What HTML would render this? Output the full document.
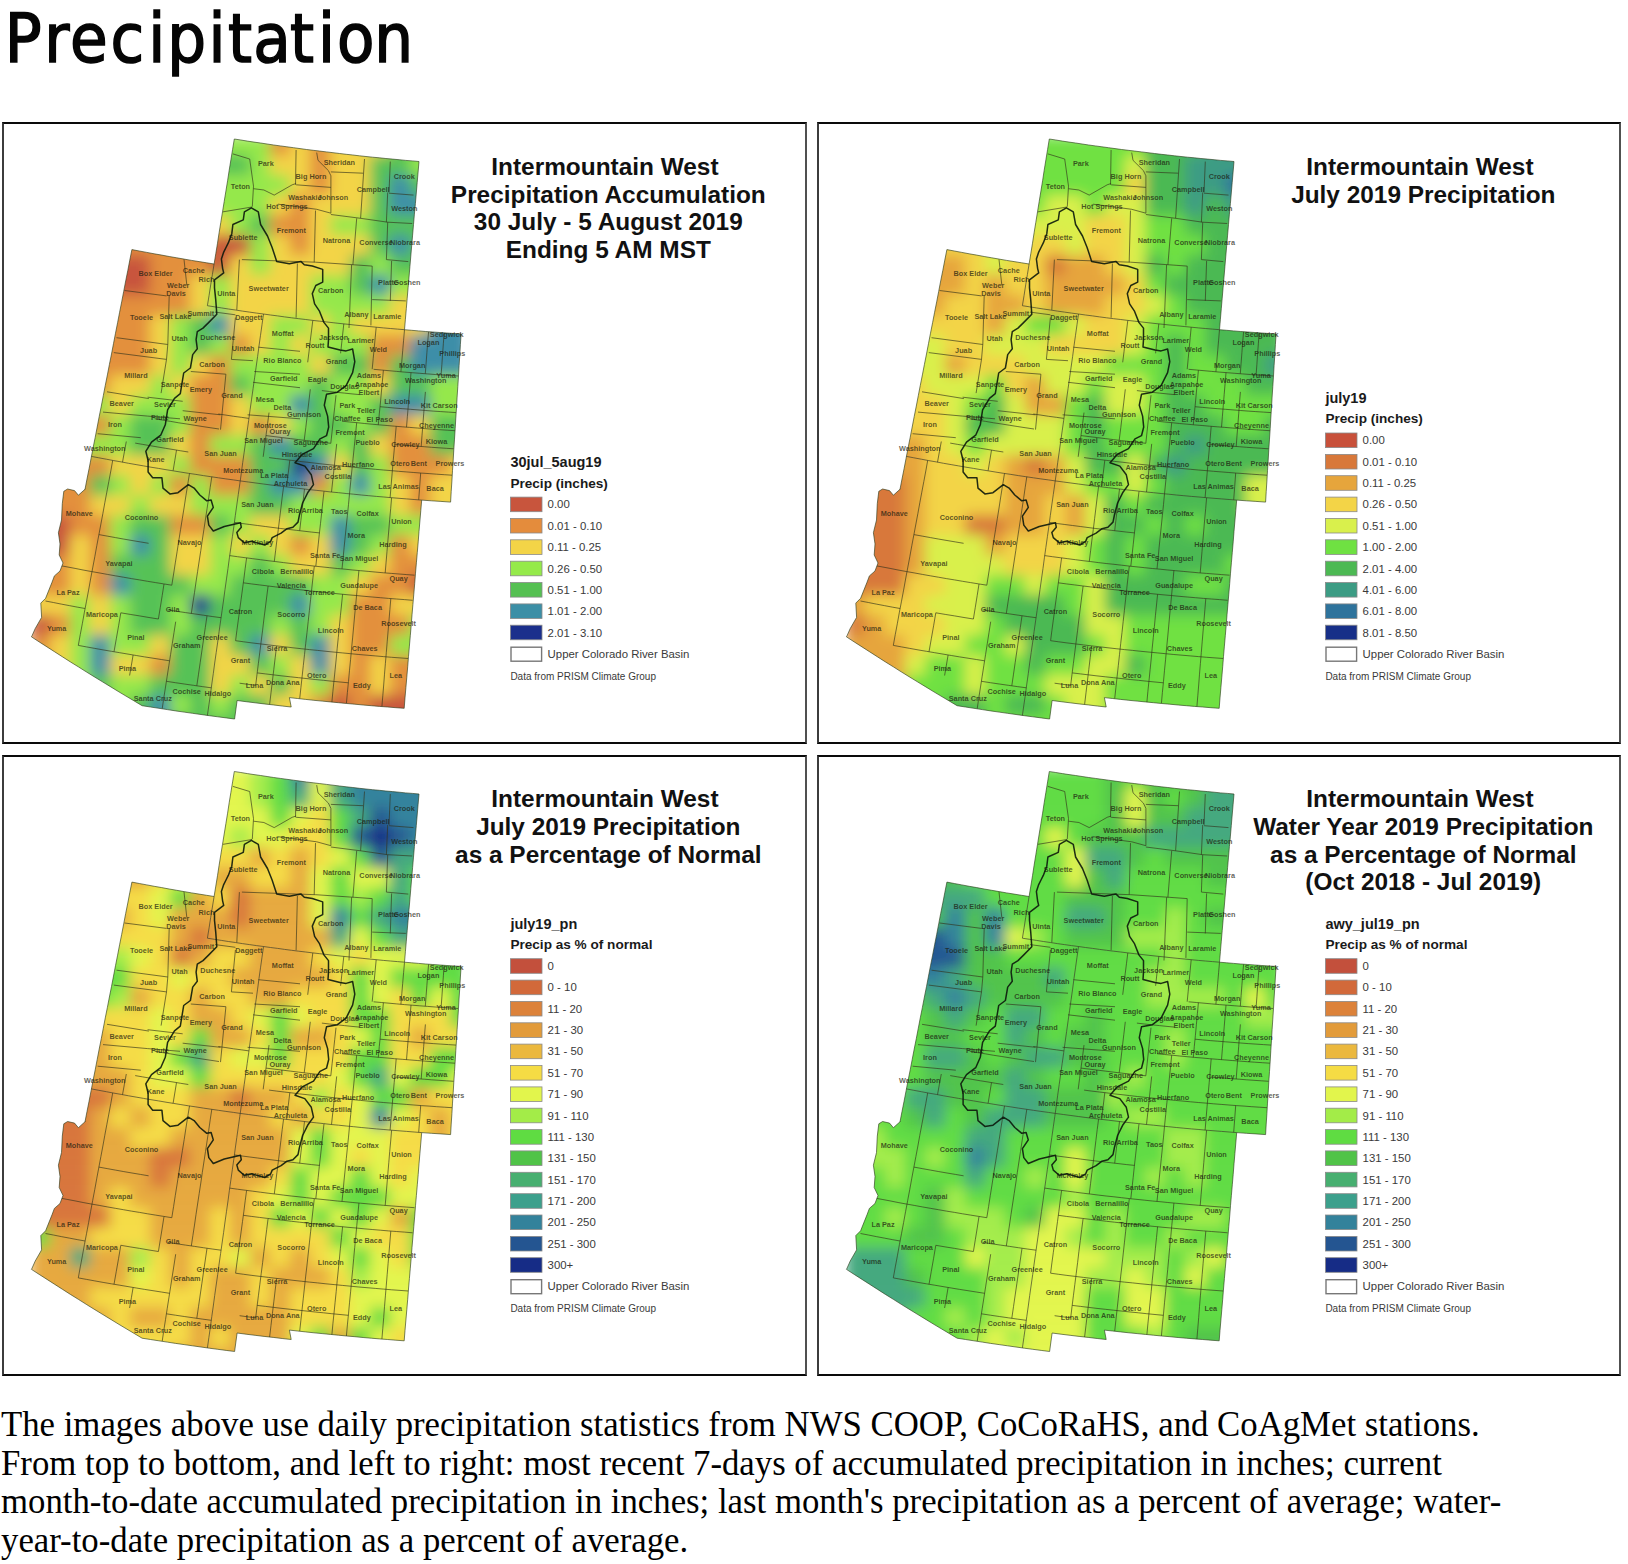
<!DOCTYPE html>
<html><head><meta charset="utf-8"><title>Precipitation</title>
<style>
html,body{margin:0;padding:0;background:#fff;}
body{width:1628px;height:1564px;position:relative;overflow:hidden;}
h1{position:absolute;left:3.2px;top:-2px;transform:scaleX(0.941);margin:0;font:normal 70px "DejaVu Sans",sans-serif;color:#0a0a0a;white-space:nowrap;transform-origin:0 0;}
.box{position:absolute;box-sizing:border-box;border:2px solid #0a0a0a;border-left-color:#3c3c3c;border-right-color:#505050;height:621.6px;}
p{position:absolute;left:0;margin:0;font:34.75px/38.7px "Liberation Serif","Times New Roman",serif;color:#000;white-space:nowrap;}
svg{position:absolute;left:0;top:0;}
.hd{font:normal 68px "DejaVu Sans Condensed","DejaVu Sans",sans-serif;font-stretch:condensed;fill:#050505;stroke:#050505;stroke-width:1.5px;}
.tt{font:bold 24.4px "Liberation Sans",Arial,sans-serif;fill:#111;text-anchor:middle;}
.lt{font:bold 14.5px "Liberation Sans",Arial,sans-serif;fill:#1a1a1a;}
.ls{font:bold 13.6px "Liberation Sans",Arial,sans-serif;fill:#1a1a1a;}
.ll{font:11.4px "Liberation Sans",Arial,sans-serif;fill:#3a3a3a;}
.cl{font:bold 7.3px "Liberation Sans",Arial,sans-serif;fill:#1d1d10;fill-opacity:0.72;text-anchor:middle;}
.lc{font:10px "Liberation Sans",Arial,sans-serif;fill:#3a3a3a;}
</style></head><body>
<div class="box" style="left:2.4px;top:122.4px;width:804.6px"></div>
<div class="box" style="left:817px;top:122.4px;width:804px"></div>
<div class="box" style="left:2.4px;top:754.8px;width:804.6px"></div>
<div class="box" style="left:817px;top:754.8px;width:804px"></div>
<svg width="1628" height="1564" viewBox="0 0 1628 1564">
<defs>
<clipPath id="clip"><path d="M131.9,249.6 L139.3,251.0 L146.8,252.4 L154.2,253.8 L161.7,255.1 L169.2,256.5 L176.7,257.8 L184.1,259.1 L191.6,260.4 L199.1,261.6 L206.6,262.8 L214.1,264.0 L215.8,253.6 L217.5,243.2 L219.1,232.8 L220.8,222.4 L222.5,211.9 L224.2,201.5 L225.9,191.1 L227.6,180.7 L229.2,170.2 L230.9,159.8 L232.6,149.4 L234.3,139.0 L240.8,140.0 L247.4,141.1 L254.0,142.1 L260.6,143.0 L267.1,144.0 L273.7,145.0 L280.3,145.9 L286.9,146.8 L293.5,147.7 L300.0,148.6 L306.6,149.5 L313.2,150.3 L319.8,151.1 L326.4,151.9 L333.0,152.7 L339.6,153.5 L346.2,154.3 L352.8,155.0 L359.4,155.8 L366.0,156.5 L372.6,157.2 L379.3,157.8 L385.9,158.5 L392.5,159.1 L399.1,159.7 L405.7,160.4 L412.3,160.9 L419.0,161.5 L418.1,172.0 L417.2,182.5 L416.3,193.0 L415.4,203.6 L414.4,214.1 L413.5,224.6 L412.6,235.1 L411.7,245.6 L410.8,256.1 L409.9,266.7 L409.0,277.2 L408.1,287.7 L407.2,298.2 L406.3,308.7 L405.4,319.2 L404.5,329.7 L411.6,330.3 L418.6,330.9 L425.7,331.5 L432.8,332.0 L439.9,332.5 L446.9,333.0 L454.0,333.5 L461.1,333.9 L460.4,344.5 L459.8,355.0 L459.1,365.5 L458.5,376.0 L457.8,386.6 L457.1,397.1 L456.5,407.6 L455.8,418.1 L455.2,428.6 L454.5,439.1 L453.8,449.6 L453.2,460.1 L452.5,470.6 L451.9,481.1 L451.2,491.6 L450.6,502.1 L440.9,501.4 L431.3,500.8 L421.7,500.1 L420.8,510.5 L419.9,521.0 L419.0,531.4 L418.2,541.9 L417.3,552.3 L416.4,562.8 L415.5,573.2 L414.7,583.6 L413.8,594.1 L412.9,604.5 L412.0,614.9 L411.2,625.3 L410.3,635.7 L409.4,646.1 L408.5,656.5 L407.7,666.8 L406.8,677.2 L405.9,687.6 L405.0,697.9 L404.2,708.3 L395.9,707.7 L387.7,707.0 L379.5,706.4 L371.3,705.7 L363.1,705.0 L354.9,704.2 L346.7,703.5 L338.5,702.7 L330.3,701.9 L322.1,701.1 L313.9,700.3 L305.7,699.4 L297.5,698.5 L289.4,697.6 L291.2,707.0 L282.2,706.0 L273.2,704.9 L264.1,703.9 L255.1,702.8 L246.1,701.7 L237.1,700.5 L234.6,719.0 L226.2,717.9 L217.8,716.8 L209.4,715.7 L201.0,714.5 L192.5,713.3 L184.1,712.1 L175.7,710.9 L167.3,709.6 L158.9,708.3 L150.5,707.0 L142.1,705.7 L134.1,700.9 L126.0,696.1 L118.0,691.3 L110.0,686.4 L102.1,681.6 L94.1,676.7 L86.2,671.8 L78.3,666.8 L70.4,661.9 L62.6,656.9 L54.8,651.9 L47.0,646.9 L39.2,641.9 L31.4,636.8 L32.0,635.8 L35.2,628.6 L41.6,617.4 L40.8,603.1 L45.6,598.3 L52.0,582.3 L54.4,575.9 L60.0,571.0 L63.0,563.0 L59.2,555.0 L60.0,543.9 L58.4,532.7 L61.5,520.0 L62.3,503.6 L63.8,491.3 L67.6,489.0 L74.5,490.6 L78.4,495.2 L85.3,489.0 L85.0,489.3 L87.0,479.0 L89.1,468.6 L91.1,458.2 L93.1,447.8 L95.2,437.4 L97.2,427.0 L99.2,416.6 L101.3,406.1 L103.3,395.7 L105.3,385.3 L107.4,374.9 L109.4,364.5 L111.5,354.0 L113.5,343.6 L115.5,333.2 L117.6,322.7 L119.6,312.3 L121.7,301.8 L123.7,291.4 L125.7,280.9 L127.8,270.5 L129.8,260.1 L131.9,249.6Z"/></clipPath>
<filter id="bl" x="-5%" y="-5%" width="110%" height="110%"><feGaussianBlur stdDeviation="7"/></filter>
</defs>
<text x="4.65 44.35 70.05 110.55 148.25 167.15 208.60 228.10 253.25 290.10 317.90 336.95 374.35" y="61.9" class="hd">Precipitation</text>
<g transform="translate(0,0)">
<g clip-path="url(#clip)"><g filter="url(#bl)"><rect x="30" y="135" width="20" height="20" fill="#95e84c"/><rect x="50" y="135" width="20" height="20" fill="#95e84c"/><rect x="70" y="135" width="20" height="20" fill="#95e84c"/><rect x="90" y="135" width="20" height="20" fill="#95e84c"/><rect x="110" y="135" width="20" height="20" fill="#95e84c"/><rect x="130" y="135" width="20" height="20" fill="#95e84c"/><rect x="150" y="135" width="20" height="20" fill="#95e84c"/><rect x="170" y="135" width="20" height="20" fill="#95e84c"/><rect x="190" y="135" width="20" height="20" fill="#95e84c"/><rect x="210" y="135" width="20" height="20" fill="#95e84c"/><rect x="230" y="135" width="20" height="20" fill="#95e84c"/><rect x="250" y="135" width="20" height="20" fill="#95e84c"/><rect x="270" y="135" width="20" height="20" fill="#e3903e"/><rect x="290" y="135" width="20" height="20" fill="#f3d447"/><rect x="310" y="135" width="20" height="20" fill="#e3903e"/><rect x="330" y="135" width="20" height="20" fill="#f3d447"/><rect x="350" y="135" width="20" height="20" fill="#f3d447"/><rect x="370" y="135" width="20" height="20" fill="#f3d447"/><rect x="390" y="135" width="20" height="20" fill="#57c257"/><rect x="410" y="135" width="20" height="20" fill="#95e84c"/><rect x="430" y="135" width="20" height="20" fill="#95e84c"/><rect x="450" y="135" width="20" height="20" fill="#95e84c"/><rect x="30" y="155" width="20" height="20" fill="#e3903e"/><rect x="50" y="155" width="20" height="20" fill="#e3903e"/><rect x="70" y="155" width="20" height="20" fill="#e3903e"/><rect x="90" y="155" width="20" height="20" fill="#e3903e"/><rect x="110" y="155" width="20" height="20" fill="#e3903e"/><rect x="130" y="155" width="20" height="20" fill="#e3903e"/><rect x="150" y="155" width="20" height="20" fill="#57c257"/><rect x="170" y="155" width="20" height="20" fill="#57c257"/><rect x="190" y="155" width="20" height="20" fill="#57c257"/><rect x="210" y="155" width="20" height="20" fill="#57c257"/><rect x="230" y="155" width="20" height="20" fill="#57c257"/><rect x="250" y="155" width="20" height="20" fill="#95e84c"/><rect x="270" y="155" width="20" height="20" fill="#f3d447"/><rect x="290" y="155" width="20" height="20" fill="#f3d447"/><rect x="310" y="155" width="20" height="20" fill="#e3903e"/><rect x="330" y="155" width="20" height="20" fill="#f3d447"/><rect x="350" y="155" width="20" height="20" fill="#f3d447"/><rect x="370" y="155" width="20" height="20" fill="#57c257"/><rect x="390" y="155" width="20" height="20" fill="#57c257"/><rect x="410" y="155" width="20" height="20" fill="#95e84c"/><rect x="430" y="155" width="20" height="20" fill="#95e84c"/><rect x="450" y="155" width="20" height="20" fill="#95e84c"/><rect x="30" y="175" width="20" height="20" fill="#e3903e"/><rect x="50" y="175" width="20" height="20" fill="#e3903e"/><rect x="70" y="175" width="20" height="20" fill="#e3903e"/><rect x="90" y="175" width="20" height="20" fill="#e3903e"/><rect x="110" y="175" width="20" height="20" fill="#e3903e"/><rect x="130" y="175" width="20" height="20" fill="#e3903e"/><rect x="150" y="175" width="20" height="20" fill="#e3903e"/><rect x="170" y="175" width="20" height="20" fill="#95e84c"/><rect x="190" y="175" width="20" height="20" fill="#95e84c"/><rect x="210" y="175" width="20" height="20" fill="#95e84c"/><rect x="230" y="175" width="20" height="20" fill="#95e84c"/><rect x="250" y="175" width="20" height="20" fill="#95e84c"/><rect x="270" y="175" width="20" height="20" fill="#95e84c"/><rect x="290" y="175" width="20" height="20" fill="#f3d447"/><rect x="310" y="175" width="20" height="20" fill="#e3903e"/><rect x="330" y="175" width="20" height="20" fill="#f3d447"/><rect x="350" y="175" width="20" height="20" fill="#f3d447"/><rect x="370" y="175" width="20" height="20" fill="#57c257"/><rect x="390" y="175" width="20" height="20" fill="#3d8ea8"/><rect x="410" y="175" width="20" height="20" fill="#57c257"/><rect x="430" y="175" width="20" height="20" fill="#57c257"/><rect x="450" y="175" width="20" height="20" fill="#57c257"/><rect x="30" y="195" width="20" height="20" fill="#e3903e"/><rect x="50" y="195" width="20" height="20" fill="#e3903e"/><rect x="70" y="195" width="20" height="20" fill="#e3903e"/><rect x="90" y="195" width="20" height="20" fill="#e3903e"/><rect x="110" y="195" width="20" height="20" fill="#e3903e"/><rect x="130" y="195" width="20" height="20" fill="#e3903e"/><rect x="150" y="195" width="20" height="20" fill="#e3903e"/><rect x="170" y="195" width="20" height="20" fill="#95e84c"/><rect x="190" y="195" width="20" height="20" fill="#95e84c"/><rect x="210" y="195" width="20" height="20" fill="#95e84c"/><rect x="230" y="195" width="20" height="20" fill="#95e84c"/><rect x="250" y="195" width="20" height="20" fill="#95e84c"/><rect x="270" y="195" width="20" height="20" fill="#f3d447"/><rect x="290" y="195" width="20" height="20" fill="#e3903e"/><rect x="310" y="195" width="20" height="20" fill="#f3d447"/><rect x="330" y="195" width="20" height="20" fill="#f3d447"/><rect x="350" y="195" width="20" height="20" fill="#f3d447"/><rect x="370" y="195" width="20" height="20" fill="#57c257"/><rect x="390" y="195" width="20" height="20" fill="#3d8ea8"/><rect x="410" y="195" width="20" height="20" fill="#3d8ea8"/><rect x="430" y="195" width="20" height="20" fill="#3d8ea8"/><rect x="450" y="195" width="20" height="20" fill="#3d8ea8"/><rect x="30" y="215" width="20" height="20" fill="#e3903e"/><rect x="50" y="215" width="20" height="20" fill="#e3903e"/><rect x="70" y="215" width="20" height="20" fill="#e3903e"/><rect x="90" y="215" width="20" height="20" fill="#e3903e"/><rect x="110" y="215" width="20" height="20" fill="#e3903e"/><rect x="130" y="215" width="20" height="20" fill="#e3903e"/><rect x="150" y="215" width="20" height="20" fill="#e3903e"/><rect x="170" y="215" width="20" height="20" fill="#e3903e"/><rect x="190" y="215" width="20" height="20" fill="#f3d447"/><rect x="210" y="215" width="20" height="20" fill="#f3d447"/><rect x="230" y="215" width="20" height="20" fill="#95e84c"/><rect x="250" y="215" width="20" height="20" fill="#57c257"/><rect x="270" y="215" width="20" height="20" fill="#e3903e"/><rect x="290" y="215" width="20" height="20" fill="#e3903e"/><rect x="310" y="215" width="20" height="20" fill="#f3d447"/><rect x="330" y="215" width="20" height="20" fill="#95e84c"/><rect x="350" y="215" width="20" height="20" fill="#95e84c"/><rect x="370" y="215" width="20" height="20" fill="#57c257"/><rect x="390" y="215" width="20" height="20" fill="#57c257"/><rect x="410" y="215" width="20" height="20" fill="#57c257"/><rect x="430" y="215" width="20" height="20" fill="#57c257"/><rect x="450" y="215" width="20" height="20" fill="#57c257"/><rect x="30" y="235" width="20" height="20" fill="#e3903e"/><rect x="50" y="235" width="20" height="20" fill="#e3903e"/><rect x="70" y="235" width="20" height="20" fill="#e3903e"/><rect x="90" y="235" width="20" height="20" fill="#e3903e"/><rect x="110" y="235" width="20" height="20" fill="#e3903e"/><rect x="130" y="235" width="20" height="20" fill="#e3903e"/><rect x="150" y="235" width="20" height="20" fill="#e3903e"/><rect x="170" y="235" width="20" height="20" fill="#e3903e"/><rect x="190" y="235" width="20" height="20" fill="#e3903e"/><rect x="210" y="235" width="20" height="20" fill="#c8553d"/><rect x="230" y="235" width="20" height="20" fill="#c8553d"/><rect x="250" y="235" width="20" height="20" fill="#95e84c"/><rect x="270" y="235" width="20" height="20" fill="#f3d447"/><rect x="290" y="235" width="20" height="20" fill="#e3903e"/><rect x="310" y="235" width="20" height="20" fill="#f3d447"/><rect x="330" y="235" width="20" height="20" fill="#f3d447"/><rect x="350" y="235" width="20" height="20" fill="#f3d447"/><rect x="370" y="235" width="20" height="20" fill="#57c257"/><rect x="390" y="235" width="20" height="20" fill="#3d8ea8"/><rect x="410" y="235" width="20" height="20" fill="#57c257"/><rect x="430" y="235" width="20" height="20" fill="#57c257"/><rect x="450" y="235" width="20" height="20" fill="#57c257"/><rect x="30" y="255" width="20" height="20" fill="#c8553d"/><rect x="50" y="255" width="20" height="20" fill="#c8553d"/><rect x="70" y="255" width="20" height="20" fill="#c8553d"/><rect x="90" y="255" width="20" height="20" fill="#c8553d"/><rect x="110" y="255" width="20" height="20" fill="#c8553d"/><rect x="130" y="255" width="20" height="20" fill="#c8553d"/><rect x="150" y="255" width="20" height="20" fill="#e3903e"/><rect x="170" y="255" width="20" height="20" fill="#e3903e"/><rect x="190" y="255" width="20" height="20" fill="#e3903e"/><rect x="210" y="255" width="20" height="20" fill="#c8553d"/><rect x="230" y="255" width="20" height="20" fill="#f3d447"/><rect x="250" y="255" width="20" height="20" fill="#95e84c"/><rect x="270" y="255" width="20" height="20" fill="#f3d447"/><rect x="290" y="255" width="20" height="20" fill="#f3d447"/><rect x="310" y="255" width="20" height="20" fill="#f3d447"/><rect x="330" y="255" width="20" height="20" fill="#f3d447"/><rect x="350" y="255" width="20" height="20" fill="#57c257"/><rect x="370" y="255" width="20" height="20" fill="#95e84c"/><rect x="390" y="255" width="20" height="20" fill="#57c257"/><rect x="410" y="255" width="20" height="20" fill="#57c257"/><rect x="430" y="255" width="20" height="20" fill="#57c257"/><rect x="450" y="255" width="20" height="20" fill="#57c257"/><rect x="30" y="275" width="20" height="20" fill="#c8553d"/><rect x="50" y="275" width="20" height="20" fill="#c8553d"/><rect x="70" y="275" width="20" height="20" fill="#c8553d"/><rect x="90" y="275" width="20" height="20" fill="#c8553d"/><rect x="110" y="275" width="20" height="20" fill="#c8553d"/><rect x="130" y="275" width="20" height="20" fill="#c8553d"/><rect x="150" y="275" width="20" height="20" fill="#e3903e"/><rect x="170" y="275" width="20" height="20" fill="#e3903e"/><rect x="190" y="275" width="20" height="20" fill="#f3d447"/><rect x="210" y="275" width="20" height="20" fill="#95e84c"/><rect x="230" y="275" width="20" height="20" fill="#f3d447"/><rect x="250" y="275" width="20" height="20" fill="#f3d447"/><rect x="270" y="275" width="20" height="20" fill="#f3d447"/><rect x="290" y="275" width="20" height="20" fill="#f3d447"/><rect x="310" y="275" width="20" height="20" fill="#95e84c"/><rect x="330" y="275" width="20" height="20" fill="#95e84c"/><rect x="350" y="275" width="20" height="20" fill="#57c257"/><rect x="370" y="275" width="20" height="20" fill="#3d8ea8"/><rect x="390" y="275" width="20" height="20" fill="#95e84c"/><rect x="410" y="275" width="20" height="20" fill="#95e84c"/><rect x="430" y="275" width="20" height="20" fill="#95e84c"/><rect x="450" y="275" width="20" height="20" fill="#95e84c"/><rect x="30" y="295" width="20" height="20" fill="#e3903e"/><rect x="50" y="295" width="20" height="20" fill="#e3903e"/><rect x="70" y="295" width="20" height="20" fill="#e3903e"/><rect x="90" y="295" width="20" height="20" fill="#e3903e"/><rect x="110" y="295" width="20" height="20" fill="#e3903e"/><rect x="130" y="295" width="20" height="20" fill="#e3903e"/><rect x="150" y="295" width="20" height="20" fill="#e3903e"/><rect x="170" y="295" width="20" height="20" fill="#e3903e"/><rect x="190" y="295" width="20" height="20" fill="#f3d447"/><rect x="210" y="295" width="20" height="20" fill="#95e84c"/><rect x="230" y="295" width="20" height="20" fill="#f3d447"/><rect x="250" y="295" width="20" height="20" fill="#f3d447"/><rect x="270" y="295" width="20" height="20" fill="#f3d447"/><rect x="290" y="295" width="20" height="20" fill="#f3d447"/><rect x="310" y="295" width="20" height="20" fill="#95e84c"/><rect x="330" y="295" width="20" height="20" fill="#95e84c"/><rect x="350" y="295" width="20" height="20" fill="#95e84c"/><rect x="370" y="295" width="20" height="20" fill="#95e84c"/><rect x="390" y="295" width="20" height="20" fill="#f3d447"/><rect x="410" y="295" width="20" height="20" fill="#f3d447"/><rect x="430" y="295" width="20" height="20" fill="#f3d447"/><rect x="450" y="295" width="20" height="20" fill="#3d8ea8"/><rect x="30" y="315" width="20" height="20" fill="#e3903e"/><rect x="50" y="315" width="20" height="20" fill="#e3903e"/><rect x="70" y="315" width="20" height="20" fill="#e3903e"/><rect x="90" y="315" width="20" height="20" fill="#e3903e"/><rect x="110" y="315" width="20" height="20" fill="#e3903e"/><rect x="130" y="315" width="20" height="20" fill="#e3903e"/><rect x="150" y="315" width="20" height="20" fill="#f3d447"/><rect x="170" y="315" width="20" height="20" fill="#95e84c"/><rect x="190" y="315" width="20" height="20" fill="#57c257"/><rect x="210" y="315" width="20" height="20" fill="#3d8ea8"/><rect x="230" y="315" width="20" height="20" fill="#f3d447"/><rect x="250" y="315" width="20" height="20" fill="#f3d447"/><rect x="270" y="315" width="20" height="20" fill="#95e84c"/><rect x="290" y="315" width="20" height="20" fill="#95e84c"/><rect x="310" y="315" width="20" height="20" fill="#f3d447"/><rect x="330" y="315" width="20" height="20" fill="#95e84c"/><rect x="350" y="315" width="20" height="20" fill="#f3d447"/><rect x="370" y="315" width="20" height="20" fill="#f3d447"/><rect x="390" y="315" width="20" height="20" fill="#f3d447"/><rect x="410" y="315" width="20" height="20" fill="#f3d447"/><rect x="430" y="315" width="20" height="20" fill="#3d8ea8"/><rect x="450" y="315" width="20" height="20" fill="#3d8ea8"/><rect x="30" y="335" width="20" height="20" fill="#e3903e"/><rect x="50" y="335" width="20" height="20" fill="#e3903e"/><rect x="70" y="335" width="20" height="20" fill="#e3903e"/><rect x="90" y="335" width="20" height="20" fill="#e3903e"/><rect x="110" y="335" width="20" height="20" fill="#e3903e"/><rect x="130" y="335" width="20" height="20" fill="#e3903e"/><rect x="150" y="335" width="20" height="20" fill="#f3d447"/><rect x="170" y="335" width="20" height="20" fill="#95e84c"/><rect x="190" y="335" width="20" height="20" fill="#57c257"/><rect x="210" y="335" width="20" height="20" fill="#95e84c"/><rect x="230" y="335" width="20" height="20" fill="#e3903e"/><rect x="250" y="335" width="20" height="20" fill="#f3d447"/><rect x="270" y="335" width="20" height="20" fill="#95e84c"/><rect x="290" y="335" width="20" height="20" fill="#f3d447"/><rect x="310" y="335" width="20" height="20" fill="#95e84c"/><rect x="330" y="335" width="20" height="20" fill="#95e84c"/><rect x="350" y="335" width="20" height="20" fill="#95e84c"/><rect x="370" y="335" width="20" height="20" fill="#e3903e"/><rect x="390" y="335" width="20" height="20" fill="#e3903e"/><rect x="410" y="335" width="20" height="20" fill="#3d8ea8"/><rect x="430" y="335" width="20" height="20" fill="#3d8ea8"/><rect x="450" y="335" width="20" height="20" fill="#3d8ea8"/><rect x="30" y="355" width="20" height="20" fill="#e3903e"/><rect x="50" y="355" width="20" height="20" fill="#e3903e"/><rect x="70" y="355" width="20" height="20" fill="#e3903e"/><rect x="90" y="355" width="20" height="20" fill="#e3903e"/><rect x="110" y="355" width="20" height="20" fill="#e3903e"/><rect x="130" y="355" width="20" height="20" fill="#e3903e"/><rect x="150" y="355" width="20" height="20" fill="#f3d447"/><rect x="170" y="355" width="20" height="20" fill="#95e84c"/><rect x="190" y="355" width="20" height="20" fill="#f3d447"/><rect x="210" y="355" width="20" height="20" fill="#e3903e"/><rect x="230" y="355" width="20" height="20" fill="#95e84c"/><rect x="250" y="355" width="20" height="20" fill="#95e84c"/><rect x="270" y="355" width="20" height="20" fill="#95e84c"/><rect x="290" y="355" width="20" height="20" fill="#95e84c"/><rect x="310" y="355" width="20" height="20" fill="#f3d447"/><rect x="330" y="355" width="20" height="20" fill="#57c257"/><rect x="350" y="355" width="20" height="20" fill="#57c257"/><rect x="370" y="355" width="20" height="20" fill="#e3903e"/><rect x="390" y="355" width="20" height="20" fill="#57c257"/><rect x="410" y="355" width="20" height="20" fill="#3d8ea8"/><rect x="430" y="355" width="20" height="20" fill="#3d8ea8"/><rect x="450" y="355" width="20" height="20" fill="#3d8ea8"/><rect x="30" y="375" width="20" height="20" fill="#e3903e"/><rect x="50" y="375" width="20" height="20" fill="#e3903e"/><rect x="70" y="375" width="20" height="20" fill="#e3903e"/><rect x="90" y="375" width="20" height="20" fill="#e3903e"/><rect x="110" y="375" width="20" height="20" fill="#f3d447"/><rect x="130" y="375" width="20" height="20" fill="#f3d447"/><rect x="150" y="375" width="20" height="20" fill="#95e84c"/><rect x="170" y="375" width="20" height="20" fill="#f3d447"/><rect x="190" y="375" width="20" height="20" fill="#e3903e"/><rect x="210" y="375" width="20" height="20" fill="#e3903e"/><rect x="230" y="375" width="20" height="20" fill="#57c257"/><rect x="250" y="375" width="20" height="20" fill="#95e84c"/><rect x="270" y="375" width="20" height="20" fill="#95e84c"/><rect x="290" y="375" width="20" height="20" fill="#95e84c"/><rect x="310" y="375" width="20" height="20" fill="#57c257"/><rect x="330" y="375" width="20" height="20" fill="#95e84c"/><rect x="350" y="375" width="20" height="20" fill="#95e84c"/><rect x="370" y="375" width="20" height="20" fill="#f3d447"/><rect x="390" y="375" width="20" height="20" fill="#57c257"/><rect x="410" y="375" width="20" height="20" fill="#57c257"/><rect x="430" y="375" width="20" height="20" fill="#95e84c"/><rect x="450" y="375" width="20" height="20" fill="#95e84c"/><rect x="30" y="395" width="20" height="20" fill="#95e84c"/><rect x="50" y="395" width="20" height="20" fill="#95e84c"/><rect x="70" y="395" width="20" height="20" fill="#95e84c"/><rect x="90" y="395" width="20" height="20" fill="#95e84c"/><rect x="110" y="395" width="20" height="20" fill="#f3d447"/><rect x="130" y="395" width="20" height="20" fill="#95e84c"/><rect x="150" y="395" width="20" height="20" fill="#95e84c"/><rect x="170" y="395" width="20" height="20" fill="#95e84c"/><rect x="190" y="395" width="20" height="20" fill="#e3903e"/><rect x="210" y="395" width="20" height="20" fill="#e3903e"/><rect x="230" y="395" width="20" height="20" fill="#f3d447"/><rect x="250" y="395" width="20" height="20" fill="#95e84c"/><rect x="270" y="395" width="20" height="20" fill="#95e84c"/><rect x="290" y="395" width="20" height="20" fill="#3d8ea8"/><rect x="310" y="395" width="20" height="20" fill="#57c257"/><rect x="330" y="395" width="20" height="20" fill="#95e84c"/><rect x="350" y="395" width="20" height="20" fill="#95e84c"/><rect x="370" y="395" width="20" height="20" fill="#57c257"/><rect x="390" y="395" width="20" height="20" fill="#3d8ea8"/><rect x="410" y="395" width="20" height="20" fill="#3d8ea8"/><rect x="430" y="395" width="20" height="20" fill="#95e84c"/><rect x="450" y="395" width="20" height="20" fill="#95e84c"/><rect x="30" y="415" width="20" height="20" fill="#e3903e"/><rect x="50" y="415" width="20" height="20" fill="#e3903e"/><rect x="70" y="415" width="20" height="20" fill="#e3903e"/><rect x="90" y="415" width="20" height="20" fill="#e3903e"/><rect x="110" y="415" width="20" height="20" fill="#95e84c"/><rect x="130" y="415" width="20" height="20" fill="#57c257"/><rect x="150" y="415" width="20" height="20" fill="#57c257"/><rect x="170" y="415" width="20" height="20" fill="#95e84c"/><rect x="190" y="415" width="20" height="20" fill="#e3903e"/><rect x="210" y="415" width="20" height="20" fill="#e3903e"/><rect x="230" y="415" width="20" height="20" fill="#f3d447"/><rect x="250" y="415" width="20" height="20" fill="#e3903e"/><rect x="270" y="415" width="20" height="20" fill="#f3d447"/><rect x="290" y="415" width="20" height="20" fill="#95e84c"/><rect x="310" y="415" width="20" height="20" fill="#57c257"/><rect x="330" y="415" width="20" height="20" fill="#57c257"/><rect x="350" y="415" width="20" height="20" fill="#95e84c"/><rect x="370" y="415" width="20" height="20" fill="#57c257"/><rect x="390" y="415" width="20" height="20" fill="#e3903e"/><rect x="410" y="415" width="20" height="20" fill="#f3d447"/><rect x="430" y="415" width="20" height="20" fill="#57c257"/><rect x="450" y="415" width="20" height="20" fill="#57c257"/><rect x="30" y="435" width="20" height="20" fill="#95e84c"/><rect x="50" y="435" width="20" height="20" fill="#95e84c"/><rect x="70" y="435" width="20" height="20" fill="#95e84c"/><rect x="90" y="435" width="20" height="20" fill="#95e84c"/><rect x="110" y="435" width="20" height="20" fill="#95e84c"/><rect x="130" y="435" width="20" height="20" fill="#57c257"/><rect x="150" y="435" width="20" height="20" fill="#57c257"/><rect x="170" y="435" width="20" height="20" fill="#f3d447"/><rect x="190" y="435" width="20" height="20" fill="#e3903e"/><rect x="210" y="435" width="20" height="20" fill="#95e84c"/><rect x="230" y="435" width="20" height="20" fill="#95e84c"/><rect x="250" y="435" width="20" height="20" fill="#57c257"/><rect x="270" y="435" width="20" height="20" fill="#3d8ea8"/><rect x="290" y="435" width="20" height="20" fill="#57c257"/><rect x="310" y="435" width="20" height="20" fill="#57c257"/><rect x="330" y="435" width="20" height="20" fill="#95e84c"/><rect x="350" y="435" width="20" height="20" fill="#57c257"/><rect x="370" y="435" width="20" height="20" fill="#f3d447"/><rect x="390" y="435" width="20" height="20" fill="#e3903e"/><rect x="410" y="435" width="20" height="20" fill="#e3903e"/><rect x="430" y="435" width="20" height="20" fill="#57c257"/><rect x="450" y="435" width="20" height="20" fill="#57c257"/><rect x="30" y="455" width="20" height="20" fill="#e3903e"/><rect x="50" y="455" width="20" height="20" fill="#e3903e"/><rect x="70" y="455" width="20" height="20" fill="#e3903e"/><rect x="90" y="455" width="20" height="20" fill="#e3903e"/><rect x="110" y="455" width="20" height="20" fill="#f3d447"/><rect x="130" y="455" width="20" height="20" fill="#f3d447"/><rect x="150" y="455" width="20" height="20" fill="#f3d447"/><rect x="170" y="455" width="20" height="20" fill="#95e84c"/><rect x="190" y="455" width="20" height="20" fill="#e3903e"/><rect x="210" y="455" width="20" height="20" fill="#e3903e"/><rect x="230" y="455" width="20" height="20" fill="#e3903e"/><rect x="250" y="455" width="20" height="20" fill="#57c257"/><rect x="270" y="455" width="20" height="20" fill="#57c257"/><rect x="290" y="455" width="20" height="20" fill="#1d3790"/><rect x="310" y="455" width="20" height="20" fill="#3d8ea8"/><rect x="330" y="455" width="20" height="20" fill="#f3d447"/><rect x="350" y="455" width="20" height="20" fill="#57c257"/><rect x="370" y="455" width="20" height="20" fill="#95e84c"/><rect x="390" y="455" width="20" height="20" fill="#e3903e"/><rect x="410" y="455" width="20" height="20" fill="#e3903e"/><rect x="430" y="455" width="20" height="20" fill="#e3903e"/><rect x="450" y="455" width="20" height="20" fill="#f3d447"/><rect x="30" y="475" width="20" height="20" fill="#e3903e"/><rect x="50" y="475" width="20" height="20" fill="#e3903e"/><rect x="70" y="475" width="20" height="20" fill="#e3903e"/><rect x="90" y="475" width="20" height="20" fill="#57c257"/><rect x="110" y="475" width="20" height="20" fill="#95e84c"/><rect x="130" y="475" width="20" height="20" fill="#f3d447"/><rect x="150" y="475" width="20" height="20" fill="#95e84c"/><rect x="170" y="475" width="20" height="20" fill="#e3903e"/><rect x="190" y="475" width="20" height="20" fill="#95e84c"/><rect x="210" y="475" width="20" height="20" fill="#e3903e"/><rect x="230" y="475" width="20" height="20" fill="#e3903e"/><rect x="250" y="475" width="20" height="20" fill="#57c257"/><rect x="270" y="475" width="20" height="20" fill="#3d8ea8"/><rect x="290" y="475" width="20" height="20" fill="#3d8ea8"/><rect x="310" y="475" width="20" height="20" fill="#e3903e"/><rect x="330" y="475" width="20" height="20" fill="#95e84c"/><rect x="350" y="475" width="20" height="20" fill="#3d8ea8"/><rect x="370" y="475" width="20" height="20" fill="#95e84c"/><rect x="390" y="475" width="20" height="20" fill="#f3d447"/><rect x="410" y="475" width="20" height="20" fill="#e3903e"/><rect x="430" y="475" width="20" height="20" fill="#f3d447"/><rect x="450" y="475" width="20" height="20" fill="#f3d447"/><rect x="30" y="495" width="20" height="20" fill="#e3903e"/><rect x="50" y="495" width="20" height="20" fill="#e3903e"/><rect x="70" y="495" width="20" height="20" fill="#e3903e"/><rect x="90" y="495" width="20" height="20" fill="#f3d447"/><rect x="110" y="495" width="20" height="20" fill="#f3d447"/><rect x="130" y="495" width="20" height="20" fill="#95e84c"/><rect x="150" y="495" width="20" height="20" fill="#f3d447"/><rect x="170" y="495" width="20" height="20" fill="#f3d447"/><rect x="190" y="495" width="20" height="20" fill="#95e84c"/><rect x="210" y="495" width="20" height="20" fill="#95e84c"/><rect x="230" y="495" width="20" height="20" fill="#95e84c"/><rect x="250" y="495" width="20" height="20" fill="#57c257"/><rect x="270" y="495" width="20" height="20" fill="#57c257"/><rect x="290" y="495" width="20" height="20" fill="#95e84c"/><rect x="310" y="495" width="20" height="20" fill="#95e84c"/><rect x="330" y="495" width="20" height="20" fill="#95e84c"/><rect x="350" y="495" width="20" height="20" fill="#95e84c"/><rect x="370" y="495" width="20" height="20" fill="#95e84c"/><rect x="390" y="495" width="20" height="20" fill="#f3d447"/><rect x="410" y="495" width="20" height="20" fill="#e3903e"/><rect x="430" y="495" width="20" height="20" fill="#f3d447"/><rect x="450" y="495" width="20" height="20" fill="#f3d447"/><rect x="30" y="515" width="20" height="20" fill="#c8553d"/><rect x="50" y="515" width="20" height="20" fill="#c8553d"/><rect x="70" y="515" width="20" height="20" fill="#e3903e"/><rect x="90" y="515" width="20" height="20" fill="#e3903e"/><rect x="110" y="515" width="20" height="20" fill="#95e84c"/><rect x="130" y="515" width="20" height="20" fill="#57c257"/><rect x="150" y="515" width="20" height="20" fill="#57c257"/><rect x="170" y="515" width="20" height="20" fill="#e3903e"/><rect x="190" y="515" width="20" height="20" fill="#e3903e"/><rect x="210" y="515" width="20" height="20" fill="#57c257"/><rect x="230" y="515" width="20" height="20" fill="#95e84c"/><rect x="250" y="515" width="20" height="20" fill="#f3d447"/><rect x="270" y="515" width="20" height="20" fill="#f3d447"/><rect x="290" y="515" width="20" height="20" fill="#95e84c"/><rect x="310" y="515" width="20" height="20" fill="#95e84c"/><rect x="330" y="515" width="20" height="20" fill="#3d8ea8"/><rect x="350" y="515" width="20" height="20" fill="#57c257"/><rect x="370" y="515" width="20" height="20" fill="#57c257"/><rect x="390" y="515" width="20" height="20" fill="#95e84c"/><rect x="410" y="515" width="20" height="20" fill="#95e84c"/><rect x="430" y="515" width="20" height="20" fill="#95e84c"/><rect x="450" y="515" width="20" height="20" fill="#95e84c"/><rect x="30" y="535" width="20" height="20" fill="#c8553d"/><rect x="50" y="535" width="20" height="20" fill="#c8553d"/><rect x="70" y="535" width="20" height="20" fill="#f3d447"/><rect x="90" y="535" width="20" height="20" fill="#e3903e"/><rect x="110" y="535" width="20" height="20" fill="#95e84c"/><rect x="130" y="535" width="20" height="20" fill="#3d8ea8"/><rect x="150" y="535" width="20" height="20" fill="#57c257"/><rect x="170" y="535" width="20" height="20" fill="#f3d447"/><rect x="190" y="535" width="20" height="20" fill="#f3d447"/><rect x="210" y="535" width="20" height="20" fill="#95e84c"/><rect x="230" y="535" width="20" height="20" fill="#f3d447"/><rect x="250" y="535" width="20" height="20" fill="#95e84c"/><rect x="270" y="535" width="20" height="20" fill="#f3d447"/><rect x="290" y="535" width="20" height="20" fill="#e3903e"/><rect x="310" y="535" width="20" height="20" fill="#f3d447"/><rect x="330" y="535" width="20" height="20" fill="#3d8ea8"/><rect x="350" y="535" width="20" height="20" fill="#57c257"/><rect x="370" y="535" width="20" height="20" fill="#95e84c"/><rect x="390" y="535" width="20" height="20" fill="#e3903e"/><rect x="410" y="535" width="20" height="20" fill="#f3d447"/><rect x="430" y="535" width="20" height="20" fill="#f3d447"/><rect x="450" y="535" width="20" height="20" fill="#f3d447"/><rect x="30" y="555" width="20" height="20" fill="#e3903e"/><rect x="50" y="555" width="20" height="20" fill="#e3903e"/><rect x="70" y="555" width="20" height="20" fill="#f3d447"/><rect x="90" y="555" width="20" height="20" fill="#e3903e"/><rect x="110" y="555" width="20" height="20" fill="#57c257"/><rect x="130" y="555" width="20" height="20" fill="#57c257"/><rect x="150" y="555" width="20" height="20" fill="#57c257"/><rect x="170" y="555" width="20" height="20" fill="#f3d447"/><rect x="190" y="555" width="20" height="20" fill="#f3d447"/><rect x="210" y="555" width="20" height="20" fill="#95e84c"/><rect x="230" y="555" width="20" height="20" fill="#95e84c"/><rect x="250" y="555" width="20" height="20" fill="#57c257"/><rect x="270" y="555" width="20" height="20" fill="#95e84c"/><rect x="290" y="555" width="20" height="20" fill="#f3d447"/><rect x="310" y="555" width="20" height="20" fill="#f3d447"/><rect x="330" y="555" width="20" height="20" fill="#57c257"/><rect x="350" y="555" width="20" height="20" fill="#95e84c"/><rect x="370" y="555" width="20" height="20" fill="#f3d447"/><rect x="390" y="555" width="20" height="20" fill="#e3903e"/><rect x="410" y="555" width="20" height="20" fill="#e3903e"/><rect x="430" y="555" width="20" height="20" fill="#e3903e"/><rect x="450" y="555" width="20" height="20" fill="#e3903e"/><rect x="30" y="575" width="20" height="20" fill="#e3903e"/><rect x="50" y="575" width="20" height="20" fill="#e3903e"/><rect x="70" y="575" width="20" height="20" fill="#f3d447"/><rect x="90" y="575" width="20" height="20" fill="#e3903e"/><rect x="110" y="575" width="20" height="20" fill="#3d8ea8"/><rect x="130" y="575" width="20" height="20" fill="#57c257"/><rect x="150" y="575" width="20" height="20" fill="#57c257"/><rect x="170" y="575" width="20" height="20" fill="#57c257"/><rect x="190" y="575" width="20" height="20" fill="#95e84c"/><rect x="210" y="575" width="20" height="20" fill="#95e84c"/><rect x="230" y="575" width="20" height="20" fill="#57c257"/><rect x="250" y="575" width="20" height="20" fill="#57c257"/><rect x="270" y="575" width="20" height="20" fill="#57c257"/><rect x="290" y="575" width="20" height="20" fill="#57c257"/><rect x="310" y="575" width="20" height="20" fill="#95e84c"/><rect x="330" y="575" width="20" height="20" fill="#95e84c"/><rect x="350" y="575" width="20" height="20" fill="#f3d447"/><rect x="370" y="575" width="20" height="20" fill="#e3903e"/><rect x="390" y="575" width="20" height="20" fill="#e3903e"/><rect x="410" y="575" width="20" height="20" fill="#c8553d"/><rect x="430" y="575" width="20" height="20" fill="#c8553d"/><rect x="450" y="575" width="20" height="20" fill="#c8553d"/><rect x="30" y="595" width="20" height="20" fill="#f3d447"/><rect x="50" y="595" width="20" height="20" fill="#f3d447"/><rect x="70" y="595" width="20" height="20" fill="#95e84c"/><rect x="90" y="595" width="20" height="20" fill="#f3d447"/><rect x="110" y="595" width="20" height="20" fill="#95e84c"/><rect x="130" y="595" width="20" height="20" fill="#57c257"/><rect x="150" y="595" width="20" height="20" fill="#57c257"/><rect x="170" y="595" width="20" height="20" fill="#95e84c"/><rect x="190" y="595" width="20" height="20" fill="#1d3790"/><rect x="210" y="595" width="20" height="20" fill="#57c257"/><rect x="230" y="595" width="20" height="20" fill="#57c257"/><rect x="250" y="595" width="20" height="20" fill="#57c257"/><rect x="270" y="595" width="20" height="20" fill="#57c257"/><rect x="290" y="595" width="20" height="20" fill="#3d8ea8"/><rect x="310" y="595" width="20" height="20" fill="#95e84c"/><rect x="330" y="595" width="20" height="20" fill="#95e84c"/><rect x="350" y="595" width="20" height="20" fill="#e3903e"/><rect x="370" y="595" width="20" height="20" fill="#e3903e"/><rect x="390" y="595" width="20" height="20" fill="#f3d447"/><rect x="410" y="595" width="20" height="20" fill="#f3d447"/><rect x="430" y="595" width="20" height="20" fill="#f3d447"/><rect x="450" y="595" width="20" height="20" fill="#f3d447"/><rect x="30" y="615" width="20" height="20" fill="#c8553d"/><rect x="50" y="615" width="20" height="20" fill="#e3903e"/><rect x="70" y="615" width="20" height="20" fill="#95e84c"/><rect x="90" y="615" width="20" height="20" fill="#f3d447"/><rect x="110" y="615" width="20" height="20" fill="#95e84c"/><rect x="130" y="615" width="20" height="20" fill="#57c257"/><rect x="150" y="615" width="20" height="20" fill="#57c257"/><rect x="170" y="615" width="20" height="20" fill="#95e84c"/><rect x="190" y="615" width="20" height="20" fill="#57c257"/><rect x="210" y="615" width="20" height="20" fill="#57c257"/><rect x="230" y="615" width="20" height="20" fill="#57c257"/><rect x="250" y="615" width="20" height="20" fill="#57c257"/><rect x="270" y="615" width="20" height="20" fill="#95e84c"/><rect x="290" y="615" width="20" height="20" fill="#57c257"/><rect x="310" y="615" width="20" height="20" fill="#95e84c"/><rect x="330" y="615" width="20" height="20" fill="#f3d447"/><rect x="350" y="615" width="20" height="20" fill="#e3903e"/><rect x="370" y="615" width="20" height="20" fill="#e3903e"/><rect x="390" y="615" width="20" height="20" fill="#e3903e"/><rect x="410" y="615" width="20" height="20" fill="#95e84c"/><rect x="430" y="615" width="20" height="20" fill="#95e84c"/><rect x="450" y="615" width="20" height="20" fill="#95e84c"/><rect x="30" y="635" width="20" height="20" fill="#e3903e"/><rect x="50" y="635" width="20" height="20" fill="#f3d447"/><rect x="70" y="635" width="20" height="20" fill="#95e84c"/><rect x="90" y="635" width="20" height="20" fill="#3d8ea8"/><rect x="110" y="635" width="20" height="20" fill="#95e84c"/><rect x="130" y="635" width="20" height="20" fill="#95e84c"/><rect x="150" y="635" width="20" height="20" fill="#f3d447"/><rect x="170" y="635" width="20" height="20" fill="#57c257"/><rect x="190" y="635" width="20" height="20" fill="#57c257"/><rect x="210" y="635" width="20" height="20" fill="#f3d447"/><rect x="230" y="635" width="20" height="20" fill="#57c257"/><rect x="250" y="635" width="20" height="20" fill="#3d8ea8"/><rect x="270" y="635" width="20" height="20" fill="#f3d447"/><rect x="290" y="635" width="20" height="20" fill="#57c257"/><rect x="310" y="635" width="20" height="20" fill="#3d8ea8"/><rect x="330" y="635" width="20" height="20" fill="#f3d447"/><rect x="350" y="635" width="20" height="20" fill="#e3903e"/><rect x="370" y="635" width="20" height="20" fill="#e3903e"/><rect x="390" y="635" width="20" height="20" fill="#95e84c"/><rect x="410" y="635" width="20" height="20" fill="#95e84c"/><rect x="430" y="635" width="20" height="20" fill="#95e84c"/><rect x="450" y="635" width="20" height="20" fill="#95e84c"/><rect x="30" y="655" width="20" height="20" fill="#e3903e"/><rect x="50" y="655" width="20" height="20" fill="#f3d447"/><rect x="70" y="655" width="20" height="20" fill="#95e84c"/><rect x="90" y="655" width="20" height="20" fill="#3d8ea8"/><rect x="110" y="655" width="20" height="20" fill="#f3d447"/><rect x="130" y="655" width="20" height="20" fill="#f3d447"/><rect x="150" y="655" width="20" height="20" fill="#e3903e"/><rect x="170" y="655" width="20" height="20" fill="#57c257"/><rect x="190" y="655" width="20" height="20" fill="#57c257"/><rect x="210" y="655" width="20" height="20" fill="#f3d447"/><rect x="230" y="655" width="20" height="20" fill="#f3d447"/><rect x="250" y="655" width="20" height="20" fill="#57c257"/><rect x="270" y="655" width="20" height="20" fill="#95e84c"/><rect x="290" y="655" width="20" height="20" fill="#f3d447"/><rect x="310" y="655" width="20" height="20" fill="#3d8ea8"/><rect x="330" y="655" width="20" height="20" fill="#f3d447"/><rect x="350" y="655" width="20" height="20" fill="#e3903e"/><rect x="370" y="655" width="20" height="20" fill="#f3d447"/><rect x="390" y="655" width="20" height="20" fill="#e3903e"/><rect x="410" y="655" width="20" height="20" fill="#e3903e"/><rect x="430" y="655" width="20" height="20" fill="#e3903e"/><rect x="450" y="655" width="20" height="20" fill="#e3903e"/><rect x="30" y="675" width="20" height="20" fill="#e3903e"/><rect x="50" y="675" width="20" height="20" fill="#f3d447"/><rect x="70" y="675" width="20" height="20" fill="#95e84c"/><rect x="90" y="675" width="20" height="20" fill="#57c257"/><rect x="110" y="675" width="20" height="20" fill="#95e84c"/><rect x="130" y="675" width="20" height="20" fill="#95e84c"/><rect x="150" y="675" width="20" height="20" fill="#57c257"/><rect x="170" y="675" width="20" height="20" fill="#57c257"/><rect x="190" y="675" width="20" height="20" fill="#57c257"/><rect x="210" y="675" width="20" height="20" fill="#f3d447"/><rect x="230" y="675" width="20" height="20" fill="#95e84c"/><rect x="250" y="675" width="20" height="20" fill="#f3d447"/><rect x="270" y="675" width="20" height="20" fill="#57c257"/><rect x="290" y="675" width="20" height="20" fill="#f3d447"/><rect x="310" y="675" width="20" height="20" fill="#95e84c"/><rect x="330" y="675" width="20" height="20" fill="#e3903e"/><rect x="350" y="675" width="20" height="20" fill="#e3903e"/><rect x="370" y="675" width="20" height="20" fill="#f3d447"/><rect x="390" y="675" width="20" height="20" fill="#e3903e"/><rect x="410" y="675" width="20" height="20" fill="#e3903e"/><rect x="430" y="675" width="20" height="20" fill="#e3903e"/><rect x="450" y="675" width="20" height="20" fill="#e3903e"/><rect x="30" y="695" width="20" height="20" fill="#e3903e"/><rect x="50" y="695" width="20" height="20" fill="#f3d447"/><rect x="70" y="695" width="20" height="20" fill="#95e84c"/><rect x="90" y="695" width="20" height="20" fill="#57c257"/><rect x="110" y="695" width="20" height="20" fill="#95e84c"/><rect x="130" y="695" width="20" height="20" fill="#57c257"/><rect x="150" y="695" width="20" height="20" fill="#3d8ea8"/><rect x="170" y="695" width="20" height="20" fill="#95e84c"/><rect x="190" y="695" width="20" height="20" fill="#57c257"/><rect x="210" y="695" width="20" height="20" fill="#95e84c"/><rect x="230" y="695" width="20" height="20" fill="#57c257"/><rect x="250" y="695" width="20" height="20" fill="#57c257"/><rect x="270" y="695" width="20" height="20" fill="#f3d447"/><rect x="290" y="695" width="20" height="20" fill="#f3d447"/><rect x="310" y="695" width="20" height="20" fill="#e3903e"/><rect x="330" y="695" width="20" height="20" fill="#c8553d"/><rect x="350" y="695" width="20" height="20" fill="#e3903e"/><rect x="370" y="695" width="20" height="20" fill="#c8553d"/><rect x="390" y="695" width="20" height="20" fill="#c8553d"/><rect x="410" y="695" width="20" height="20" fill="#c8553d"/><rect x="430" y="695" width="20" height="20" fill="#c8553d"/><rect x="450" y="695" width="20" height="20" fill="#c8553d"/><rect x="30" y="715" width="20" height="20" fill="#e3903e"/><rect x="50" y="715" width="20" height="20" fill="#f3d447"/><rect x="70" y="715" width="20" height="20" fill="#95e84c"/><rect x="90" y="715" width="20" height="20" fill="#57c257"/><rect x="110" y="715" width="20" height="20" fill="#95e84c"/><rect x="130" y="715" width="20" height="20" fill="#57c257"/><rect x="150" y="715" width="20" height="20" fill="#3d8ea8"/><rect x="170" y="715" width="20" height="20" fill="#57c257"/><rect x="190" y="715" width="20" height="20" fill="#57c257"/><rect x="210" y="715" width="20" height="20" fill="#57c257"/><rect x="230" y="715" width="20" height="20" fill="#57c257"/><rect x="250" y="715" width="20" height="20" fill="#57c257"/><rect x="270" y="715" width="20" height="20" fill="#f3d447"/><rect x="290" y="715" width="20" height="20" fill="#f3d447"/><rect x="310" y="715" width="20" height="20" fill="#e3903e"/><rect x="330" y="715" width="20" height="20" fill="#c8553d"/><rect x="350" y="715" width="20" height="20" fill="#e3903e"/><rect x="370" y="715" width="20" height="20" fill="#c8553d"/><rect x="390" y="715" width="20" height="20" fill="#c8553d"/><rect x="410" y="715" width="20" height="20" fill="#c8553d"/><rect x="430" y="715" width="20" height="20" fill="#c8553d"/><rect x="450" y="715" width="20" height="20" fill="#c8553d"/></g></g>
<g fill="none" stroke="#3a3a2a" stroke-width="0.9" stroke-opacity="0.75"><path d="M207.4,305.7 L214.4,306.8 L221.4,307.9 L228.4,309.0 L235.4,310.0 L242.4,311.1 L249.5,312.1 L256.5,313.1 L263.5,314.0 L270.5,315.0 L277.6,315.9 L284.6,316.9 L291.6,317.8 L298.7,318.7 L305.7,319.5 L312.8,320.4 L319.8,321.2 L326.9,322.0 L333.9,322.8 L341.0,323.6 L348.0,324.3 L355.1,325.1 L362.1,325.8 L369.2,326.5 L376.2,327.2 L383.3,327.9 L390.4,328.5 L397.4,329.1 L404.5,329.7"/><path d="M214.1,264.0 L212.4,274.5 L210.7,284.9 L209.1,295.3 L207.4,305.7"/><path d="M263.5,314.0 L262.0,324.7 L260.5,335.3 L259.0,345.9 L257.6,356.6 L256.1,367.2 L254.6,377.8 L253.1,388.4 L251.6,399.1 L250.1,409.7 L248.7,420.3 L247.2,430.9 L245.7,441.5 L244.2,452.1 L242.7,462.7 L241.3,473.3 L239.8,483.9 L238.3,494.4 L236.8,505.0 L235.3,515.6 L233.9,526.2 L232.4,536.7 L230.9,547.3 L229.4,557.8 L228.0,568.4 L226.5,578.9 L225.0,589.5 L223.6,600.0 L222.1,610.5 L220.6,621.0 L219.1,631.5 L217.7,642.1 L216.2,652.5 L214.7,663.0 L213.3,673.5 L211.8,684.0 L210.4,694.5 L208.9,704.9 L207.4,715.4"/><path d="M91.4,456.4 L98.8,457.8 L106.3,459.2 L113.7,460.6 L121.2,461.9 L128.6,463.3 L136.1,464.6 L143.6,465.9 L151.0,467.2 L158.5,468.4 L166.0,469.7 L173.5,470.9 L180.9,472.1 L188.4,473.3 L195.9,474.4 L203.4,475.6 L210.9,476.7 L218.4,477.8 L225.9,478.9 L233.4,479.9 L240.9,481.0 L248.4,482.0 L255.9,483.0 L263.4,484.0 L270.9,485.0 L278.4,485.9 L286.0,486.8 L293.5,487.7 L301.0,488.6 L308.5,489.5 L316.1,490.3 L323.6,491.1 L331.1,492.0 L338.6,492.7 L346.2,493.5 L353.7,494.2 L361.3,495.0 L368.8,495.7 L376.4,496.4 L383.9,497.0 L391.4,497.7 L399.0,498.3 L406.6,498.9 L414.1,499.5 L421.7,500.1"/></g><g clip-path="url(#clip)" fill="none" stroke="#33331c" stroke-width="0.9" stroke-opacity="0.72"><path d="M232.9,153.9 L249.7,159.0 L253.5,186.1 L252.3,206.7"/><path d="M253.5,188.7 L263.9,190.0 L274.2,195.1 L292.2,184.8 L296.1,183.5"/><path d="M296.1,150.0 L295.5,184.8"/><path d="M296.1,184.8 L330.9,187.4"/><path d="M316.7,152.6 L318.0,160.3 L328.4,170.6 L330.9,175.8"/><path d="M330.9,171.9 L363.2,173.2"/><path d="M330.9,175.8 L330.9,213.2"/><path d="M364.5,159.0 L360.6,218.3"/><path d="M390.3,161.6 L389.0,192.5"/><path d="M389.0,193.2 L413.5,195.1"/><path d="M387.7,192.5 L386.4,222.2"/><path d="M278.0,204.2 L297.4,206.7 L316.7,209.3 L330.9,213.2"/><path d="M330.9,214.5 L360.6,218.3 L387.7,222.2 L412.2,223.5"/><path d="M315.5,210.6 L314.2,262.2"/><path d="M356.7,218.3 L352.9,264.8"/><path d="M387.7,222.2 L386.4,259.6"/><path d="M241.9,259.6 L315.5,262.2 L354.2,264.8 L372.2,266.1"/><path d="M386.4,259.6 L408.3,261.6"/><path d="M372.2,266.1 L370.9,325.4"/><path d="M391.6,260.9 L390.3,300.9"/><path d="M372.2,299.6 L405.8,300.9"/><path d="M351.6,264.8 L349.0,328.0"/><path d="M297.4,263.5 L296.1,317.7"/><path d="M239.4,259.6 L236.8,309.9"/><path d="M222.6,211.9 L252.0,207.0"/><path d="M184.0,259.4 L186.8,285.0"/><path d="M124.6,290.5 L166.5,295.9"/><path d="M116.5,337.7 L167.8,344.5"/><path d="M113.8,352.6 L166.5,359.4"/><path d="M107.0,391.8 L148.9,398.6"/><path d="M103.0,412.1 L147.6,416.1"/><path d="M97.6,433.7 L140.8,437.7"/><path d="M169.2,295.9 L167.8,344.5 L166.5,359.4 L161.1,393.1"/><path d="M235.4,317.5 L231.4,359.4"/><path d="M231.4,359.4 L253.0,360.7"/><path d="M190.8,371.5 L225.9,374.2"/><path d="M225.9,374.2 L220.5,429.6"/><path d="M182.7,410.7 L220.5,414.8"/><path d="M147.6,397.2 L182.7,401.3"/><path d="M147.6,416.1 L180.0,418.8"/><path d="M215.1,312.1 L235.4,314.8"/><path d="M258.4,347.2 L300.0,351.3"/><path d="M254.3,371.5 L300.0,374.2"/><path d="M253.0,382.3 L300.0,387.7"/><path d="M247.6,414.8 L300.0,418.8"/><path d="M122.5,462.2 L124.4,451.8 L126.3,441.5"/><path d="M135.2,443.1 L142.7,444.4 L150.3,445.7 L157.9,447.0 L165.5,448.3 L173.1,449.5 L180.7,450.8 L188.3,452.0"/><path d="M154.6,418.7 L162.6,420.1 L170.7,421.4 L178.7,422.8 L186.8,424.0 L194.8,425.3 L202.9,426.6 L210.9,427.8 L219.0,429.0"/><path d="M218.3,414.0 L225.9,415.1 L233.6,416.3 L241.3,417.3 L248.9,418.4"/><path d="M173.1,470.8 L174.8,460.5 L176.5,450.1"/><path d="M373.6,369.3 L381.3,370.0 L389.0,370.7 L396.7,371.4 L404.4,372.1 L412.1,372.7 L419.8,373.3 L427.5,373.9 L435.3,374.5 L443.0,375.0 L450.7,375.5 L458.4,376.0"/><path d="M400.9,371.8 L401.8,361.3 L402.7,350.8 L403.6,340.2 L404.5,329.7"/><path d="M425.3,373.7 L426.1,363.2 L426.9,352.7 L427.7,342.2 L428.6,331.7"/><path d="M441.1,374.9 L441.9,364.4 L442.6,353.8 L443.4,343.3 L444.1,332.8"/><path d="M372.2,369.2 L373.2,358.7 L374.2,348.2 L375.2,337.7 L376.2,327.2"/><path d="M340.6,353.3 L342.2,338.6 L343.8,323.9"/><path d="M307.7,362.3 L309.0,351.8 L310.2,341.3 L311.5,330.9 L312.8,320.4"/><path d="M380.0,406.7 L387.6,407.4 L395.2,408.1 L402.8,408.7 L410.4,409.3 L418.0,409.9 L425.6,410.5 L433.2,411.1 L440.8,411.6 L448.4,412.1 L456.0,412.6"/><path d="M406.5,427.2 L407.4,416.3 L408.3,405.4 L409.2,394.4 L410.1,383.5 L411.0,372.6"/><path d="M421.2,446.5 L422.0,435.6 L422.9,424.7 L423.7,413.8 L424.5,402.8 L425.4,391.9"/><path d="M378.3,424.8 L379.3,413.9 L380.4,403.0 L381.4,392.0 L382.4,381.1 L383.4,370.2"/><path d="M342.0,421.2 L349.6,422.0 L357.1,422.7 L364.6,423.5 L372.1,424.2 L379.6,424.9 L387.1,425.5 L394.6,426.2 L402.2,426.8 L409.7,427.4 L417.2,428.0 L424.7,428.6 L432.3,429.2 L439.8,429.7 L447.3,430.2 L454.9,430.7"/><path d="M394.7,444.4 L402.0,445.0 L409.4,445.6 L416.8,446.2 L424.2,446.7 L431.5,447.3 L438.9,447.8 L446.3,448.3 L453.7,448.8"/><path d="M390.1,497.6 L391.1,485.7 L392.1,473.8 L393.1,462.0 L394.2,450.1 L395.2,438.2 L396.2,426.3"/><path d="M269.1,457.6 L276.7,458.6 L284.3,459.5 L291.9,460.4 L299.5,461.4 L307.1,462.2 L314.7,463.1 L322.3,464.0 L329.9,464.8 L337.5,465.6 L345.2,466.4 L352.8,467.1 L360.4,467.9 L368.0,468.6 L375.6,469.3 L383.3,470.0 L390.9,470.6 L398.5,471.3 L406.2,471.9 L413.8,472.5 L421.4,473.1 L429.1,473.6 L436.7,474.2 L444.3,474.7 L452.0,475.2"/><path d="M418.7,499.8 L419.7,486.4 L420.7,473.0"/><path d="M330.8,443.3 L332.1,431.3 L333.4,419.2 L334.7,407.2 L336.0,395.2"/><path d="M304.2,440.3 L305.8,427.6 L307.3,414.8 L308.8,402.1 L310.3,389.3"/><path d="M266.0,435.6 L274.1,436.6 L282.2,437.6 L290.3,438.6 L298.4,439.6 L306.5,440.6 L314.6,441.5 L322.7,442.4 L330.8,443.3"/><path d="M286.6,486.9 L288.2,473.6 L289.8,460.2"/><path d="M331.5,492.0 L332.8,480.0 L334.1,468.0 L335.4,455.9 L336.7,443.9"/><path d="M349.5,493.8 L350.7,482.0 L351.9,470.1 L353.1,458.3 L354.3,446.4 L355.5,434.6 L356.7,422.7"/><path d="M263.2,456.8 L264.6,445.8 L266.1,434.7 L267.6,423.7 L269.0,412.6"/><path d="M321.9,390.6 L329.4,391.5 L336.9,392.3 L344.4,393.1 L352.0,393.9 L359.5,394.6"/><path d="M234.4,522.4 L242.1,523.5 L249.8,524.5 L257.6,525.5 L265.3,526.5 L273.0,527.5 L280.8,528.5 L288.5,529.4 L296.2,530.3 L304.0,531.2 L311.7,532.1 L319.5,532.9"/><path d="M274.3,561.4 L275.6,550.8 L276.9,540.1 L278.3,529.4 L279.6,518.7 L280.9,508.0 L282.2,497.2 L283.6,486.5"/><path d="M299.7,530.7 L300.9,520.3 L302.1,509.9 L303.3,499.4 L304.5,489.0"/><path d="M315.8,566.2 L317.0,555.5 L318.2,544.8 L319.3,534.1 L320.5,523.4 L321.7,512.7 L322.8,501.9 L324.0,491.2"/><path d="M342.0,568.9 L343.1,558.2 L344.1,547.5 L345.2,536.8 L346.3,526.1 L347.4,515.3 L348.5,504.6 L349.5,493.8"/><path d="M385.2,572.9 L386.1,562.2 L387.0,551.4 L387.9,540.7 L388.8,530.0 L389.7,519.2 L390.7,508.5 L391.6,497.7"/><path d="M229.7,555.6 L237.4,556.7 L245.1,557.7 L252.8,558.7 L260.4,559.7 L268.1,560.7 L275.8,561.6 L283.5,562.6 L291.2,563.5 L298.9,564.3 L306.6,565.2 L314.3,566.1 L322.0,566.9 L329.7,567.7 L337.4,568.5 L345.1,569.2 L352.8,570.0 L360.5,570.7 L368.2,571.4 L375.9,572.1 L383.6,572.8 L391.3,573.4 L399.1,574.0 L406.8,574.6 L414.5,575.2"/><path d="M243.3,582.8 L251.3,583.9 L259.4,584.9 L267.4,585.9 L275.5,586.9 L283.5,587.8 L291.6,588.8 L299.6,589.7 L307.7,590.6 L315.7,591.5 L323.8,592.3 L331.9,593.2 L339.9,594.0 L348.0,594.8 L356.1,595.5 L364.1,596.3 L372.2,597.0 L380.3,597.7 L388.4,598.4 L396.4,599.0 L404.5,599.6 L412.6,600.3"/><path d="M235.6,640.7 L243.7,641.8 L251.9,642.9 L260.2,643.9 L268.4,644.9 L276.6,645.9 L284.8,646.8 L293.0,647.8 L301.2,648.7 L309.4,649.6 L317.6,650.4 L325.9,651.3 L334.1,652.1 L342.3,652.9 L350.6,653.7 L358.8,654.5 L367.0,655.2 L375.3,655.9 L383.5,656.6 L391.7,657.3 L400.0,657.9 L408.2,658.5"/><path d="M257.2,672.9 L265.5,673.9 L273.8,674.9 L282.0,675.9 L290.3,676.8 L298.6,677.7 L306.9,678.6 L315.2,679.5 L323.5,680.3 L331.7,681.2 L340.0,682.0 L348.3,682.8"/><path d="M235.6,640.7 L236.9,630.4 L238.3,620.1 L239.7,609.7 L241.1,599.4 L242.5,589.0 L243.9,578.7 L245.2,568.3 L246.6,557.9"/><path d="M255.7,685.3 L257.0,674.3 L258.4,663.3 L259.8,652.2 L261.2,641.2 L262.6,630.2 L263.9,619.1 L265.3,608.1 L266.7,597.0 L268.1,586.0"/><path d="M269.6,704.5 L271.0,692.8 L272.4,681.1 L273.8,669.4 L275.2,657.6 L276.6,645.9"/><path d="M299.7,698.7 L300.9,687.7 L302.1,676.7 L303.3,665.7 L304.5,654.6 L305.7,643.6 L307.0,632.5 L308.2,621.5 L309.4,610.4 L310.6,599.3 L311.8,588.2 L313.0,577.2 L314.3,566.1"/><path d="M331.9,702.1 L332.9,691.3 L334.0,680.6 L335.1,669.8 L336.2,659.0 L337.2,648.2 L338.3,637.4 L339.4,626.6 L340.4,615.8 L341.5,605.0 L342.6,594.2"/><path d="M346.4,703.5 L347.4,692.4 L348.5,681.4 L349.5,670.3 L350.6,659.3 L351.6,648.2 L352.7,637.1 L353.7,626.1 L354.7,615.0 L355.8,603.9 L356.8,592.8 L357.9,581.7 L358.9,570.6"/><path d="M381.9,706.6 L382.8,695.8 L383.7,685.0 L384.5,674.2 L385.4,663.4 L386.3,652.6 L387.2,641.8 L388.1,631.0 L389.0,620.2 L389.9,609.4 L390.8,598.6"/><path d="M239.6,683.2 L247.6,684.3 L255.7,685.3"/><path d="M98.9,534.6 L100.9,524.0 L102.9,513.4 L104.8,502.8 L106.8,492.2 L108.8,481.6 L110.8,471.0 L112.7,460.4"/><path d="M171.8,585.2 L173.6,574.0 L175.3,562.9 L177.1,551.7 L178.8,540.5 L180.6,529.4 L182.4,518.2 L184.2,507.0 L185.9,495.8 L187.7,484.6 L189.5,473.4"/><path d="M191.3,613.5 L192.9,603.0 L194.5,592.5 L196.0,582.0 L197.6,571.5 L199.2,561.0 L200.8,550.5 L202.3,540.0 L203.9,529.5 L205.5,519.0 L207.1,508.4 L208.7,497.9 L210.2,487.4 L211.8,476.8"/><path d="M98.9,534.6 L107.2,536.1 L115.5,537.6 L123.8,539.1 L132.0,540.5 L140.3,541.9 L148.6,543.3"/><path d="M59.0,565.4 L67.1,566.9 L75.1,568.4 L83.1,570.0 L91.2,571.5 L99.2,572.9 L107.3,574.4 L115.3,575.8 L123.4,577.2 L131.4,578.6 L139.5,579.9 L147.6,581.3 L155.6,582.6 L163.7,583.9 L171.8,585.2"/><path d="M45.5,601.0 L53.4,602.5 L61.3,604.1 L69.3,605.6 L77.2,607.1 L85.1,608.5"/><path d="M78.3,645.4 L80.3,634.4 L82.4,623.3 L84.4,612.2 L86.5,601.2 L88.6,590.1 L90.6,579.0 L92.7,567.9 L94.8,556.8 L96.8,545.7 L98.9,534.6"/><path d="M114.0,651.8 L116.3,638.8 L118.6,625.8 L120.8,612.8"/><path d="M120.8,612.8 L130.2,614.4 L139.6,615.9 L149.0,617.5 L158.4,619.0"/><path d="M78.3,645.4 L86.5,646.9 L94.8,648.4 L103.1,649.9 L111.4,651.3 L119.7,652.7 L128.0,654.1 L136.3,655.5 L144.6,656.9 L153.0,658.2 L161.3,659.5 L169.6,660.8"/><path d="M129.6,675.5 L131.4,665.2 L133.1,655.0"/><path d="M162.2,708.8 L163.8,697.9 L165.5,687.1 L167.2,676.2 L168.9,665.3 L170.6,654.4 L172.3,643.5 L174.0,632.6 L175.7,621.7"/><path d="M196.8,685.8 L198.5,674.2 L200.2,662.5 L201.9,650.8 L203.6,639.1 L205.3,627.5 L207.0,615.8"/><path d="M166.4,681.3 L175.4,682.7 L184.3,684.0 L193.3,685.3 L202.3,686.6 L211.3,687.8"/><path d="M167.9,609.9 L176.7,611.3 L185.6,612.6 L194.5,613.9 L203.3,615.2 L212.2,616.5 L221.1,617.7"/><path d="M158.4,619.0 L160.3,607.3 L162.2,595.6 L164.0,584.0"/></g><path d="M131.9,249.6 L139.3,251.0 L146.8,252.4 L154.2,253.8 L161.7,255.1 L169.2,256.5 L176.7,257.8 L184.1,259.1 L191.6,260.4 L199.1,261.6 L206.6,262.8 L214.1,264.0 L215.8,253.6 L217.5,243.2 L219.1,232.8 L220.8,222.4 L222.5,211.9 L224.2,201.5 L225.9,191.1 L227.6,180.7 L229.2,170.2 L230.9,159.8 L232.6,149.4 L234.3,139.0 L240.8,140.0 L247.4,141.1 L254.0,142.1 L260.6,143.0 L267.1,144.0 L273.7,145.0 L280.3,145.9 L286.9,146.8 L293.5,147.7 L300.0,148.6 L306.6,149.5 L313.2,150.3 L319.8,151.1 L326.4,151.9 L333.0,152.7 L339.6,153.5 L346.2,154.3 L352.8,155.0 L359.4,155.8 L366.0,156.5 L372.6,157.2 L379.3,157.8 L385.9,158.5 L392.5,159.1 L399.1,159.7 L405.7,160.4 L412.3,160.9 L419.0,161.5 L418.1,172.0 L417.2,182.5 L416.3,193.0 L415.4,203.6 L414.4,214.1 L413.5,224.6 L412.6,235.1 L411.7,245.6 L410.8,256.1 L409.9,266.7 L409.0,277.2 L408.1,287.7 L407.2,298.2 L406.3,308.7 L405.4,319.2 L404.5,329.7 L411.6,330.3 L418.6,330.9 L425.7,331.5 L432.8,332.0 L439.9,332.5 L446.9,333.0 L454.0,333.5 L461.1,333.9 L460.4,344.5 L459.8,355.0 L459.1,365.5 L458.5,376.0 L457.8,386.6 L457.1,397.1 L456.5,407.6 L455.8,418.1 L455.2,428.6 L454.5,439.1 L453.8,449.6 L453.2,460.1 L452.5,470.6 L451.9,481.1 L451.2,491.6 L450.6,502.1 L440.9,501.4 L431.3,500.8 L421.7,500.1 L420.8,510.5 L419.9,521.0 L419.0,531.4 L418.2,541.9 L417.3,552.3 L416.4,562.8 L415.5,573.2 L414.7,583.6 L413.8,594.1 L412.9,604.5 L412.0,614.9 L411.2,625.3 L410.3,635.7 L409.4,646.1 L408.5,656.5 L407.7,666.8 L406.8,677.2 L405.9,687.6 L405.0,697.9 L404.2,708.3 L395.9,707.7 L387.7,707.0 L379.5,706.4 L371.3,705.7 L363.1,705.0 L354.9,704.2 L346.7,703.5 L338.5,702.7 L330.3,701.9 L322.1,701.1 L313.9,700.3 L305.7,699.4 L297.5,698.5 L289.4,697.6 L291.2,707.0 L282.2,706.0 L273.2,704.9 L264.1,703.9 L255.1,702.8 L246.1,701.7 L237.1,700.5 L234.6,719.0 L226.2,717.9 L217.8,716.8 L209.4,715.7 L201.0,714.5 L192.5,713.3 L184.1,712.1 L175.7,710.9 L167.3,709.6 L158.9,708.3 L150.5,707.0 L142.1,705.7 L134.1,700.9 L126.0,696.1 L118.0,691.3 L110.0,686.4 L102.1,681.6 L94.1,676.7 L86.2,671.8 L78.3,666.8 L70.4,661.9 L62.6,656.9 L54.8,651.9 L47.0,646.9 L39.2,641.9 L31.4,636.8 L32.0,635.8 L35.2,628.6 L41.6,617.4 L40.8,603.1 L45.6,598.3 L52.0,582.3 L54.4,575.9 L60.0,571.0 L63.0,563.0 L59.2,555.0 L60.0,543.9 L58.4,532.7 L61.5,520.0 L62.3,503.6 L63.8,491.3 L67.6,489.0 L74.5,490.6 L78.4,495.2 L85.3,489.0 L85.0,489.3 L87.0,479.0 L89.1,468.6 L91.1,458.2 L93.1,447.8 L95.2,437.4 L97.2,427.0 L99.2,416.6 L101.3,406.1 L103.3,395.7 L105.3,385.3 L107.4,374.9 L109.4,364.5 L111.5,354.0 L113.5,343.6 L115.5,333.2 L117.6,322.7 L119.6,312.3 L121.7,301.8 L123.7,291.4 L125.7,280.9 L127.8,270.5 L129.8,260.1 L131.9,249.6Z" fill="none" stroke="#2a3a1a" stroke-width="0.9" stroke-opacity="0.7"/><g class="cl"><text x="314.9" y="348.1">Routt</text><text x="336.5" y="364.3">Grand</text><text x="282.4" y="363.0">Rio Blanco</text><text x="283.8" y="380.5">Garfield</text><text x="317.6" y="381.9">Eagle</text><text x="264.9" y="402.2">Mesa</text><text x="282.4" y="410.3">Delta</text><text x="347.3" y="407.6">Park</text><text x="366.2" y="413.0">Teller</text><text x="379.7" y="422.4">El Paso</text><text x="397.3" y="403.5">Lincoln</text><text x="439.2" y="407.6">Kit Carson</text><text x="436.5" y="427.8">Cheyenne</text><text x="436.5" y="444.1">Kiowa</text><text x="405.4" y="446.8">Crowley</text><text x="347.3" y="421.1">Chaffee</text><text x="350.0" y="434.6">Fremont</text><text x="270.3" y="427.8">Montrose</text><text x="263.5" y="442.7">San Miguel</text><text x="274.3" y="477.8">La Plata</text><text x="398.6" y="488.7">Las Animas</text><text x="435.1" y="491.4">Baca</text><text x="400.0" y="465.7">Otero</text><text x="418.9" y="465.7">Bent</text><text x="450.0" y="465.7">Prowers</text><text x="304.0" y="417.0">Gunnison</text><text x="310.8" y="445.4">Saguache</text><text x="358.1" y="467.0">Huerfano</text><text x="367.6" y="445.4">Pueblo</text><text x="337.8" y="479.2">Costilla</text><text x="325.7" y="469.7">Alamosa</text><text x="290.5" y="485.9">Archuleta</text><text x="344.6" y="388.7">Douglas</text><text x="368.9" y="395.4">Elbert</text><text x="425.7" y="383.2">Washington</text><text x="412.2" y="368.4">Morgan</text><text x="446.0" y="377.8">Yuma</text><text x="428.4" y="345.4">Logan</text><text x="378.4" y="352.2">Weld</text><text x="360.8" y="342.7">Larimer</text><text x="368.9" y="377.8">Adams</text><text x="371.6" y="387.3">Arapahoe</text><text x="282.8" y="335.7">Moffat</text><text x="333.7" y="340.0">Jackson</text><text x="446.7" y="337.2">Sedgwick</text><text x="452.3" y="355.5">Phillips</text><text x="280.0" y="434.3">Ouray</text><text x="297.0" y="457.3">Hinsdale</text><text x="243.2" y="473.2">Montezuma</text><text x="265.8" y="166.2">Park</text><text x="339.3" y="164.8">Sheridan</text><text x="311.0" y="178.9">Big Horn</text><text x="240.4" y="188.8">Teton</text><text x="373.2" y="191.6">Campbell</text><text x="404.3" y="178.9">Crook</text><text x="305.0" y="200.1">Washakie</text><text x="333.0" y="200.1">Johnson</text><text x="287.0" y="208.6">Hot Springs</text><text x="404.3" y="211.4">Weston</text><text x="291.3" y="232.6">Fremont</text><text x="336.5" y="242.5">Natrona</text><text x="376.0" y="245.3">Converse</text><text x="405.0" y="245.3">Niobrara</text><text x="243.2" y="239.7">Sublette</text><text x="268.7" y="290.5">Sweetwater</text><text x="330.8" y="293.4">Carbon</text><text x="388.0" y="284.9">Platte</text><text x="407.0" y="284.9">Goshen</text><text x="356.3" y="317.4">Albany</text><text x="387.3" y="318.8">Laramie</text><text x="226.3" y="296.2">Uinta</text><text x="155.6" y="276.4">Box Elder</text><text x="193.8" y="272.7">Cache</text><text x="206.5" y="282.1">Rich</text><text x="178.2" y="288.3">Weber</text><text x="176.0" y="296.3">Davis</text><text x="141.5" y="320.2">Tooele</text><text x="175.4" y="318.8">Salt Lake</text><text x="200.8" y="316.0">Summit</text><text x="248.9" y="320.2">Daggett</text><text x="179.6" y="341.4">Utah</text><text x="217.8" y="340.0">Duchesne</text><text x="243.2" y="351.3">Uintah</text><text x="148.6" y="352.7">Juab</text><text x="212.1" y="366.8">Carbon</text><text x="135.9" y="378.1">Millard</text><text x="200.8" y="392.3">Emery</text><text x="231.9" y="397.9">Grand</text><text x="121.7" y="406.4">Beaver</text><text x="195.2" y="420.5">Wayne</text><text x="104.8" y="450.6">Washington</text><text x="155.6" y="461.9">Kane</text><text x="220.6" y="456.2">San Juan</text><text x="79.3" y="515.5">Mohave</text><text x="141.5" y="519.8">Coconino</text><text x="257.4" y="507.1">San Juan</text><text x="305.4" y="512.7">Rio Arriba</text><text x="339.3" y="514.1">Taos</text><text x="367.6" y="515.5">Colfax</text><text x="401.5" y="524.0">Union</text><text x="189.5" y="545.2">Navajo</text><text x="257.4" y="545.2">McKinley</text><text x="356.3" y="538.2">Mora</text><text x="393.0" y="546.6">Harding</text><text x="118.9" y="566.4">Yavapai</text><text x="325.2" y="557.9">Santa Fe</text><text x="359.1" y="560.8">San Miguel</text><text x="263.0" y="573.5">Cibola</text><text x="296.9" y="573.5">Bernalillo</text><text x="398.6" y="580.5">Quay</text><text x="68.0" y="594.7">La Paz</text><text x="291.3" y="587.6">Valencia</text><text x="359.1" y="587.6">Guadalupe</text><text x="319.5" y="594.7">Torrance</text><text x="172.6" y="611.6">Gila</text><text x="240.4" y="614.4">Catron</text><text x="291.3" y="617.3">Socorro</text><text x="367.6" y="610.2">De Baca</text><text x="101.9" y="617.3">Maricopa</text><text x="330.8" y="632.8">Lincoln</text><text x="398.6" y="625.7">Roosevelt</text><text x="56.7" y="631.4">Yuma</text><text x="135.9" y="639.9">Pinal</text><text x="212.1" y="639.9">Greenlee</text><text x="186.7" y="648.3">Graham</text><text x="277.1" y="651.2">Sierra</text><text x="364.7" y="651.2">Chaves</text><text x="240.4" y="662.5">Grant</text><text x="127.4" y="671.0">Pima</text><text x="316.7" y="678.0">Otero</text><text x="395.8" y="678.0">Lea</text><text x="254.5" y="687.9">Luna</text><text x="282.8" y="685.1">Dona Ana</text><text x="361.9" y="687.9">Eddy</text><text x="186.7" y="693.6">Cochise</text><text x="217.8" y="696.4">Hidalgo</text><text x="152.8" y="700.6">Santa Cruz</text><text x="175.0" y="387.3">Sanpete</text><text x="165.0" y="407.3">Sevier</text><text x="160.0" y="420.3">Piute</text><text x="170.0" y="442.3">Garfield</text><text x="115.0" y="427.3">Iron</text></g>
<path d="M251.4,207.8 L258.3,211.9 L260.6,224.5 L267.5,236.0 L272.1,247.5 L276.7,261.4 L289.3,263.7 L300.8,261.4 L304.3,264.8 L312.3,266.0 L322.7,269.4 L322.7,282.1 L315.8,285.5 L312.3,293.6 L314.6,303.9 L319.3,310.8 L323.9,322.4 L328.5,328.1 L328.5,339.6 L328.0,347.0 L340.0,350.0 L346.1,350.9 L352.6,349.0 L354.8,361.7 L352.6,372.6 L346.1,385.7 L337.4,392.2 L326.5,394.3 L324.3,405.2 L327.6,416.1 L328.7,427.0 L326.5,435.7 L320.0,438.9 L313.5,448.7 L302.6,454.1 L295.0,462.8 L304.8,466.1 L311.3,474.8 L313.5,484.6 L308.0,492.2 L302.6,503.0 L299.5,514.7 L298.0,522.1 L292.9,527.3 L287.0,528.7 L281.1,533.2 L272.2,537.6 L270.7,541.3 L264.8,545.0 L251.6,541.3 L244.2,542.7 L238.3,537.6 L236.8,532.4 L241.3,527.3 L240.5,522.8 L224.3,526.5 L213.3,531.0 L208.8,525.1 L207.4,516.2 L213.3,507.4 L211.1,500.0 L206.8,500.8 L199.8,495.0 L194.1,488.1 L188.3,484.7 L178.0,492.7 L169.9,493.9 L163.0,488.1 L161.9,477.7 L152.7,477.7 L148.1,472.0 L148.1,460.5 L145.8,451.3 L151.5,442.1 L160.7,435.2 L165.3,424.8 L167.6,409.8 L174.5,398.3 L180.3,393.7 L183.7,373.0 L190.4,368.0 L192.7,354.6 L197.3,348.8 L196.1,339.6 L197.3,331.6 L203.0,328.1 L208.8,322.4 L216.8,314.3 L215.7,299.3 L214.5,287.8 L214.5,279.8 L223.7,272.9 L222.6,268.3 L221.4,259.0 L223.7,252.1 L226.0,247.5 L228.3,242.9 L231.8,233.7 L232.9,224.5 L243.3,219.9 L244.4,211.9Z" fill="none" stroke="#0c180c" stroke-width="1.5" stroke-linejoin="round" stroke-opacity="0.9"/>
<text x="608.3" y="174.8" class="tt">Intermountain West&#160;</text>
<text x="608.3" y="202.5" class="tt">Precipitation Accumulation</text>
<text x="608.3" y="230.2" class="tt">30 July - 5 August 2019</text>
<text x="608.3" y="257.9" class="tt">Ending 5 AM MST</text>
<text x="510.4" y="467.1" class="lt">30jul_5aug19</text>
<text x="510.4" y="487.5" class="ls">Precip (inches)</text>
<rect x="510.4" y="497.1" width="31.6" height="14.6" fill="#c8553d" stroke="#8a8a8a" stroke-width="0.8"/>
<text x="547.6" y="508.4" class="ll">0.00</text>
<rect x="510.4" y="518.4" width="31.6" height="14.6" fill="#e48c3c" stroke="#8a8a8a" stroke-width="0.8"/>
<text x="547.6" y="529.7" class="ll">0.01 - 0.10</text>
<rect x="510.4" y="539.8" width="31.6" height="14.6" fill="#f3d447" stroke="#8a8a8a" stroke-width="0.8"/>
<text x="547.6" y="551.1" class="ll">0.11 - 0.25</text>
<rect x="510.4" y="561.2" width="31.6" height="14.6" fill="#95ea4a" stroke="#8a8a8a" stroke-width="0.8"/>
<text x="547.6" y="572.5" class="ll">0.26 - 0.50</text>
<rect x="510.4" y="582.5" width="31.6" height="14.6" fill="#55c052" stroke="#8a8a8a" stroke-width="0.8"/>
<text x="547.6" y="593.8" class="ll">0.51 - 1.00</text>
<rect x="510.4" y="603.9" width="31.6" height="14.6" fill="#3c8fa6" stroke="#8a8a8a" stroke-width="0.8"/>
<text x="547.6" y="615.2" class="ll">1.01 - 2.00</text>
<rect x="510.4" y="625.2" width="31.6" height="14.6" fill="#1b2f8c" stroke="#8a8a8a" stroke-width="0.8"/>
<text x="547.6" y="636.5" class="ll">2.01 - 3.10</text>
<rect x="511.0" y="647.2" width="30.6" height="14" fill="#fff" stroke="#777" stroke-width="1.4"/>
<text x="547.6" y="657.9" class="ll">Upper Colorado River Basin</text>
<text x="510.4" y="679.5" class="lc">Data from PRISM Climate Group</text>
</g><g transform="translate(815,0)">
<g clip-path="url(#clip)"><g filter="url(#bl)"><rect x="30" y="135" width="20" height="20" fill="#6fe142"/><rect x="50" y="135" width="20" height="20" fill="#6fe142"/><rect x="70" y="135" width="20" height="20" fill="#6fe142"/><rect x="90" y="135" width="20" height="20" fill="#6fe142"/><rect x="110" y="135" width="20" height="20" fill="#6fe142"/><rect x="130" y="135" width="20" height="20" fill="#6fe142"/><rect x="150" y="135" width="20" height="20" fill="#6fe142"/><rect x="170" y="135" width="20" height="20" fill="#6fe142"/><rect x="190" y="135" width="20" height="20" fill="#6fe142"/><rect x="210" y="135" width="20" height="20" fill="#6fe142"/><rect x="230" y="135" width="20" height="20" fill="#6fe142"/><rect x="250" y="135" width="20" height="20" fill="#6fe142"/><rect x="270" y="135" width="20" height="20" fill="#6fe142"/><rect x="290" y="135" width="20" height="20" fill="#6fe142"/><rect x="310" y="135" width="20" height="20" fill="#6fe142"/><rect x="330" y="135" width="20" height="20" fill="#4cb953"/><rect x="350" y="135" width="20" height="20" fill="#4cb953"/><rect x="370" y="135" width="20" height="20" fill="#4cb953"/><rect x="390" y="135" width="20" height="20" fill="#3c9c84"/><rect x="410" y="135" width="20" height="20" fill="#3c9c84"/><rect x="430" y="135" width="20" height="20" fill="#3c9c84"/><rect x="450" y="135" width="20" height="20" fill="#3c9c84"/><rect x="30" y="155" width="20" height="20" fill="#f3d447"/><rect x="50" y="155" width="20" height="20" fill="#f3d447"/><rect x="70" y="155" width="20" height="20" fill="#f3d447"/><rect x="90" y="155" width="20" height="20" fill="#f3d447"/><rect x="110" y="155" width="20" height="20" fill="#f3d447"/><rect x="130" y="155" width="20" height="20" fill="#f3d447"/><rect x="150" y="155" width="20" height="20" fill="#6fe142"/><rect x="170" y="155" width="20" height="20" fill="#6fe142"/><rect x="190" y="155" width="20" height="20" fill="#6fe142"/><rect x="210" y="155" width="20" height="20" fill="#6fe142"/><rect x="230" y="155" width="20" height="20" fill="#6fe142"/><rect x="250" y="155" width="20" height="20" fill="#6fe142"/><rect x="270" y="155" width="20" height="20" fill="#6fe142"/><rect x="290" y="155" width="20" height="20" fill="#6fe142"/><rect x="310" y="155" width="20" height="20" fill="#d9f04c"/><rect x="330" y="155" width="20" height="20" fill="#4cb953"/><rect x="350" y="155" width="20" height="20" fill="#4cb953"/><rect x="370" y="155" width="20" height="20" fill="#3c9c84"/><rect x="390" y="155" width="20" height="20" fill="#3c9c84"/><rect x="410" y="155" width="20" height="20" fill="#3c9c84"/><rect x="430" y="155" width="20" height="20" fill="#3c9c84"/><rect x="450" y="155" width="20" height="20" fill="#3c9c84"/><rect x="30" y="175" width="20" height="20" fill="#f3d447"/><rect x="50" y="175" width="20" height="20" fill="#f3d447"/><rect x="70" y="175" width="20" height="20" fill="#f3d447"/><rect x="90" y="175" width="20" height="20" fill="#f3d447"/><rect x="110" y="175" width="20" height="20" fill="#f3d447"/><rect x="130" y="175" width="20" height="20" fill="#f3d447"/><rect x="150" y="175" width="20" height="20" fill="#f3d447"/><rect x="170" y="175" width="20" height="20" fill="#6fe142"/><rect x="190" y="175" width="20" height="20" fill="#6fe142"/><rect x="210" y="175" width="20" height="20" fill="#6fe142"/><rect x="230" y="175" width="20" height="20" fill="#6fe142"/><rect x="250" y="175" width="20" height="20" fill="#6fe142"/><rect x="270" y="175" width="20" height="20" fill="#6fe142"/><rect x="290" y="175" width="20" height="20" fill="#6fe142"/><rect x="310" y="175" width="20" height="20" fill="#f3d447"/><rect x="330" y="175" width="20" height="20" fill="#4cb953"/><rect x="350" y="175" width="20" height="20" fill="#4cb953"/><rect x="370" y="175" width="20" height="20" fill="#3c9c84"/><rect x="390" y="175" width="20" height="20" fill="#3c9c84"/><rect x="410" y="175" width="20" height="20" fill="#2e739c"/><rect x="430" y="175" width="20" height="20" fill="#2e739c"/><rect x="450" y="175" width="20" height="20" fill="#2e739c"/><rect x="30" y="195" width="20" height="20" fill="#f3d447"/><rect x="50" y="195" width="20" height="20" fill="#f3d447"/><rect x="70" y="195" width="20" height="20" fill="#f3d447"/><rect x="90" y="195" width="20" height="20" fill="#f3d447"/><rect x="110" y="195" width="20" height="20" fill="#f3d447"/><rect x="130" y="195" width="20" height="20" fill="#f3d447"/><rect x="150" y="195" width="20" height="20" fill="#f3d447"/><rect x="170" y="195" width="20" height="20" fill="#6fe142"/><rect x="190" y="195" width="20" height="20" fill="#6fe142"/><rect x="210" y="195" width="20" height="20" fill="#6fe142"/><rect x="230" y="195" width="20" height="20" fill="#d9f04c"/><rect x="250" y="195" width="20" height="20" fill="#d9f04c"/><rect x="270" y="195" width="20" height="20" fill="#6fe142"/><rect x="290" y="195" width="20" height="20" fill="#d9f04c"/><rect x="310" y="195" width="20" height="20" fill="#d9f04c"/><rect x="330" y="195" width="20" height="20" fill="#4cb953"/><rect x="350" y="195" width="20" height="20" fill="#4cb953"/><rect x="370" y="195" width="20" height="20" fill="#3c9c84"/><rect x="390" y="195" width="20" height="20" fill="#4cb953"/><rect x="410" y="195" width="20" height="20" fill="#3c9c84"/><rect x="430" y="195" width="20" height="20" fill="#3c9c84"/><rect x="450" y="195" width="20" height="20" fill="#3c9c84"/><rect x="30" y="215" width="20" height="20" fill="#f3d447"/><rect x="50" y="215" width="20" height="20" fill="#f3d447"/><rect x="70" y="215" width="20" height="20" fill="#f3d447"/><rect x="90" y="215" width="20" height="20" fill="#f3d447"/><rect x="110" y="215" width="20" height="20" fill="#f3d447"/><rect x="130" y="215" width="20" height="20" fill="#f3d447"/><rect x="150" y="215" width="20" height="20" fill="#f3d447"/><rect x="170" y="215" width="20" height="20" fill="#d9f04c"/><rect x="190" y="215" width="20" height="20" fill="#d9f04c"/><rect x="210" y="215" width="20" height="20" fill="#d9f04c"/><rect x="230" y="215" width="20" height="20" fill="#d9f04c"/><rect x="250" y="215" width="20" height="20" fill="#d9f04c"/><rect x="270" y="215" width="20" height="20" fill="#f3d447"/><rect x="290" y="215" width="20" height="20" fill="#f3d447"/><rect x="310" y="215" width="20" height="20" fill="#d9f04c"/><rect x="330" y="215" width="20" height="20" fill="#6fe142"/><rect x="350" y="215" width="20" height="20" fill="#6fe142"/><rect x="370" y="215" width="20" height="20" fill="#4cb953"/><rect x="390" y="215" width="20" height="20" fill="#4cb953"/><rect x="410" y="215" width="20" height="20" fill="#4cb953"/><rect x="430" y="215" width="20" height="20" fill="#4cb953"/><rect x="450" y="215" width="20" height="20" fill="#4cb953"/><rect x="30" y="235" width="20" height="20" fill="#f3d447"/><rect x="50" y="235" width="20" height="20" fill="#f3d447"/><rect x="70" y="235" width="20" height="20" fill="#f3d447"/><rect x="90" y="235" width="20" height="20" fill="#f3d447"/><rect x="110" y="235" width="20" height="20" fill="#f3d447"/><rect x="130" y="235" width="20" height="20" fill="#f3d447"/><rect x="150" y="235" width="20" height="20" fill="#f3d447"/><rect x="170" y="235" width="20" height="20" fill="#d9f04c"/><rect x="190" y="235" width="20" height="20" fill="#d9f04c"/><rect x="210" y="235" width="20" height="20" fill="#f3d447"/><rect x="230" y="235" width="20" height="20" fill="#f3d447"/><rect x="250" y="235" width="20" height="20" fill="#d9f04c"/><rect x="270" y="235" width="20" height="20" fill="#f3d447"/><rect x="290" y="235" width="20" height="20" fill="#f3d447"/><rect x="310" y="235" width="20" height="20" fill="#d9f04c"/><rect x="330" y="235" width="20" height="20" fill="#6fe142"/><rect x="350" y="235" width="20" height="20" fill="#6fe142"/><rect x="370" y="235" width="20" height="20" fill="#6fe142"/><rect x="390" y="235" width="20" height="20" fill="#4cb953"/><rect x="410" y="235" width="20" height="20" fill="#4cb953"/><rect x="430" y="235" width="20" height="20" fill="#4cb953"/><rect x="450" y="235" width="20" height="20" fill="#4cb953"/><rect x="30" y="255" width="20" height="20" fill="#e6a53c"/><rect x="50" y="255" width="20" height="20" fill="#e6a53c"/><rect x="70" y="255" width="20" height="20" fill="#e6a53c"/><rect x="90" y="255" width="20" height="20" fill="#e6a53c"/><rect x="110" y="255" width="20" height="20" fill="#e6a53c"/><rect x="130" y="255" width="20" height="20" fill="#e6a53c"/><rect x="150" y="255" width="20" height="20" fill="#f3d447"/><rect x="170" y="255" width="20" height="20" fill="#d9f04c"/><rect x="190" y="255" width="20" height="20" fill="#f3d447"/><rect x="210" y="255" width="20" height="20" fill="#f3d447"/><rect x="230" y="255" width="20" height="20" fill="#d8783a"/><rect x="250" y="255" width="20" height="20" fill="#e6a53c"/><rect x="270" y="255" width="20" height="20" fill="#e6a53c"/><rect x="290" y="255" width="20" height="20" fill="#f3d447"/><rect x="310" y="255" width="20" height="20" fill="#d9f04c"/><rect x="330" y="255" width="20" height="20" fill="#4cb953"/><rect x="350" y="255" width="20" height="20" fill="#6fe142"/><rect x="370" y="255" width="20" height="20" fill="#4cb953"/><rect x="390" y="255" width="20" height="20" fill="#4cb953"/><rect x="410" y="255" width="20" height="20" fill="#4cb953"/><rect x="430" y="255" width="20" height="20" fill="#4cb953"/><rect x="450" y="255" width="20" height="20" fill="#4cb953"/><rect x="30" y="275" width="20" height="20" fill="#e6a53c"/><rect x="50" y="275" width="20" height="20" fill="#e6a53c"/><rect x="70" y="275" width="20" height="20" fill="#e6a53c"/><rect x="90" y="275" width="20" height="20" fill="#e6a53c"/><rect x="110" y="275" width="20" height="20" fill="#e6a53c"/><rect x="130" y="275" width="20" height="20" fill="#e6a53c"/><rect x="150" y="275" width="20" height="20" fill="#f3d447"/><rect x="170" y="275" width="20" height="20" fill="#e6a53c"/><rect x="190" y="275" width="20" height="20" fill="#f3d447"/><rect x="210" y="275" width="20" height="20" fill="#f3d447"/><rect x="230" y="275" width="20" height="20" fill="#e6a53c"/><rect x="250" y="275" width="20" height="20" fill="#e6a53c"/><rect x="270" y="275" width="20" height="20" fill="#e6a53c"/><rect x="290" y="275" width="20" height="20" fill="#e6a53c"/><rect x="310" y="275" width="20" height="20" fill="#f3d447"/><rect x="330" y="275" width="20" height="20" fill="#6fe142"/><rect x="350" y="275" width="20" height="20" fill="#4cb953"/><rect x="370" y="275" width="20" height="20" fill="#4cb953"/><rect x="390" y="275" width="20" height="20" fill="#4cb953"/><rect x="410" y="275" width="20" height="20" fill="#4cb953"/><rect x="430" y="275" width="20" height="20" fill="#4cb953"/><rect x="450" y="275" width="20" height="20" fill="#4cb953"/><rect x="30" y="295" width="20" height="20" fill="#e6a53c"/><rect x="50" y="295" width="20" height="20" fill="#e6a53c"/><rect x="70" y="295" width="20" height="20" fill="#e6a53c"/><rect x="90" y="295" width="20" height="20" fill="#e6a53c"/><rect x="110" y="295" width="20" height="20" fill="#e6a53c"/><rect x="130" y="295" width="20" height="20" fill="#f3d447"/><rect x="150" y="295" width="20" height="20" fill="#f3d447"/><rect x="170" y="295" width="20" height="20" fill="#e6a53c"/><rect x="190" y="295" width="20" height="20" fill="#e6a53c"/><rect x="210" y="295" width="20" height="20" fill="#f3d447"/><rect x="230" y="295" width="20" height="20" fill="#e6a53c"/><rect x="250" y="295" width="20" height="20" fill="#e6a53c"/><rect x="270" y="295" width="20" height="20" fill="#e6a53c"/><rect x="290" y="295" width="20" height="20" fill="#f3d447"/><rect x="310" y="295" width="20" height="20" fill="#f3d447"/><rect x="330" y="295" width="20" height="20" fill="#d9f04c"/><rect x="350" y="295" width="20" height="20" fill="#6fe142"/><rect x="370" y="295" width="20" height="20" fill="#4cb953"/><rect x="390" y="295" width="20" height="20" fill="#4cb953"/><rect x="410" y="295" width="20" height="20" fill="#4cb953"/><rect x="430" y="295" width="20" height="20" fill="#4cb953"/><rect x="450" y="295" width="20" height="20" fill="#4cb953"/><rect x="30" y="315" width="20" height="20" fill="#f3d447"/><rect x="50" y="315" width="20" height="20" fill="#f3d447"/><rect x="70" y="315" width="20" height="20" fill="#f3d447"/><rect x="90" y="315" width="20" height="20" fill="#f3d447"/><rect x="110" y="315" width="20" height="20" fill="#f3d447"/><rect x="130" y="315" width="20" height="20" fill="#f3d447"/><rect x="150" y="315" width="20" height="20" fill="#f3d447"/><rect x="170" y="315" width="20" height="20" fill="#e6a53c"/><rect x="190" y="315" width="20" height="20" fill="#d9f04c"/><rect x="210" y="315" width="20" height="20" fill="#6fe142"/><rect x="230" y="315" width="20" height="20" fill="#6fe142"/><rect x="250" y="315" width="20" height="20" fill="#d9f04c"/><rect x="270" y="315" width="20" height="20" fill="#f3d447"/><rect x="290" y="315" width="20" height="20" fill="#f3d447"/><rect x="310" y="315" width="20" height="20" fill="#d9f04c"/><rect x="330" y="315" width="20" height="20" fill="#6fe142"/><rect x="350" y="315" width="20" height="20" fill="#6fe142"/><rect x="370" y="315" width="20" height="20" fill="#6fe142"/><rect x="390" y="315" width="20" height="20" fill="#4cb953"/><rect x="410" y="315" width="20" height="20" fill="#4cb953"/><rect x="430" y="315" width="20" height="20" fill="#4cb953"/><rect x="450" y="315" width="20" height="20" fill="#4cb953"/><rect x="30" y="335" width="20" height="20" fill="#d9f04c"/><rect x="50" y="335" width="20" height="20" fill="#d9f04c"/><rect x="70" y="335" width="20" height="20" fill="#d9f04c"/><rect x="90" y="335" width="20" height="20" fill="#d9f04c"/><rect x="110" y="335" width="20" height="20" fill="#d9f04c"/><rect x="130" y="335" width="20" height="20" fill="#f3d447"/><rect x="150" y="335" width="20" height="20" fill="#f3d447"/><rect x="170" y="335" width="20" height="20" fill="#d9f04c"/><rect x="190" y="335" width="20" height="20" fill="#d9f04c"/><rect x="210" y="335" width="20" height="20" fill="#d9f04c"/><rect x="230" y="335" width="20" height="20" fill="#f3d447"/><rect x="250" y="335" width="20" height="20" fill="#f3d447"/><rect x="270" y="335" width="20" height="20" fill="#f3d447"/><rect x="290" y="335" width="20" height="20" fill="#f3d447"/><rect x="310" y="335" width="20" height="20" fill="#d9f04c"/><rect x="330" y="335" width="20" height="20" fill="#6fe142"/><rect x="350" y="335" width="20" height="20" fill="#4cb953"/><rect x="370" y="335" width="20" height="20" fill="#6fe142"/><rect x="390" y="335" width="20" height="20" fill="#4cb953"/><rect x="410" y="335" width="20" height="20" fill="#4cb953"/><rect x="430" y="335" width="20" height="20" fill="#4cb953"/><rect x="450" y="335" width="20" height="20" fill="#4cb953"/><rect x="30" y="355" width="20" height="20" fill="#d9f04c"/><rect x="50" y="355" width="20" height="20" fill="#d9f04c"/><rect x="70" y="355" width="20" height="20" fill="#d9f04c"/><rect x="90" y="355" width="20" height="20" fill="#d9f04c"/><rect x="110" y="355" width="20" height="20" fill="#d9f04c"/><rect x="130" y="355" width="20" height="20" fill="#e6a53c"/><rect x="150" y="355" width="20" height="20" fill="#f3d447"/><rect x="170" y="355" width="20" height="20" fill="#f3d447"/><rect x="190" y="355" width="20" height="20" fill="#f3d447"/><rect x="210" y="355" width="20" height="20" fill="#d9f04c"/><rect x="230" y="355" width="20" height="20" fill="#d9f04c"/><rect x="250" y="355" width="20" height="20" fill="#d9f04c"/><rect x="270" y="355" width="20" height="20" fill="#d9f04c"/><rect x="290" y="355" width="20" height="20" fill="#6fe142"/><rect x="310" y="355" width="20" height="20" fill="#6fe142"/><rect x="330" y="355" width="20" height="20" fill="#6fe142"/><rect x="350" y="355" width="20" height="20" fill="#4cb953"/><rect x="370" y="355" width="20" height="20" fill="#6fe142"/><rect x="390" y="355" width="20" height="20" fill="#6fe142"/><rect x="410" y="355" width="20" height="20" fill="#4cb953"/><rect x="430" y="355" width="20" height="20" fill="#4cb953"/><rect x="450" y="355" width="20" height="20" fill="#3c9c84"/><rect x="30" y="375" width="20" height="20" fill="#f3d447"/><rect x="50" y="375" width="20" height="20" fill="#f3d447"/><rect x="70" y="375" width="20" height="20" fill="#f3d447"/><rect x="90" y="375" width="20" height="20" fill="#f3d447"/><rect x="110" y="375" width="20" height="20" fill="#d9f04c"/><rect x="130" y="375" width="20" height="20" fill="#d9f04c"/><rect x="150" y="375" width="20" height="20" fill="#d9f04c"/><rect x="170" y="375" width="20" height="20" fill="#6fe142"/><rect x="190" y="375" width="20" height="20" fill="#f3d447"/><rect x="210" y="375" width="20" height="20" fill="#e6a53c"/><rect x="230" y="375" width="20" height="20" fill="#d9f04c"/><rect x="250" y="375" width="20" height="20" fill="#d9f04c"/><rect x="270" y="375" width="20" height="20" fill="#6fe142"/><rect x="290" y="375" width="20" height="20" fill="#d9f04c"/><rect x="310" y="375" width="20" height="20" fill="#d9f04c"/><rect x="330" y="375" width="20" height="20" fill="#6fe142"/><rect x="350" y="375" width="20" height="20" fill="#4cb953"/><rect x="370" y="375" width="20" height="20" fill="#6fe142"/><rect x="390" y="375" width="20" height="20" fill="#6fe142"/><rect x="410" y="375" width="20" height="20" fill="#6fe142"/><rect x="430" y="375" width="20" height="20" fill="#4cb953"/><rect x="450" y="375" width="20" height="20" fill="#4cb953"/><rect x="30" y="395" width="20" height="20" fill="#f3d447"/><rect x="50" y="395" width="20" height="20" fill="#f3d447"/><rect x="70" y="395" width="20" height="20" fill="#f3d447"/><rect x="90" y="395" width="20" height="20" fill="#f3d447"/><rect x="110" y="395" width="20" height="20" fill="#f3d447"/><rect x="130" y="395" width="20" height="20" fill="#d9f04c"/><rect x="150" y="395" width="20" height="20" fill="#6fe142"/><rect x="170" y="395" width="20" height="20" fill="#4cb953"/><rect x="190" y="395" width="20" height="20" fill="#d9f04c"/><rect x="210" y="395" width="20" height="20" fill="#e6a53c"/><rect x="230" y="395" width="20" height="20" fill="#e6a53c"/><rect x="250" y="395" width="20" height="20" fill="#6fe142"/><rect x="270" y="395" width="20" height="20" fill="#4cb953"/><rect x="290" y="395" width="20" height="20" fill="#d9f04c"/><rect x="310" y="395" width="20" height="20" fill="#d9f04c"/><rect x="330" y="395" width="20" height="20" fill="#6fe142"/><rect x="350" y="395" width="20" height="20" fill="#4cb953"/><rect x="370" y="395" width="20" height="20" fill="#4cb953"/><rect x="390" y="395" width="20" height="20" fill="#6fe142"/><rect x="410" y="395" width="20" height="20" fill="#6fe142"/><rect x="430" y="395" width="20" height="20" fill="#6fe142"/><rect x="450" y="395" width="20" height="20" fill="#6fe142"/><rect x="30" y="415" width="20" height="20" fill="#f3d447"/><rect x="50" y="415" width="20" height="20" fill="#f3d447"/><rect x="70" y="415" width="20" height="20" fill="#f3d447"/><rect x="90" y="415" width="20" height="20" fill="#f3d447"/><rect x="110" y="415" width="20" height="20" fill="#f3d447"/><rect x="130" y="415" width="20" height="20" fill="#d9f04c"/><rect x="150" y="415" width="20" height="20" fill="#4cb953"/><rect x="170" y="415" width="20" height="20" fill="#4cb953"/><rect x="190" y="415" width="20" height="20" fill="#d9f04c"/><rect x="210" y="415" width="20" height="20" fill="#d9f04c"/><rect x="230" y="415" width="20" height="20" fill="#d9f04c"/><rect x="250" y="415" width="20" height="20" fill="#6fe142"/><rect x="270" y="415" width="20" height="20" fill="#4cb953"/><rect x="290" y="415" width="20" height="20" fill="#6fe142"/><rect x="310" y="415" width="20" height="20" fill="#6fe142"/><rect x="330" y="415" width="20" height="20" fill="#6fe142"/><rect x="350" y="415" width="20" height="20" fill="#4cb953"/><rect x="370" y="415" width="20" height="20" fill="#4cb953"/><rect x="390" y="415" width="20" height="20" fill="#4cb953"/><rect x="410" y="415" width="20" height="20" fill="#6fe142"/><rect x="430" y="415" width="20" height="20" fill="#6fe142"/><rect x="450" y="415" width="20" height="20" fill="#4cb953"/><rect x="30" y="435" width="20" height="20" fill="#e6a53c"/><rect x="50" y="435" width="20" height="20" fill="#e6a53c"/><rect x="70" y="435" width="20" height="20" fill="#e6a53c"/><rect x="90" y="435" width="20" height="20" fill="#e6a53c"/><rect x="110" y="435" width="20" height="20" fill="#f3d447"/><rect x="130" y="435" width="20" height="20" fill="#d9f04c"/><rect x="150" y="435" width="20" height="20" fill="#6fe142"/><rect x="170" y="435" width="20" height="20" fill="#d9f04c"/><rect x="190" y="435" width="20" height="20" fill="#d9f04c"/><rect x="210" y="435" width="20" height="20" fill="#d9f04c"/><rect x="230" y="435" width="20" height="20" fill="#d9f04c"/><rect x="250" y="435" width="20" height="20" fill="#6fe142"/><rect x="270" y="435" width="20" height="20" fill="#4cb953"/><rect x="290" y="435" width="20" height="20" fill="#6fe142"/><rect x="310" y="435" width="20" height="20" fill="#6fe142"/><rect x="330" y="435" width="20" height="20" fill="#6fe142"/><rect x="350" y="435" width="20" height="20" fill="#4cb953"/><rect x="370" y="435" width="20" height="20" fill="#3c9c84"/><rect x="390" y="435" width="20" height="20" fill="#4cb953"/><rect x="410" y="435" width="20" height="20" fill="#4cb953"/><rect x="430" y="435" width="20" height="20" fill="#4cb953"/><rect x="450" y="435" width="20" height="20" fill="#4cb953"/><rect x="30" y="455" width="20" height="20" fill="#e6a53c"/><rect x="50" y="455" width="20" height="20" fill="#e6a53c"/><rect x="70" y="455" width="20" height="20" fill="#e6a53c"/><rect x="90" y="455" width="20" height="20" fill="#e6a53c"/><rect x="110" y="455" width="20" height="20" fill="#f3d447"/><rect x="130" y="455" width="20" height="20" fill="#f3d447"/><rect x="150" y="455" width="20" height="20" fill="#d9f04c"/><rect x="170" y="455" width="20" height="20" fill="#f3d447"/><rect x="190" y="455" width="20" height="20" fill="#e6a53c"/><rect x="210" y="455" width="20" height="20" fill="#d8783a"/><rect x="230" y="455" width="20" height="20" fill="#e6a53c"/><rect x="250" y="455" width="20" height="20" fill="#d9f04c"/><rect x="270" y="455" width="20" height="20" fill="#4cb953"/><rect x="290" y="455" width="20" height="20" fill="#4cb953"/><rect x="310" y="455" width="20" height="20" fill="#d9f04c"/><rect x="330" y="455" width="20" height="20" fill="#4cb953"/><rect x="350" y="455" width="20" height="20" fill="#3c9c84"/><rect x="370" y="455" width="20" height="20" fill="#4cb953"/><rect x="390" y="455" width="20" height="20" fill="#4cb953"/><rect x="410" y="455" width="20" height="20" fill="#4cb953"/><rect x="430" y="455" width="20" height="20" fill="#4cb953"/><rect x="450" y="455" width="20" height="20" fill="#4cb953"/><rect x="30" y="475" width="20" height="20" fill="#d8783a"/><rect x="50" y="475" width="20" height="20" fill="#d8783a"/><rect x="70" y="475" width="20" height="20" fill="#d8783a"/><rect x="90" y="475" width="20" height="20" fill="#e6a53c"/><rect x="110" y="475" width="20" height="20" fill="#f3d447"/><rect x="130" y="475" width="20" height="20" fill="#f3d447"/><rect x="150" y="475" width="20" height="20" fill="#f3d447"/><rect x="170" y="475" width="20" height="20" fill="#f3d447"/><rect x="190" y="475" width="20" height="20" fill="#e6a53c"/><rect x="210" y="475" width="20" height="20" fill="#e6a53c"/><rect x="230" y="475" width="20" height="20" fill="#e6a53c"/><rect x="250" y="475" width="20" height="20" fill="#d9f04c"/><rect x="270" y="475" width="20" height="20" fill="#6fe142"/><rect x="290" y="475" width="20" height="20" fill="#6fe142"/><rect x="310" y="475" width="20" height="20" fill="#d9f04c"/><rect x="330" y="475" width="20" height="20" fill="#6fe142"/><rect x="350" y="475" width="20" height="20" fill="#4cb953"/><rect x="370" y="475" width="20" height="20" fill="#4cb953"/><rect x="390" y="475" width="20" height="20" fill="#4cb953"/><rect x="410" y="475" width="20" height="20" fill="#4cb953"/><rect x="430" y="475" width="20" height="20" fill="#d9f04c"/><rect x="450" y="475" width="20" height="20" fill="#d9f04c"/><rect x="30" y="495" width="20" height="20" fill="#d8783a"/><rect x="50" y="495" width="20" height="20" fill="#d8783a"/><rect x="70" y="495" width="20" height="20" fill="#d8783a"/><rect x="90" y="495" width="20" height="20" fill="#e6a53c"/><rect x="110" y="495" width="20" height="20" fill="#f3d447"/><rect x="130" y="495" width="20" height="20" fill="#f3d447"/><rect x="150" y="495" width="20" height="20" fill="#f3d447"/><rect x="170" y="495" width="20" height="20" fill="#f3d447"/><rect x="190" y="495" width="20" height="20" fill="#e6a53c"/><rect x="210" y="495" width="20" height="20" fill="#e6a53c"/><rect x="230" y="495" width="20" height="20" fill="#f3d447"/><rect x="250" y="495" width="20" height="20" fill="#e6a53c"/><rect x="270" y="495" width="20" height="20" fill="#d9f04c"/><rect x="290" y="495" width="20" height="20" fill="#4cb953"/><rect x="310" y="495" width="20" height="20" fill="#6fe142"/><rect x="330" y="495" width="20" height="20" fill="#4cb953"/><rect x="350" y="495" width="20" height="20" fill="#4cb953"/><rect x="370" y="495" width="20" height="20" fill="#4cb953"/><rect x="390" y="495" width="20" height="20" fill="#4cb953"/><rect x="410" y="495" width="20" height="20" fill="#4cb953"/><rect x="430" y="495" width="20" height="20" fill="#d9f04c"/><rect x="450" y="495" width="20" height="20" fill="#d9f04c"/><rect x="30" y="515" width="20" height="20" fill="#d8783a"/><rect x="50" y="515" width="20" height="20" fill="#d8783a"/><rect x="70" y="515" width="20" height="20" fill="#d8783a"/><rect x="90" y="515" width="20" height="20" fill="#e6a53c"/><rect x="110" y="515" width="20" height="20" fill="#f3d447"/><rect x="130" y="515" width="20" height="20" fill="#f3d447"/><rect x="150" y="515" width="20" height="20" fill="#d8783a"/><rect x="170" y="515" width="20" height="20" fill="#d8783a"/><rect x="190" y="515" width="20" height="20" fill="#e6a53c"/><rect x="210" y="515" width="20" height="20" fill="#e6a53c"/><rect x="230" y="515" width="20" height="20" fill="#f3d447"/><rect x="250" y="515" width="20" height="20" fill="#e6a53c"/><rect x="270" y="515" width="20" height="20" fill="#d9f04c"/><rect x="290" y="515" width="20" height="20" fill="#4cb953"/><rect x="310" y="515" width="20" height="20" fill="#4cb953"/><rect x="330" y="515" width="20" height="20" fill="#6fe142"/><rect x="350" y="515" width="20" height="20" fill="#4cb953"/><rect x="370" y="515" width="20" height="20" fill="#6fe142"/><rect x="390" y="515" width="20" height="20" fill="#4cb953"/><rect x="410" y="515" width="20" height="20" fill="#4cb953"/><rect x="430" y="515" width="20" height="20" fill="#4cb953"/><rect x="450" y="515" width="20" height="20" fill="#d9f04c"/><rect x="30" y="535" width="20" height="20" fill="#d8783a"/><rect x="50" y="535" width="20" height="20" fill="#d8783a"/><rect x="70" y="535" width="20" height="20" fill="#d8783a"/><rect x="90" y="535" width="20" height="20" fill="#e6a53c"/><rect x="110" y="535" width="20" height="20" fill="#d9f04c"/><rect x="130" y="535" width="20" height="20" fill="#d9f04c"/><rect x="150" y="535" width="20" height="20" fill="#d9f04c"/><rect x="170" y="535" width="20" height="20" fill="#e6a53c"/><rect x="190" y="535" width="20" height="20" fill="#f3d447"/><rect x="210" y="535" width="20" height="20" fill="#f3d447"/><rect x="230" y="535" width="20" height="20" fill="#f3d447"/><rect x="250" y="535" width="20" height="20" fill="#d9f04c"/><rect x="270" y="535" width="20" height="20" fill="#6fe142"/><rect x="290" y="535" width="20" height="20" fill="#4cb953"/><rect x="310" y="535" width="20" height="20" fill="#6fe142"/><rect x="330" y="535" width="20" height="20" fill="#4cb953"/><rect x="350" y="535" width="20" height="20" fill="#4cb953"/><rect x="370" y="535" width="20" height="20" fill="#4cb953"/><rect x="390" y="535" width="20" height="20" fill="#4cb953"/><rect x="410" y="535" width="20" height="20" fill="#4cb953"/><rect x="430" y="535" width="20" height="20" fill="#4cb953"/><rect x="450" y="535" width="20" height="20" fill="#4cb953"/><rect x="30" y="555" width="20" height="20" fill="#d8783a"/><rect x="50" y="555" width="20" height="20" fill="#d8783a"/><rect x="70" y="555" width="20" height="20" fill="#d8783a"/><rect x="90" y="555" width="20" height="20" fill="#e6a53c"/><rect x="110" y="555" width="20" height="20" fill="#d9f04c"/><rect x="130" y="555" width="20" height="20" fill="#d9f04c"/><rect x="150" y="555" width="20" height="20" fill="#d9f04c"/><rect x="170" y="555" width="20" height="20" fill="#d9f04c"/><rect x="190" y="555" width="20" height="20" fill="#f3d447"/><rect x="210" y="555" width="20" height="20" fill="#f3d447"/><rect x="230" y="555" width="20" height="20" fill="#f3d447"/><rect x="250" y="555" width="20" height="20" fill="#d9f04c"/><rect x="270" y="555" width="20" height="20" fill="#6fe142"/><rect x="290" y="555" width="20" height="20" fill="#4cb953"/><rect x="310" y="555" width="20" height="20" fill="#6fe142"/><rect x="330" y="555" width="20" height="20" fill="#4cb953"/><rect x="350" y="555" width="20" height="20" fill="#4cb953"/><rect x="370" y="555" width="20" height="20" fill="#4cb953"/><rect x="390" y="555" width="20" height="20" fill="#4cb953"/><rect x="410" y="555" width="20" height="20" fill="#6fe142"/><rect x="430" y="555" width="20" height="20" fill="#6fe142"/><rect x="450" y="555" width="20" height="20" fill="#6fe142"/><rect x="30" y="575" width="20" height="20" fill="#d8783a"/><rect x="50" y="575" width="20" height="20" fill="#d8783a"/><rect x="70" y="575" width="20" height="20" fill="#d8783a"/><rect x="90" y="575" width="20" height="20" fill="#f3d447"/><rect x="110" y="575" width="20" height="20" fill="#f3d447"/><rect x="130" y="575" width="20" height="20" fill="#d9f04c"/><rect x="150" y="575" width="20" height="20" fill="#d9f04c"/><rect x="170" y="575" width="20" height="20" fill="#6fe142"/><rect x="190" y="575" width="20" height="20" fill="#6fe142"/><rect x="210" y="575" width="20" height="20" fill="#d9f04c"/><rect x="230" y="575" width="20" height="20" fill="#6fe142"/><rect x="250" y="575" width="20" height="20" fill="#6fe142"/><rect x="270" y="575" width="20" height="20" fill="#d9f04c"/><rect x="290" y="575" width="20" height="20" fill="#4cb953"/><rect x="310" y="575" width="20" height="20" fill="#4cb953"/><rect x="330" y="575" width="20" height="20" fill="#4cb953"/><rect x="350" y="575" width="20" height="20" fill="#4cb953"/><rect x="370" y="575" width="20" height="20" fill="#6fe142"/><rect x="390" y="575" width="20" height="20" fill="#6fe142"/><rect x="410" y="575" width="20" height="20" fill="#4cb953"/><rect x="430" y="575" width="20" height="20" fill="#4cb953"/><rect x="450" y="575" width="20" height="20" fill="#4cb953"/><rect x="30" y="595" width="20" height="20" fill="#e6a53c"/><rect x="50" y="595" width="20" height="20" fill="#f3d447"/><rect x="70" y="595" width="20" height="20" fill="#f3d447"/><rect x="90" y="595" width="20" height="20" fill="#f3d447"/><rect x="110" y="595" width="20" height="20" fill="#d9f04c"/><rect x="130" y="595" width="20" height="20" fill="#d9f04c"/><rect x="150" y="595" width="20" height="20" fill="#d9f04c"/><rect x="170" y="595" width="20" height="20" fill="#4cb953"/><rect x="190" y="595" width="20" height="20" fill="#4cb953"/><rect x="210" y="595" width="20" height="20" fill="#4cb953"/><rect x="230" y="595" width="20" height="20" fill="#4cb953"/><rect x="250" y="595" width="20" height="20" fill="#6fe142"/><rect x="270" y="595" width="20" height="20" fill="#d9f04c"/><rect x="290" y="595" width="20" height="20" fill="#4cb953"/><rect x="310" y="595" width="20" height="20" fill="#4cb953"/><rect x="330" y="595" width="20" height="20" fill="#4cb953"/><rect x="350" y="595" width="20" height="20" fill="#4cb953"/><rect x="370" y="595" width="20" height="20" fill="#4cb953"/><rect x="390" y="595" width="20" height="20" fill="#4cb953"/><rect x="410" y="595" width="20" height="20" fill="#4cb953"/><rect x="430" y="595" width="20" height="20" fill="#4cb953"/><rect x="450" y="595" width="20" height="20" fill="#4cb953"/><rect x="30" y="615" width="20" height="20" fill="#d8783a"/><rect x="50" y="615" width="20" height="20" fill="#e6a53c"/><rect x="70" y="615" width="20" height="20" fill="#f3d447"/><rect x="90" y="615" width="20" height="20" fill="#f3d447"/><rect x="110" y="615" width="20" height="20" fill="#f3d447"/><rect x="130" y="615" width="20" height="20" fill="#d9f04c"/><rect x="150" y="615" width="20" height="20" fill="#d9f04c"/><rect x="170" y="615" width="20" height="20" fill="#6fe142"/><rect x="190" y="615" width="20" height="20" fill="#4cb953"/><rect x="210" y="615" width="20" height="20" fill="#4cb953"/><rect x="230" y="615" width="20" height="20" fill="#4cb953"/><rect x="250" y="615" width="20" height="20" fill="#4cb953"/><rect x="270" y="615" width="20" height="20" fill="#d9f04c"/><rect x="290" y="615" width="20" height="20" fill="#d9f04c"/><rect x="310" y="615" width="20" height="20" fill="#6fe142"/><rect x="330" y="615" width="20" height="20" fill="#6fe142"/><rect x="350" y="615" width="20" height="20" fill="#6fe142"/><rect x="370" y="615" width="20" height="20" fill="#6fe142"/><rect x="390" y="615" width="20" height="20" fill="#6fe142"/><rect x="410" y="615" width="20" height="20" fill="#6fe142"/><rect x="430" y="615" width="20" height="20" fill="#6fe142"/><rect x="450" y="615" width="20" height="20" fill="#6fe142"/><rect x="30" y="635" width="20" height="20" fill="#e6a53c"/><rect x="50" y="635" width="20" height="20" fill="#e6a53c"/><rect x="70" y="635" width="20" height="20" fill="#e6a53c"/><rect x="90" y="635" width="20" height="20" fill="#f3d447"/><rect x="110" y="635" width="20" height="20" fill="#d9f04c"/><rect x="130" y="635" width="20" height="20" fill="#d9f04c"/><rect x="150" y="635" width="20" height="20" fill="#6fe142"/><rect x="170" y="635" width="20" height="20" fill="#6fe142"/><rect x="190" y="635" width="20" height="20" fill="#d9f04c"/><rect x="210" y="635" width="20" height="20" fill="#4cb953"/><rect x="230" y="635" width="20" height="20" fill="#4cb953"/><rect x="250" y="635" width="20" height="20" fill="#4cb953"/><rect x="270" y="635" width="20" height="20" fill="#6fe142"/><rect x="290" y="635" width="20" height="20" fill="#d9f04c"/><rect x="310" y="635" width="20" height="20" fill="#6fe142"/><rect x="330" y="635" width="20" height="20" fill="#6fe142"/><rect x="350" y="635" width="20" height="20" fill="#6fe142"/><rect x="370" y="635" width="20" height="20" fill="#6fe142"/><rect x="390" y="635" width="20" height="20" fill="#6fe142"/><rect x="410" y="635" width="20" height="20" fill="#6fe142"/><rect x="430" y="635" width="20" height="20" fill="#6fe142"/><rect x="450" y="635" width="20" height="20" fill="#6fe142"/><rect x="30" y="655" width="20" height="20" fill="#e6a53c"/><rect x="50" y="655" width="20" height="20" fill="#e6a53c"/><rect x="70" y="655" width="20" height="20" fill="#e6a53c"/><rect x="90" y="655" width="20" height="20" fill="#d9f04c"/><rect x="110" y="655" width="20" height="20" fill="#6fe142"/><rect x="130" y="655" width="20" height="20" fill="#6fe142"/><rect x="150" y="655" width="20" height="20" fill="#d9f04c"/><rect x="170" y="655" width="20" height="20" fill="#6fe142"/><rect x="190" y="655" width="20" height="20" fill="#6fe142"/><rect x="210" y="655" width="20" height="20" fill="#4cb953"/><rect x="230" y="655" width="20" height="20" fill="#6fe142"/><rect x="250" y="655" width="20" height="20" fill="#6fe142"/><rect x="270" y="655" width="20" height="20" fill="#d9f04c"/><rect x="290" y="655" width="20" height="20" fill="#d9f04c"/><rect x="310" y="655" width="20" height="20" fill="#4cb953"/><rect x="330" y="655" width="20" height="20" fill="#6fe142"/><rect x="350" y="655" width="20" height="20" fill="#6fe142"/><rect x="370" y="655" width="20" height="20" fill="#6fe142"/><rect x="390" y="655" width="20" height="20" fill="#6fe142"/><rect x="410" y="655" width="20" height="20" fill="#6fe142"/><rect x="430" y="655" width="20" height="20" fill="#6fe142"/><rect x="450" y="655" width="20" height="20" fill="#6fe142"/><rect x="30" y="675" width="20" height="20" fill="#e6a53c"/><rect x="50" y="675" width="20" height="20" fill="#e6a53c"/><rect x="70" y="675" width="20" height="20" fill="#e6a53c"/><rect x="90" y="675" width="20" height="20" fill="#6fe142"/><rect x="110" y="675" width="20" height="20" fill="#6fe142"/><rect x="130" y="675" width="20" height="20" fill="#6fe142"/><rect x="150" y="675" width="20" height="20" fill="#d9f04c"/><rect x="170" y="675" width="20" height="20" fill="#6fe142"/><rect x="190" y="675" width="20" height="20" fill="#6fe142"/><rect x="210" y="675" width="20" height="20" fill="#6fe142"/><rect x="230" y="675" width="20" height="20" fill="#d9f04c"/><rect x="250" y="675" width="20" height="20" fill="#d9f04c"/><rect x="270" y="675" width="20" height="20" fill="#d9f04c"/><rect x="290" y="675" width="20" height="20" fill="#6fe142"/><rect x="310" y="675" width="20" height="20" fill="#6fe142"/><rect x="330" y="675" width="20" height="20" fill="#6fe142"/><rect x="350" y="675" width="20" height="20" fill="#6fe142"/><rect x="370" y="675" width="20" height="20" fill="#6fe142"/><rect x="390" y="675" width="20" height="20" fill="#6fe142"/><rect x="410" y="675" width="20" height="20" fill="#6fe142"/><rect x="430" y="675" width="20" height="20" fill="#6fe142"/><rect x="450" y="675" width="20" height="20" fill="#6fe142"/><rect x="30" y="695" width="20" height="20" fill="#e6a53c"/><rect x="50" y="695" width="20" height="20" fill="#e6a53c"/><rect x="70" y="695" width="20" height="20" fill="#e6a53c"/><rect x="90" y="695" width="20" height="20" fill="#6fe142"/><rect x="110" y="695" width="20" height="20" fill="#6fe142"/><rect x="130" y="695" width="20" height="20" fill="#4cb953"/><rect x="150" y="695" width="20" height="20" fill="#4cb953"/><rect x="170" y="695" width="20" height="20" fill="#6fe142"/><rect x="190" y="695" width="20" height="20" fill="#4cb953"/><rect x="210" y="695" width="20" height="20" fill="#4cb953"/><rect x="230" y="695" width="20" height="20" fill="#6fe142"/><rect x="250" y="695" width="20" height="20" fill="#d9f04c"/><rect x="270" y="695" width="20" height="20" fill="#d9f04c"/><rect x="290" y="695" width="20" height="20" fill="#6fe142"/><rect x="310" y="695" width="20" height="20" fill="#6fe142"/><rect x="330" y="695" width="20" height="20" fill="#6fe142"/><rect x="350" y="695" width="20" height="20" fill="#6fe142"/><rect x="370" y="695" width="20" height="20" fill="#6fe142"/><rect x="390" y="695" width="20" height="20" fill="#6fe142"/><rect x="410" y="695" width="20" height="20" fill="#6fe142"/><rect x="430" y="695" width="20" height="20" fill="#6fe142"/><rect x="450" y="695" width="20" height="20" fill="#6fe142"/><rect x="30" y="715" width="20" height="20" fill="#e6a53c"/><rect x="50" y="715" width="20" height="20" fill="#e6a53c"/><rect x="70" y="715" width="20" height="20" fill="#e6a53c"/><rect x="90" y="715" width="20" height="20" fill="#6fe142"/><rect x="110" y="715" width="20" height="20" fill="#6fe142"/><rect x="130" y="715" width="20" height="20" fill="#4cb953"/><rect x="150" y="715" width="20" height="20" fill="#4cb953"/><rect x="170" y="715" width="20" height="20" fill="#6fe142"/><rect x="190" y="715" width="20" height="20" fill="#6fe142"/><rect x="210" y="715" width="20" height="20" fill="#6fe142"/><rect x="230" y="715" width="20" height="20" fill="#6fe142"/><rect x="250" y="715" width="20" height="20" fill="#d9f04c"/><rect x="270" y="715" width="20" height="20" fill="#d9f04c"/><rect x="290" y="715" width="20" height="20" fill="#6fe142"/><rect x="310" y="715" width="20" height="20" fill="#6fe142"/><rect x="330" y="715" width="20" height="20" fill="#6fe142"/><rect x="350" y="715" width="20" height="20" fill="#6fe142"/><rect x="370" y="715" width="20" height="20" fill="#6fe142"/><rect x="390" y="715" width="20" height="20" fill="#6fe142"/><rect x="410" y="715" width="20" height="20" fill="#6fe142"/><rect x="430" y="715" width="20" height="20" fill="#6fe142"/><rect x="450" y="715" width="20" height="20" fill="#6fe142"/></g></g>
<g fill="none" stroke="#3a3a2a" stroke-width="0.9" stroke-opacity="0.75"><path d="M207.4,305.7 L214.4,306.8 L221.4,307.9 L228.4,309.0 L235.4,310.0 L242.4,311.1 L249.5,312.1 L256.5,313.1 L263.5,314.0 L270.5,315.0 L277.6,315.9 L284.6,316.9 L291.6,317.8 L298.7,318.7 L305.7,319.5 L312.8,320.4 L319.8,321.2 L326.9,322.0 L333.9,322.8 L341.0,323.6 L348.0,324.3 L355.1,325.1 L362.1,325.8 L369.2,326.5 L376.2,327.2 L383.3,327.9 L390.4,328.5 L397.4,329.1 L404.5,329.7"/><path d="M214.1,264.0 L212.4,274.5 L210.7,284.9 L209.1,295.3 L207.4,305.7"/><path d="M263.5,314.0 L262.0,324.7 L260.5,335.3 L259.0,345.9 L257.6,356.6 L256.1,367.2 L254.6,377.8 L253.1,388.4 L251.6,399.1 L250.1,409.7 L248.7,420.3 L247.2,430.9 L245.7,441.5 L244.2,452.1 L242.7,462.7 L241.3,473.3 L239.8,483.9 L238.3,494.4 L236.8,505.0 L235.3,515.6 L233.9,526.2 L232.4,536.7 L230.9,547.3 L229.4,557.8 L228.0,568.4 L226.5,578.9 L225.0,589.5 L223.6,600.0 L222.1,610.5 L220.6,621.0 L219.1,631.5 L217.7,642.1 L216.2,652.5 L214.7,663.0 L213.3,673.5 L211.8,684.0 L210.4,694.5 L208.9,704.9 L207.4,715.4"/><path d="M91.4,456.4 L98.8,457.8 L106.3,459.2 L113.7,460.6 L121.2,461.9 L128.6,463.3 L136.1,464.6 L143.6,465.9 L151.0,467.2 L158.5,468.4 L166.0,469.7 L173.5,470.9 L180.9,472.1 L188.4,473.3 L195.9,474.4 L203.4,475.6 L210.9,476.7 L218.4,477.8 L225.9,478.9 L233.4,479.9 L240.9,481.0 L248.4,482.0 L255.9,483.0 L263.4,484.0 L270.9,485.0 L278.4,485.9 L286.0,486.8 L293.5,487.7 L301.0,488.6 L308.5,489.5 L316.1,490.3 L323.6,491.1 L331.1,492.0 L338.6,492.7 L346.2,493.5 L353.7,494.2 L361.3,495.0 L368.8,495.7 L376.4,496.4 L383.9,497.0 L391.4,497.7 L399.0,498.3 L406.6,498.9 L414.1,499.5 L421.7,500.1"/></g><g clip-path="url(#clip)" fill="none" stroke="#33331c" stroke-width="0.9" stroke-opacity="0.72"><path d="M232.9,153.9 L249.7,159.0 L253.5,186.1 L252.3,206.7"/><path d="M253.5,188.7 L263.9,190.0 L274.2,195.1 L292.2,184.8 L296.1,183.5"/><path d="M296.1,150.0 L295.5,184.8"/><path d="M296.1,184.8 L330.9,187.4"/><path d="M316.7,152.6 L318.0,160.3 L328.4,170.6 L330.9,175.8"/><path d="M330.9,171.9 L363.2,173.2"/><path d="M330.9,175.8 L330.9,213.2"/><path d="M364.5,159.0 L360.6,218.3"/><path d="M390.3,161.6 L389.0,192.5"/><path d="M389.0,193.2 L413.5,195.1"/><path d="M387.7,192.5 L386.4,222.2"/><path d="M278.0,204.2 L297.4,206.7 L316.7,209.3 L330.9,213.2"/><path d="M330.9,214.5 L360.6,218.3 L387.7,222.2 L412.2,223.5"/><path d="M315.5,210.6 L314.2,262.2"/><path d="M356.7,218.3 L352.9,264.8"/><path d="M387.7,222.2 L386.4,259.6"/><path d="M241.9,259.6 L315.5,262.2 L354.2,264.8 L372.2,266.1"/><path d="M386.4,259.6 L408.3,261.6"/><path d="M372.2,266.1 L370.9,325.4"/><path d="M391.6,260.9 L390.3,300.9"/><path d="M372.2,299.6 L405.8,300.9"/><path d="M351.6,264.8 L349.0,328.0"/><path d="M297.4,263.5 L296.1,317.7"/><path d="M239.4,259.6 L236.8,309.9"/><path d="M222.6,211.9 L252.0,207.0"/><path d="M184.0,259.4 L186.8,285.0"/><path d="M124.6,290.5 L166.5,295.9"/><path d="M116.5,337.7 L167.8,344.5"/><path d="M113.8,352.6 L166.5,359.4"/><path d="M107.0,391.8 L148.9,398.6"/><path d="M103.0,412.1 L147.6,416.1"/><path d="M97.6,433.7 L140.8,437.7"/><path d="M169.2,295.9 L167.8,344.5 L166.5,359.4 L161.1,393.1"/><path d="M235.4,317.5 L231.4,359.4"/><path d="M231.4,359.4 L253.0,360.7"/><path d="M190.8,371.5 L225.9,374.2"/><path d="M225.9,374.2 L220.5,429.6"/><path d="M182.7,410.7 L220.5,414.8"/><path d="M147.6,397.2 L182.7,401.3"/><path d="M147.6,416.1 L180.0,418.8"/><path d="M215.1,312.1 L235.4,314.8"/><path d="M258.4,347.2 L300.0,351.3"/><path d="M254.3,371.5 L300.0,374.2"/><path d="M253.0,382.3 L300.0,387.7"/><path d="M247.6,414.8 L300.0,418.8"/><path d="M122.5,462.2 L124.4,451.8 L126.3,441.5"/><path d="M135.2,443.1 L142.7,444.4 L150.3,445.7 L157.9,447.0 L165.5,448.3 L173.1,449.5 L180.7,450.8 L188.3,452.0"/><path d="M154.6,418.7 L162.6,420.1 L170.7,421.4 L178.7,422.8 L186.8,424.0 L194.8,425.3 L202.9,426.6 L210.9,427.8 L219.0,429.0"/><path d="M218.3,414.0 L225.9,415.1 L233.6,416.3 L241.3,417.3 L248.9,418.4"/><path d="M173.1,470.8 L174.8,460.5 L176.5,450.1"/><path d="M373.6,369.3 L381.3,370.0 L389.0,370.7 L396.7,371.4 L404.4,372.1 L412.1,372.7 L419.8,373.3 L427.5,373.9 L435.3,374.5 L443.0,375.0 L450.7,375.5 L458.4,376.0"/><path d="M400.9,371.8 L401.8,361.3 L402.7,350.8 L403.6,340.2 L404.5,329.7"/><path d="M425.3,373.7 L426.1,363.2 L426.9,352.7 L427.7,342.2 L428.6,331.7"/><path d="M441.1,374.9 L441.9,364.4 L442.6,353.8 L443.4,343.3 L444.1,332.8"/><path d="M372.2,369.2 L373.2,358.7 L374.2,348.2 L375.2,337.7 L376.2,327.2"/><path d="M340.6,353.3 L342.2,338.6 L343.8,323.9"/><path d="M307.7,362.3 L309.0,351.8 L310.2,341.3 L311.5,330.9 L312.8,320.4"/><path d="M380.0,406.7 L387.6,407.4 L395.2,408.1 L402.8,408.7 L410.4,409.3 L418.0,409.9 L425.6,410.5 L433.2,411.1 L440.8,411.6 L448.4,412.1 L456.0,412.6"/><path d="M406.5,427.2 L407.4,416.3 L408.3,405.4 L409.2,394.4 L410.1,383.5 L411.0,372.6"/><path d="M421.2,446.5 L422.0,435.6 L422.9,424.7 L423.7,413.8 L424.5,402.8 L425.4,391.9"/><path d="M378.3,424.8 L379.3,413.9 L380.4,403.0 L381.4,392.0 L382.4,381.1 L383.4,370.2"/><path d="M342.0,421.2 L349.6,422.0 L357.1,422.7 L364.6,423.5 L372.1,424.2 L379.6,424.9 L387.1,425.5 L394.6,426.2 L402.2,426.8 L409.7,427.4 L417.2,428.0 L424.7,428.6 L432.3,429.2 L439.8,429.7 L447.3,430.2 L454.9,430.7"/><path d="M394.7,444.4 L402.0,445.0 L409.4,445.6 L416.8,446.2 L424.2,446.7 L431.5,447.3 L438.9,447.8 L446.3,448.3 L453.7,448.8"/><path d="M390.1,497.6 L391.1,485.7 L392.1,473.8 L393.1,462.0 L394.2,450.1 L395.2,438.2 L396.2,426.3"/><path d="M269.1,457.6 L276.7,458.6 L284.3,459.5 L291.9,460.4 L299.5,461.4 L307.1,462.2 L314.7,463.1 L322.3,464.0 L329.9,464.8 L337.5,465.6 L345.2,466.4 L352.8,467.1 L360.4,467.9 L368.0,468.6 L375.6,469.3 L383.3,470.0 L390.9,470.6 L398.5,471.3 L406.2,471.9 L413.8,472.5 L421.4,473.1 L429.1,473.6 L436.7,474.2 L444.3,474.7 L452.0,475.2"/><path d="M418.7,499.8 L419.7,486.4 L420.7,473.0"/><path d="M330.8,443.3 L332.1,431.3 L333.4,419.2 L334.7,407.2 L336.0,395.2"/><path d="M304.2,440.3 L305.8,427.6 L307.3,414.8 L308.8,402.1 L310.3,389.3"/><path d="M266.0,435.6 L274.1,436.6 L282.2,437.6 L290.3,438.6 L298.4,439.6 L306.5,440.6 L314.6,441.5 L322.7,442.4 L330.8,443.3"/><path d="M286.6,486.9 L288.2,473.6 L289.8,460.2"/><path d="M331.5,492.0 L332.8,480.0 L334.1,468.0 L335.4,455.9 L336.7,443.9"/><path d="M349.5,493.8 L350.7,482.0 L351.9,470.1 L353.1,458.3 L354.3,446.4 L355.5,434.6 L356.7,422.7"/><path d="M263.2,456.8 L264.6,445.8 L266.1,434.7 L267.6,423.7 L269.0,412.6"/><path d="M321.9,390.6 L329.4,391.5 L336.9,392.3 L344.4,393.1 L352.0,393.9 L359.5,394.6"/><path d="M234.4,522.4 L242.1,523.5 L249.8,524.5 L257.6,525.5 L265.3,526.5 L273.0,527.5 L280.8,528.5 L288.5,529.4 L296.2,530.3 L304.0,531.2 L311.7,532.1 L319.5,532.9"/><path d="M274.3,561.4 L275.6,550.8 L276.9,540.1 L278.3,529.4 L279.6,518.7 L280.9,508.0 L282.2,497.2 L283.6,486.5"/><path d="M299.7,530.7 L300.9,520.3 L302.1,509.9 L303.3,499.4 L304.5,489.0"/><path d="M315.8,566.2 L317.0,555.5 L318.2,544.8 L319.3,534.1 L320.5,523.4 L321.7,512.7 L322.8,501.9 L324.0,491.2"/><path d="M342.0,568.9 L343.1,558.2 L344.1,547.5 L345.2,536.8 L346.3,526.1 L347.4,515.3 L348.5,504.6 L349.5,493.8"/><path d="M385.2,572.9 L386.1,562.2 L387.0,551.4 L387.9,540.7 L388.8,530.0 L389.7,519.2 L390.7,508.5 L391.6,497.7"/><path d="M229.7,555.6 L237.4,556.7 L245.1,557.7 L252.8,558.7 L260.4,559.7 L268.1,560.7 L275.8,561.6 L283.5,562.6 L291.2,563.5 L298.9,564.3 L306.6,565.2 L314.3,566.1 L322.0,566.9 L329.7,567.7 L337.4,568.5 L345.1,569.2 L352.8,570.0 L360.5,570.7 L368.2,571.4 L375.9,572.1 L383.6,572.8 L391.3,573.4 L399.1,574.0 L406.8,574.6 L414.5,575.2"/><path d="M243.3,582.8 L251.3,583.9 L259.4,584.9 L267.4,585.9 L275.5,586.9 L283.5,587.8 L291.6,588.8 L299.6,589.7 L307.7,590.6 L315.7,591.5 L323.8,592.3 L331.9,593.2 L339.9,594.0 L348.0,594.8 L356.1,595.5 L364.1,596.3 L372.2,597.0 L380.3,597.7 L388.4,598.4 L396.4,599.0 L404.5,599.6 L412.6,600.3"/><path d="M235.6,640.7 L243.7,641.8 L251.9,642.9 L260.2,643.9 L268.4,644.9 L276.6,645.9 L284.8,646.8 L293.0,647.8 L301.2,648.7 L309.4,649.6 L317.6,650.4 L325.9,651.3 L334.1,652.1 L342.3,652.9 L350.6,653.7 L358.8,654.5 L367.0,655.2 L375.3,655.9 L383.5,656.6 L391.7,657.3 L400.0,657.9 L408.2,658.5"/><path d="M257.2,672.9 L265.5,673.9 L273.8,674.9 L282.0,675.9 L290.3,676.8 L298.6,677.7 L306.9,678.6 L315.2,679.5 L323.5,680.3 L331.7,681.2 L340.0,682.0 L348.3,682.8"/><path d="M235.6,640.7 L236.9,630.4 L238.3,620.1 L239.7,609.7 L241.1,599.4 L242.5,589.0 L243.9,578.7 L245.2,568.3 L246.6,557.9"/><path d="M255.7,685.3 L257.0,674.3 L258.4,663.3 L259.8,652.2 L261.2,641.2 L262.6,630.2 L263.9,619.1 L265.3,608.1 L266.7,597.0 L268.1,586.0"/><path d="M269.6,704.5 L271.0,692.8 L272.4,681.1 L273.8,669.4 L275.2,657.6 L276.6,645.9"/><path d="M299.7,698.7 L300.9,687.7 L302.1,676.7 L303.3,665.7 L304.5,654.6 L305.7,643.6 L307.0,632.5 L308.2,621.5 L309.4,610.4 L310.6,599.3 L311.8,588.2 L313.0,577.2 L314.3,566.1"/><path d="M331.9,702.1 L332.9,691.3 L334.0,680.6 L335.1,669.8 L336.2,659.0 L337.2,648.2 L338.3,637.4 L339.4,626.6 L340.4,615.8 L341.5,605.0 L342.6,594.2"/><path d="M346.4,703.5 L347.4,692.4 L348.5,681.4 L349.5,670.3 L350.6,659.3 L351.6,648.2 L352.7,637.1 L353.7,626.1 L354.7,615.0 L355.8,603.9 L356.8,592.8 L357.9,581.7 L358.9,570.6"/><path d="M381.9,706.6 L382.8,695.8 L383.7,685.0 L384.5,674.2 L385.4,663.4 L386.3,652.6 L387.2,641.8 L388.1,631.0 L389.0,620.2 L389.9,609.4 L390.8,598.6"/><path d="M239.6,683.2 L247.6,684.3 L255.7,685.3"/><path d="M98.9,534.6 L100.9,524.0 L102.9,513.4 L104.8,502.8 L106.8,492.2 L108.8,481.6 L110.8,471.0 L112.7,460.4"/><path d="M171.8,585.2 L173.6,574.0 L175.3,562.9 L177.1,551.7 L178.8,540.5 L180.6,529.4 L182.4,518.2 L184.2,507.0 L185.9,495.8 L187.7,484.6 L189.5,473.4"/><path d="M191.3,613.5 L192.9,603.0 L194.5,592.5 L196.0,582.0 L197.6,571.5 L199.2,561.0 L200.8,550.5 L202.3,540.0 L203.9,529.5 L205.5,519.0 L207.1,508.4 L208.7,497.9 L210.2,487.4 L211.8,476.8"/><path d="M98.9,534.6 L107.2,536.1 L115.5,537.6 L123.8,539.1 L132.0,540.5 L140.3,541.9 L148.6,543.3"/><path d="M59.0,565.4 L67.1,566.9 L75.1,568.4 L83.1,570.0 L91.2,571.5 L99.2,572.9 L107.3,574.4 L115.3,575.8 L123.4,577.2 L131.4,578.6 L139.5,579.9 L147.6,581.3 L155.6,582.6 L163.7,583.9 L171.8,585.2"/><path d="M45.5,601.0 L53.4,602.5 L61.3,604.1 L69.3,605.6 L77.2,607.1 L85.1,608.5"/><path d="M78.3,645.4 L80.3,634.4 L82.4,623.3 L84.4,612.2 L86.5,601.2 L88.6,590.1 L90.6,579.0 L92.7,567.9 L94.8,556.8 L96.8,545.7 L98.9,534.6"/><path d="M114.0,651.8 L116.3,638.8 L118.6,625.8 L120.8,612.8"/><path d="M120.8,612.8 L130.2,614.4 L139.6,615.9 L149.0,617.5 L158.4,619.0"/><path d="M78.3,645.4 L86.5,646.9 L94.8,648.4 L103.1,649.9 L111.4,651.3 L119.7,652.7 L128.0,654.1 L136.3,655.5 L144.6,656.9 L153.0,658.2 L161.3,659.5 L169.6,660.8"/><path d="M129.6,675.5 L131.4,665.2 L133.1,655.0"/><path d="M162.2,708.8 L163.8,697.9 L165.5,687.1 L167.2,676.2 L168.9,665.3 L170.6,654.4 L172.3,643.5 L174.0,632.6 L175.7,621.7"/><path d="M196.8,685.8 L198.5,674.2 L200.2,662.5 L201.9,650.8 L203.6,639.1 L205.3,627.5 L207.0,615.8"/><path d="M166.4,681.3 L175.4,682.7 L184.3,684.0 L193.3,685.3 L202.3,686.6 L211.3,687.8"/><path d="M167.9,609.9 L176.7,611.3 L185.6,612.6 L194.5,613.9 L203.3,615.2 L212.2,616.5 L221.1,617.7"/><path d="M158.4,619.0 L160.3,607.3 L162.2,595.6 L164.0,584.0"/></g><path d="M131.9,249.6 L139.3,251.0 L146.8,252.4 L154.2,253.8 L161.7,255.1 L169.2,256.5 L176.7,257.8 L184.1,259.1 L191.6,260.4 L199.1,261.6 L206.6,262.8 L214.1,264.0 L215.8,253.6 L217.5,243.2 L219.1,232.8 L220.8,222.4 L222.5,211.9 L224.2,201.5 L225.9,191.1 L227.6,180.7 L229.2,170.2 L230.9,159.8 L232.6,149.4 L234.3,139.0 L240.8,140.0 L247.4,141.1 L254.0,142.1 L260.6,143.0 L267.1,144.0 L273.7,145.0 L280.3,145.9 L286.9,146.8 L293.5,147.7 L300.0,148.6 L306.6,149.5 L313.2,150.3 L319.8,151.1 L326.4,151.9 L333.0,152.7 L339.6,153.5 L346.2,154.3 L352.8,155.0 L359.4,155.8 L366.0,156.5 L372.6,157.2 L379.3,157.8 L385.9,158.5 L392.5,159.1 L399.1,159.7 L405.7,160.4 L412.3,160.9 L419.0,161.5 L418.1,172.0 L417.2,182.5 L416.3,193.0 L415.4,203.6 L414.4,214.1 L413.5,224.6 L412.6,235.1 L411.7,245.6 L410.8,256.1 L409.9,266.7 L409.0,277.2 L408.1,287.7 L407.2,298.2 L406.3,308.7 L405.4,319.2 L404.5,329.7 L411.6,330.3 L418.6,330.9 L425.7,331.5 L432.8,332.0 L439.9,332.5 L446.9,333.0 L454.0,333.5 L461.1,333.9 L460.4,344.5 L459.8,355.0 L459.1,365.5 L458.5,376.0 L457.8,386.6 L457.1,397.1 L456.5,407.6 L455.8,418.1 L455.2,428.6 L454.5,439.1 L453.8,449.6 L453.2,460.1 L452.5,470.6 L451.9,481.1 L451.2,491.6 L450.6,502.1 L440.9,501.4 L431.3,500.8 L421.7,500.1 L420.8,510.5 L419.9,521.0 L419.0,531.4 L418.2,541.9 L417.3,552.3 L416.4,562.8 L415.5,573.2 L414.7,583.6 L413.8,594.1 L412.9,604.5 L412.0,614.9 L411.2,625.3 L410.3,635.7 L409.4,646.1 L408.5,656.5 L407.7,666.8 L406.8,677.2 L405.9,687.6 L405.0,697.9 L404.2,708.3 L395.9,707.7 L387.7,707.0 L379.5,706.4 L371.3,705.7 L363.1,705.0 L354.9,704.2 L346.7,703.5 L338.5,702.7 L330.3,701.9 L322.1,701.1 L313.9,700.3 L305.7,699.4 L297.5,698.5 L289.4,697.6 L291.2,707.0 L282.2,706.0 L273.2,704.9 L264.1,703.9 L255.1,702.8 L246.1,701.7 L237.1,700.5 L234.6,719.0 L226.2,717.9 L217.8,716.8 L209.4,715.7 L201.0,714.5 L192.5,713.3 L184.1,712.1 L175.7,710.9 L167.3,709.6 L158.9,708.3 L150.5,707.0 L142.1,705.7 L134.1,700.9 L126.0,696.1 L118.0,691.3 L110.0,686.4 L102.1,681.6 L94.1,676.7 L86.2,671.8 L78.3,666.8 L70.4,661.9 L62.6,656.9 L54.8,651.9 L47.0,646.9 L39.2,641.9 L31.4,636.8 L32.0,635.8 L35.2,628.6 L41.6,617.4 L40.8,603.1 L45.6,598.3 L52.0,582.3 L54.4,575.9 L60.0,571.0 L63.0,563.0 L59.2,555.0 L60.0,543.9 L58.4,532.7 L61.5,520.0 L62.3,503.6 L63.8,491.3 L67.6,489.0 L74.5,490.6 L78.4,495.2 L85.3,489.0 L85.0,489.3 L87.0,479.0 L89.1,468.6 L91.1,458.2 L93.1,447.8 L95.2,437.4 L97.2,427.0 L99.2,416.6 L101.3,406.1 L103.3,395.7 L105.3,385.3 L107.4,374.9 L109.4,364.5 L111.5,354.0 L113.5,343.6 L115.5,333.2 L117.6,322.7 L119.6,312.3 L121.7,301.8 L123.7,291.4 L125.7,280.9 L127.8,270.5 L129.8,260.1 L131.9,249.6Z" fill="none" stroke="#2a3a1a" stroke-width="0.9" stroke-opacity="0.7"/><g class="cl"><text x="314.9" y="348.1">Routt</text><text x="336.5" y="364.3">Grand</text><text x="282.4" y="363.0">Rio Blanco</text><text x="283.8" y="380.5">Garfield</text><text x="317.6" y="381.9">Eagle</text><text x="264.9" y="402.2">Mesa</text><text x="282.4" y="410.3">Delta</text><text x="347.3" y="407.6">Park</text><text x="366.2" y="413.0">Teller</text><text x="379.7" y="422.4">El Paso</text><text x="397.3" y="403.5">Lincoln</text><text x="439.2" y="407.6">Kit Carson</text><text x="436.5" y="427.8">Cheyenne</text><text x="436.5" y="444.1">Kiowa</text><text x="405.4" y="446.8">Crowley</text><text x="347.3" y="421.1">Chaffee</text><text x="350.0" y="434.6">Fremont</text><text x="270.3" y="427.8">Montrose</text><text x="263.5" y="442.7">San Miguel</text><text x="274.3" y="477.8">La Plata</text><text x="398.6" y="488.7">Las Animas</text><text x="435.1" y="491.4">Baca</text><text x="400.0" y="465.7">Otero</text><text x="418.9" y="465.7">Bent</text><text x="450.0" y="465.7">Prowers</text><text x="304.0" y="417.0">Gunnison</text><text x="310.8" y="445.4">Saguache</text><text x="358.1" y="467.0">Huerfano</text><text x="367.6" y="445.4">Pueblo</text><text x="337.8" y="479.2">Costilla</text><text x="325.7" y="469.7">Alamosa</text><text x="290.5" y="485.9">Archuleta</text><text x="344.6" y="388.7">Douglas</text><text x="368.9" y="395.4">Elbert</text><text x="425.7" y="383.2">Washington</text><text x="412.2" y="368.4">Morgan</text><text x="446.0" y="377.8">Yuma</text><text x="428.4" y="345.4">Logan</text><text x="378.4" y="352.2">Weld</text><text x="360.8" y="342.7">Larimer</text><text x="368.9" y="377.8">Adams</text><text x="371.6" y="387.3">Arapahoe</text><text x="282.8" y="335.7">Moffat</text><text x="333.7" y="340.0">Jackson</text><text x="446.7" y="337.2">Sedgwick</text><text x="452.3" y="355.5">Phillips</text><text x="280.0" y="434.3">Ouray</text><text x="297.0" y="457.3">Hinsdale</text><text x="243.2" y="473.2">Montezuma</text><text x="265.8" y="166.2">Park</text><text x="339.3" y="164.8">Sheridan</text><text x="311.0" y="178.9">Big Horn</text><text x="240.4" y="188.8">Teton</text><text x="373.2" y="191.6">Campbell</text><text x="404.3" y="178.9">Crook</text><text x="305.0" y="200.1">Washakie</text><text x="333.0" y="200.1">Johnson</text><text x="287.0" y="208.6">Hot Springs</text><text x="404.3" y="211.4">Weston</text><text x="291.3" y="232.6">Fremont</text><text x="336.5" y="242.5">Natrona</text><text x="376.0" y="245.3">Converse</text><text x="405.0" y="245.3">Niobrara</text><text x="243.2" y="239.7">Sublette</text><text x="268.7" y="290.5">Sweetwater</text><text x="330.8" y="293.4">Carbon</text><text x="388.0" y="284.9">Platte</text><text x="407.0" y="284.9">Goshen</text><text x="356.3" y="317.4">Albany</text><text x="387.3" y="318.8">Laramie</text><text x="226.3" y="296.2">Uinta</text><text x="155.6" y="276.4">Box Elder</text><text x="193.8" y="272.7">Cache</text><text x="206.5" y="282.1">Rich</text><text x="178.2" y="288.3">Weber</text><text x="176.0" y="296.3">Davis</text><text x="141.5" y="320.2">Tooele</text><text x="175.4" y="318.8">Salt Lake</text><text x="200.8" y="316.0">Summit</text><text x="248.9" y="320.2">Daggett</text><text x="179.6" y="341.4">Utah</text><text x="217.8" y="340.0">Duchesne</text><text x="243.2" y="351.3">Uintah</text><text x="148.6" y="352.7">Juab</text><text x="212.1" y="366.8">Carbon</text><text x="135.9" y="378.1">Millard</text><text x="200.8" y="392.3">Emery</text><text x="231.9" y="397.9">Grand</text><text x="121.7" y="406.4">Beaver</text><text x="195.2" y="420.5">Wayne</text><text x="104.8" y="450.6">Washington</text><text x="155.6" y="461.9">Kane</text><text x="220.6" y="456.2">San Juan</text><text x="79.3" y="515.5">Mohave</text><text x="141.5" y="519.8">Coconino</text><text x="257.4" y="507.1">San Juan</text><text x="305.4" y="512.7">Rio Arriba</text><text x="339.3" y="514.1">Taos</text><text x="367.6" y="515.5">Colfax</text><text x="401.5" y="524.0">Union</text><text x="189.5" y="545.2">Navajo</text><text x="257.4" y="545.2">McKinley</text><text x="356.3" y="538.2">Mora</text><text x="393.0" y="546.6">Harding</text><text x="118.9" y="566.4">Yavapai</text><text x="325.2" y="557.9">Santa Fe</text><text x="359.1" y="560.8">San Miguel</text><text x="263.0" y="573.5">Cibola</text><text x="296.9" y="573.5">Bernalillo</text><text x="398.6" y="580.5">Quay</text><text x="68.0" y="594.7">La Paz</text><text x="291.3" y="587.6">Valencia</text><text x="359.1" y="587.6">Guadalupe</text><text x="319.5" y="594.7">Torrance</text><text x="172.6" y="611.6">Gila</text><text x="240.4" y="614.4">Catron</text><text x="291.3" y="617.3">Socorro</text><text x="367.6" y="610.2">De Baca</text><text x="101.9" y="617.3">Maricopa</text><text x="330.8" y="632.8">Lincoln</text><text x="398.6" y="625.7">Roosevelt</text><text x="56.7" y="631.4">Yuma</text><text x="135.9" y="639.9">Pinal</text><text x="212.1" y="639.9">Greenlee</text><text x="186.7" y="648.3">Graham</text><text x="277.1" y="651.2">Sierra</text><text x="364.7" y="651.2">Chaves</text><text x="240.4" y="662.5">Grant</text><text x="127.4" y="671.0">Pima</text><text x="316.7" y="678.0">Otero</text><text x="395.8" y="678.0">Lea</text><text x="254.5" y="687.9">Luna</text><text x="282.8" y="685.1">Dona Ana</text><text x="361.9" y="687.9">Eddy</text><text x="186.7" y="693.6">Cochise</text><text x="217.8" y="696.4">Hidalgo</text><text x="152.8" y="700.6">Santa Cruz</text><text x="175.0" y="387.3">Sanpete</text><text x="165.0" y="407.3">Sevier</text><text x="160.0" y="420.3">Piute</text><text x="170.0" y="442.3">Garfield</text><text x="115.0" y="427.3">Iron</text></g>
<path d="M251.4,207.8 L258.3,211.9 L260.6,224.5 L267.5,236.0 L272.1,247.5 L276.7,261.4 L289.3,263.7 L300.8,261.4 L304.3,264.8 L312.3,266.0 L322.7,269.4 L322.7,282.1 L315.8,285.5 L312.3,293.6 L314.6,303.9 L319.3,310.8 L323.9,322.4 L328.5,328.1 L328.5,339.6 L328.0,347.0 L340.0,350.0 L346.1,350.9 L352.6,349.0 L354.8,361.7 L352.6,372.6 L346.1,385.7 L337.4,392.2 L326.5,394.3 L324.3,405.2 L327.6,416.1 L328.7,427.0 L326.5,435.7 L320.0,438.9 L313.5,448.7 L302.6,454.1 L295.0,462.8 L304.8,466.1 L311.3,474.8 L313.5,484.6 L308.0,492.2 L302.6,503.0 L299.5,514.7 L298.0,522.1 L292.9,527.3 L287.0,528.7 L281.1,533.2 L272.2,537.6 L270.7,541.3 L264.8,545.0 L251.6,541.3 L244.2,542.7 L238.3,537.6 L236.8,532.4 L241.3,527.3 L240.5,522.8 L224.3,526.5 L213.3,531.0 L208.8,525.1 L207.4,516.2 L213.3,507.4 L211.1,500.0 L206.8,500.8 L199.8,495.0 L194.1,488.1 L188.3,484.7 L178.0,492.7 L169.9,493.9 L163.0,488.1 L161.9,477.7 L152.7,477.7 L148.1,472.0 L148.1,460.5 L145.8,451.3 L151.5,442.1 L160.7,435.2 L165.3,424.8 L167.6,409.8 L174.5,398.3 L180.3,393.7 L183.7,373.0 L190.4,368.0 L192.7,354.6 L197.3,348.8 L196.1,339.6 L197.3,331.6 L203.0,328.1 L208.8,322.4 L216.8,314.3 L215.7,299.3 L214.5,287.8 L214.5,279.8 L223.7,272.9 L222.6,268.3 L221.4,259.0 L223.7,252.1 L226.0,247.5 L228.3,242.9 L231.8,233.7 L232.9,224.5 L243.3,219.9 L244.4,211.9Z" fill="none" stroke="#0c180c" stroke-width="1.5" stroke-linejoin="round" stroke-opacity="0.9"/>
<text x="608.3" y="174.8" class="tt">Intermountain West&#160;</text>
<text x="608.3" y="202.5" class="tt">July 2019 Precipitation</text>
<text x="510.4" y="403.0" class="lt">july19</text>
<text x="510.4" y="423.4" class="ls">Precip (inches)</text>
<rect x="510.4" y="433.0" width="31.6" height="14.6" fill="#c8503a" stroke="#8a8a8a" stroke-width="0.8"/>
<text x="547.6" y="444.3" class="ll">0.00</text>
<rect x="510.4" y="454.4" width="31.6" height="14.6" fill="#d8783a" stroke="#8a8a8a" stroke-width="0.8"/>
<text x="547.6" y="465.7" class="ll">0.01 - 0.10</text>
<rect x="510.4" y="475.7" width="31.6" height="14.6" fill="#e6a53c" stroke="#8a8a8a" stroke-width="0.8"/>
<text x="547.6" y="487.0" class="ll">0.11 - 0.25</text>
<rect x="510.4" y="497.1" width="31.6" height="14.6" fill="#f3d447" stroke="#8a8a8a" stroke-width="0.8"/>
<text x="547.6" y="508.4" class="ll">0.26 - 0.50</text>
<rect x="510.4" y="518.4" width="31.6" height="14.6" fill="#d9f04c" stroke="#8a8a8a" stroke-width="0.8"/>
<text x="547.6" y="529.7" class="ll">0.51 - 1.00</text>
<rect x="510.4" y="539.8" width="31.6" height="14.6" fill="#6fe142" stroke="#8a8a8a" stroke-width="0.8"/>
<text x="547.6" y="551.1" class="ll">1.00 - 2.00</text>
<rect x="510.4" y="561.2" width="31.6" height="14.6" fill="#4cb953" stroke="#8a8a8a" stroke-width="0.8"/>
<text x="547.6" y="572.5" class="ll">2.01 - 4.00</text>
<rect x="510.4" y="582.5" width="31.6" height="14.6" fill="#3c9c84" stroke="#8a8a8a" stroke-width="0.8"/>
<text x="547.6" y="593.8" class="ll">4.01 - 6.00</text>
<rect x="510.4" y="603.9" width="31.6" height="14.6" fill="#2e739c" stroke="#8a8a8a" stroke-width="0.8"/>
<text x="547.6" y="615.2" class="ll">6.01 - 8.00</text>
<rect x="510.4" y="625.2" width="31.6" height="14.6" fill="#172f88" stroke="#8a8a8a" stroke-width="0.8"/>
<text x="547.6" y="636.5" class="ll">8.01 - 8.50</text>
<rect x="511.0" y="647.2" width="30.6" height="14" fill="#fff" stroke="#777" stroke-width="1.4"/>
<text x="547.6" y="657.9" class="ll">Upper Colorado River Basin</text>
<text x="510.4" y="679.5" class="lc">Data from PRISM Climate Group</text>
</g><g transform="translate(0,632.5)">
<g clip-path="url(#clip)"><g filter="url(#bl)"><rect x="30" y="135" width="20" height="20" fill="#e2f54c"/><rect x="50" y="135" width="20" height="20" fill="#e2f54c"/><rect x="70" y="135" width="20" height="20" fill="#e2f54c"/><rect x="90" y="135" width="20" height="20" fill="#e2f54c"/><rect x="110" y="135" width="20" height="20" fill="#e2f54c"/><rect x="130" y="135" width="20" height="20" fill="#e2f54c"/><rect x="150" y="135" width="20" height="20" fill="#e2f54c"/><rect x="170" y="135" width="20" height="20" fill="#e2f54c"/><rect x="190" y="135" width="20" height="20" fill="#e2f54c"/><rect x="210" y="135" width="20" height="20" fill="#e2f54c"/><rect x="230" y="135" width="20" height="20" fill="#e2f54c"/><rect x="250" y="135" width="20" height="20" fill="#a3ec48"/><rect x="270" y="135" width="20" height="20" fill="#5fdc42"/><rect x="290" y="135" width="20" height="20" fill="#33829b"/><rect x="310" y="135" width="20" height="20" fill="#e2f54c"/><rect x="330" y="135" width="20" height="20" fill="#42a77e"/><rect x="350" y="135" width="20" height="20" fill="#33829b"/><rect x="370" y="135" width="20" height="20" fill="#33829b"/><rect x="390" y="135" width="20" height="20" fill="#33829b"/><rect x="410" y="135" width="20" height="20" fill="#33829b"/><rect x="430" y="135" width="20" height="20" fill="#33829b"/><rect x="450" y="135" width="20" height="20" fill="#33829b"/><rect x="30" y="155" width="20" height="20" fill="#e6a83c"/><rect x="50" y="155" width="20" height="20" fill="#e6a83c"/><rect x="70" y="155" width="20" height="20" fill="#e6a83c"/><rect x="90" y="155" width="20" height="20" fill="#e6a83c"/><rect x="110" y="155" width="20" height="20" fill="#e6a83c"/><rect x="130" y="155" width="20" height="20" fill="#e6a83c"/><rect x="150" y="155" width="20" height="20" fill="#e2f54c"/><rect x="170" y="155" width="20" height="20" fill="#e2f54c"/><rect x="190" y="155" width="20" height="20" fill="#e2f54c"/><rect x="210" y="155" width="20" height="20" fill="#e2f54c"/><rect x="230" y="155" width="20" height="20" fill="#e2f54c"/><rect x="250" y="155" width="20" height="20" fill="#a3ec48"/><rect x="270" y="155" width="20" height="20" fill="#5fdc42"/><rect x="290" y="155" width="20" height="20" fill="#42a77e"/><rect x="310" y="155" width="20" height="20" fill="#e2f54c"/><rect x="330" y="155" width="20" height="20" fill="#42a77e"/><rect x="350" y="155" width="20" height="20" fill="#33829b"/><rect x="370" y="155" width="20" height="20" fill="#33829b"/><rect x="390" y="155" width="20" height="20" fill="#33829b"/><rect x="410" y="155" width="20" height="20" fill="#33829b"/><rect x="430" y="155" width="20" height="20" fill="#33829b"/><rect x="450" y="155" width="20" height="20" fill="#33829b"/><rect x="30" y="175" width="20" height="20" fill="#e6a83c"/><rect x="50" y="175" width="20" height="20" fill="#e6a83c"/><rect x="70" y="175" width="20" height="20" fill="#e6a83c"/><rect x="90" y="175" width="20" height="20" fill="#e6a83c"/><rect x="110" y="175" width="20" height="20" fill="#e6a83c"/><rect x="130" y="175" width="20" height="20" fill="#e6a83c"/><rect x="150" y="175" width="20" height="20" fill="#f5dc44"/><rect x="170" y="175" width="20" height="20" fill="#e2f54c"/><rect x="190" y="175" width="20" height="20" fill="#e2f54c"/><rect x="210" y="175" width="20" height="20" fill="#e2f54c"/><rect x="230" y="175" width="20" height="20" fill="#e2f54c"/><rect x="250" y="175" width="20" height="20" fill="#e2f54c"/><rect x="270" y="175" width="20" height="20" fill="#5fdc42"/><rect x="290" y="175" width="20" height="20" fill="#e2f54c"/><rect x="310" y="175" width="20" height="20" fill="#f5dc44"/><rect x="330" y="175" width="20" height="20" fill="#5fdc42"/><rect x="350" y="175" width="20" height="20" fill="#42a77e"/><rect x="370" y="175" width="20" height="20" fill="#245591"/><rect x="390" y="175" width="20" height="20" fill="#33829b"/><rect x="410" y="175" width="20" height="20" fill="#33829b"/><rect x="430" y="175" width="20" height="20" fill="#33829b"/><rect x="450" y="175" width="20" height="20" fill="#33829b"/><rect x="30" y="195" width="20" height="20" fill="#e6a83c"/><rect x="50" y="195" width="20" height="20" fill="#e6a83c"/><rect x="70" y="195" width="20" height="20" fill="#e6a83c"/><rect x="90" y="195" width="20" height="20" fill="#e6a83c"/><rect x="110" y="195" width="20" height="20" fill="#e6a83c"/><rect x="130" y="195" width="20" height="20" fill="#e6a83c"/><rect x="150" y="195" width="20" height="20" fill="#f5dc44"/><rect x="170" y="195" width="20" height="20" fill="#e2f54c"/><rect x="190" y="195" width="20" height="20" fill="#e2f54c"/><rect x="210" y="195" width="20" height="20" fill="#e2f54c"/><rect x="230" y="195" width="20" height="20" fill="#a3ec48"/><rect x="250" y="195" width="20" height="20" fill="#e2f54c"/><rect x="270" y="195" width="20" height="20" fill="#e2f54c"/><rect x="290" y="195" width="20" height="20" fill="#f5dc44"/><rect x="310" y="195" width="20" height="20" fill="#f5dc44"/><rect x="330" y="195" width="20" height="20" fill="#5fdc42"/><rect x="350" y="195" width="20" height="20" fill="#245591"/><rect x="370" y="195" width="20" height="20" fill="#162c86"/><rect x="390" y="195" width="20" height="20" fill="#245591"/><rect x="410" y="195" width="20" height="20" fill="#33829b"/><rect x="430" y="195" width="20" height="20" fill="#33829b"/><rect x="450" y="195" width="20" height="20" fill="#33829b"/><rect x="30" y="215" width="20" height="20" fill="#e6a83c"/><rect x="50" y="215" width="20" height="20" fill="#e6a83c"/><rect x="70" y="215" width="20" height="20" fill="#e6a83c"/><rect x="90" y="215" width="20" height="20" fill="#e6a83c"/><rect x="110" y="215" width="20" height="20" fill="#e6a83c"/><rect x="130" y="215" width="20" height="20" fill="#e6a83c"/><rect x="150" y="215" width="20" height="20" fill="#f5dc44"/><rect x="170" y="215" width="20" height="20" fill="#e2f54c"/><rect x="190" y="215" width="20" height="20" fill="#f5dc44"/><rect x="210" y="215" width="20" height="20" fill="#f5dc44"/><rect x="230" y="215" width="20" height="20" fill="#f5dc44"/><rect x="250" y="215" width="20" height="20" fill="#e6a83c"/><rect x="270" y="215" width="20" height="20" fill="#f5dc44"/><rect x="290" y="215" width="20" height="20" fill="#e6a83c"/><rect x="310" y="215" width="20" height="20" fill="#f5dc44"/><rect x="330" y="215" width="20" height="20" fill="#e2f54c"/><rect x="350" y="215" width="20" height="20" fill="#5fdc42"/><rect x="370" y="215" width="20" height="20" fill="#245591"/><rect x="390" y="215" width="20" height="20" fill="#42a77e"/><rect x="410" y="215" width="20" height="20" fill="#42a77e"/><rect x="430" y="215" width="20" height="20" fill="#42a77e"/><rect x="450" y="215" width="20" height="20" fill="#42a77e"/><rect x="30" y="235" width="20" height="20" fill="#e6a83c"/><rect x="50" y="235" width="20" height="20" fill="#e6a83c"/><rect x="70" y="235" width="20" height="20" fill="#e6a83c"/><rect x="90" y="235" width="20" height="20" fill="#e6a83c"/><rect x="110" y="235" width="20" height="20" fill="#e6a83c"/><rect x="130" y="235" width="20" height="20" fill="#e6a83c"/><rect x="150" y="235" width="20" height="20" fill="#f5dc44"/><rect x="170" y="235" width="20" height="20" fill="#e2f54c"/><rect x="190" y="235" width="20" height="20" fill="#e2f54c"/><rect x="210" y="235" width="20" height="20" fill="#e6a83c"/><rect x="230" y="235" width="20" height="20" fill="#e6a83c"/><rect x="250" y="235" width="20" height="20" fill="#f5dc44"/><rect x="270" y="235" width="20" height="20" fill="#f5dc44"/><rect x="290" y="235" width="20" height="20" fill="#e6a83c"/><rect x="310" y="235" width="20" height="20" fill="#e2f54c"/><rect x="330" y="235" width="20" height="20" fill="#5fdc42"/><rect x="350" y="235" width="20" height="20" fill="#e2f54c"/><rect x="370" y="235" width="20" height="20" fill="#e2f54c"/><rect x="390" y="235" width="20" height="20" fill="#42a77e"/><rect x="410" y="235" width="20" height="20" fill="#5fdc42"/><rect x="430" y="235" width="20" height="20" fill="#5fdc42"/><rect x="450" y="235" width="20" height="20" fill="#5fdc42"/><rect x="30" y="255" width="20" height="20" fill="#f5dc44"/><rect x="50" y="255" width="20" height="20" fill="#f5dc44"/><rect x="70" y="255" width="20" height="20" fill="#f5dc44"/><rect x="90" y="255" width="20" height="20" fill="#f5dc44"/><rect x="110" y="255" width="20" height="20" fill="#f5dc44"/><rect x="130" y="255" width="20" height="20" fill="#f5dc44"/><rect x="150" y="255" width="20" height="20" fill="#e2f54c"/><rect x="170" y="255" width="20" height="20" fill="#5fdc42"/><rect x="190" y="255" width="20" height="20" fill="#e6a83c"/><rect x="210" y="255" width="20" height="20" fill="#f5dc44"/><rect x="230" y="255" width="20" height="20" fill="#d8753a"/><rect x="250" y="255" width="20" height="20" fill="#e6a83c"/><rect x="270" y="255" width="20" height="20" fill="#e6a83c"/><rect x="290" y="255" width="20" height="20" fill="#e6a83c"/><rect x="310" y="255" width="20" height="20" fill="#e2f54c"/><rect x="330" y="255" width="20" height="20" fill="#5fdc42"/><rect x="350" y="255" width="20" height="20" fill="#a3ec48"/><rect x="370" y="255" width="20" height="20" fill="#5fdc42"/><rect x="390" y="255" width="20" height="20" fill="#42a77e"/><rect x="410" y="255" width="20" height="20" fill="#5fdc42"/><rect x="430" y="255" width="20" height="20" fill="#5fdc42"/><rect x="450" y="255" width="20" height="20" fill="#5fdc42"/><rect x="30" y="275" width="20" height="20" fill="#e6a83c"/><rect x="50" y="275" width="20" height="20" fill="#e6a83c"/><rect x="70" y="275" width="20" height="20" fill="#e6a83c"/><rect x="90" y="275" width="20" height="20" fill="#e6a83c"/><rect x="110" y="275" width="20" height="20" fill="#e6a83c"/><rect x="130" y="275" width="20" height="20" fill="#f5dc44"/><rect x="150" y="275" width="20" height="20" fill="#e2f54c"/><rect x="170" y="275" width="20" height="20" fill="#e6a83c"/><rect x="190" y="275" width="20" height="20" fill="#e6a83c"/><rect x="210" y="275" width="20" height="20" fill="#e6a83c"/><rect x="230" y="275" width="20" height="20" fill="#d8753a"/><rect x="250" y="275" width="20" height="20" fill="#e6a83c"/><rect x="270" y="275" width="20" height="20" fill="#e6a83c"/><rect x="290" y="275" width="20" height="20" fill="#e6a83c"/><rect x="310" y="275" width="20" height="20" fill="#e2f54c"/><rect x="330" y="275" width="20" height="20" fill="#33829b"/><rect x="350" y="275" width="20" height="20" fill="#5fdc42"/><rect x="370" y="275" width="20" height="20" fill="#42a77e"/><rect x="390" y="275" width="20" height="20" fill="#33829b"/><rect x="410" y="275" width="20" height="20" fill="#33829b"/><rect x="430" y="275" width="20" height="20" fill="#33829b"/><rect x="450" y="275" width="20" height="20" fill="#33829b"/><rect x="30" y="295" width="20" height="20" fill="#f5dc44"/><rect x="50" y="295" width="20" height="20" fill="#f5dc44"/><rect x="70" y="295" width="20" height="20" fill="#f5dc44"/><rect x="90" y="295" width="20" height="20" fill="#f5dc44"/><rect x="110" y="295" width="20" height="20" fill="#f5dc44"/><rect x="130" y="295" width="20" height="20" fill="#f5dc44"/><rect x="150" y="295" width="20" height="20" fill="#f5dc44"/><rect x="170" y="295" width="20" height="20" fill="#e6a83c"/><rect x="190" y="295" width="20" height="20" fill="#d8753a"/><rect x="210" y="295" width="20" height="20" fill="#e6a83c"/><rect x="230" y="295" width="20" height="20" fill="#e6a83c"/><rect x="250" y="295" width="20" height="20" fill="#e6a83c"/><rect x="270" y="295" width="20" height="20" fill="#e6a83c"/><rect x="290" y="295" width="20" height="20" fill="#e6a83c"/><rect x="310" y="295" width="20" height="20" fill="#e6a83c"/><rect x="330" y="295" width="20" height="20" fill="#42a77e"/><rect x="350" y="295" width="20" height="20" fill="#e2f54c"/><rect x="370" y="295" width="20" height="20" fill="#5fdc42"/><rect x="390" y="295" width="20" height="20" fill="#42a77e"/><rect x="410" y="295" width="20" height="20" fill="#42a77e"/><rect x="430" y="295" width="20" height="20" fill="#42a77e"/><rect x="450" y="295" width="20" height="20" fill="#5fdc42"/><rect x="30" y="315" width="20" height="20" fill="#a3ec48"/><rect x="50" y="315" width="20" height="20" fill="#a3ec48"/><rect x="70" y="315" width="20" height="20" fill="#a3ec48"/><rect x="90" y="315" width="20" height="20" fill="#a3ec48"/><rect x="110" y="315" width="20" height="20" fill="#a3ec48"/><rect x="130" y="315" width="20" height="20" fill="#e2f54c"/><rect x="150" y="315" width="20" height="20" fill="#f5dc44"/><rect x="170" y="315" width="20" height="20" fill="#d8753a"/><rect x="190" y="315" width="20" height="20" fill="#e6a83c"/><rect x="210" y="315" width="20" height="20" fill="#f5dc44"/><rect x="230" y="315" width="20" height="20" fill="#f5dc44"/><rect x="250" y="315" width="20" height="20" fill="#e6a83c"/><rect x="270" y="315" width="20" height="20" fill="#e6a83c"/><rect x="290" y="315" width="20" height="20" fill="#e6a83c"/><rect x="310" y="315" width="20" height="20" fill="#f5dc44"/><rect x="330" y="315" width="20" height="20" fill="#e2f54c"/><rect x="350" y="315" width="20" height="20" fill="#f5dc44"/><rect x="370" y="315" width="20" height="20" fill="#e2f54c"/><rect x="390" y="315" width="20" height="20" fill="#e2f54c"/><rect x="410" y="315" width="20" height="20" fill="#e2f54c"/><rect x="430" y="315" width="20" height="20" fill="#5fdc42"/><rect x="450" y="315" width="20" height="20" fill="#5fdc42"/><rect x="30" y="335" width="20" height="20" fill="#5fdc42"/><rect x="50" y="335" width="20" height="20" fill="#5fdc42"/><rect x="70" y="335" width="20" height="20" fill="#5fdc42"/><rect x="90" y="335" width="20" height="20" fill="#5fdc42"/><rect x="110" y="335" width="20" height="20" fill="#5fdc42"/><rect x="130" y="335" width="20" height="20" fill="#f5dc44"/><rect x="150" y="335" width="20" height="20" fill="#f5dc44"/><rect x="170" y="335" width="20" height="20" fill="#e2f54c"/><rect x="190" y="335" width="20" height="20" fill="#f5dc44"/><rect x="210" y="335" width="20" height="20" fill="#f5dc44"/><rect x="230" y="335" width="20" height="20" fill="#e6a83c"/><rect x="250" y="335" width="20" height="20" fill="#e6a83c"/><rect x="270" y="335" width="20" height="20" fill="#e6a83c"/><rect x="290" y="335" width="20" height="20" fill="#e6a83c"/><rect x="310" y="335" width="20" height="20" fill="#e6a83c"/><rect x="330" y="335" width="20" height="20" fill="#f5dc44"/><rect x="350" y="335" width="20" height="20" fill="#5fdc42"/><rect x="370" y="335" width="20" height="20" fill="#e2f54c"/><rect x="390" y="335" width="20" height="20" fill="#5fdc42"/><rect x="410" y="335" width="20" height="20" fill="#5fdc42"/><rect x="430" y="335" width="20" height="20" fill="#5fdc42"/><rect x="450" y="335" width="20" height="20" fill="#5fdc42"/><rect x="30" y="355" width="20" height="20" fill="#5fdc42"/><rect x="50" y="355" width="20" height="20" fill="#5fdc42"/><rect x="70" y="355" width="20" height="20" fill="#5fdc42"/><rect x="90" y="355" width="20" height="20" fill="#5fdc42"/><rect x="110" y="355" width="20" height="20" fill="#a3ec48"/><rect x="130" y="355" width="20" height="20" fill="#e6a83c"/><rect x="150" y="355" width="20" height="20" fill="#f5dc44"/><rect x="170" y="355" width="20" height="20" fill="#f5dc44"/><rect x="190" y="355" width="20" height="20" fill="#e6a83c"/><rect x="210" y="355" width="20" height="20" fill="#f5dc44"/><rect x="230" y="355" width="20" height="20" fill="#f5dc44"/><rect x="250" y="355" width="20" height="20" fill="#e6a83c"/><rect x="270" y="355" width="20" height="20" fill="#e6a83c"/><rect x="290" y="355" width="20" height="20" fill="#f5dc44"/><rect x="310" y="355" width="20" height="20" fill="#f5dc44"/><rect x="330" y="355" width="20" height="20" fill="#f5dc44"/><rect x="350" y="355" width="20" height="20" fill="#5fdc42"/><rect x="370" y="355" width="20" height="20" fill="#e2f54c"/><rect x="390" y="355" width="20" height="20" fill="#f5dc44"/><rect x="410" y="355" width="20" height="20" fill="#5fdc42"/><rect x="430" y="355" width="20" height="20" fill="#e2f54c"/><rect x="450" y="355" width="20" height="20" fill="#5fdc42"/><rect x="30" y="375" width="20" height="20" fill="#f5dc44"/><rect x="50" y="375" width="20" height="20" fill="#f5dc44"/><rect x="70" y="375" width="20" height="20" fill="#f5dc44"/><rect x="90" y="375" width="20" height="20" fill="#f5dc44"/><rect x="110" y="375" width="20" height="20" fill="#f5dc44"/><rect x="130" y="375" width="20" height="20" fill="#f5dc44"/><rect x="150" y="375" width="20" height="20" fill="#e2f54c"/><rect x="170" y="375" width="20" height="20" fill="#f5dc44"/><rect x="190" y="375" width="20" height="20" fill="#e6a83c"/><rect x="210" y="375" width="20" height="20" fill="#e6a83c"/><rect x="230" y="375" width="20" height="20" fill="#f5dc44"/><rect x="250" y="375" width="20" height="20" fill="#e2f54c"/><rect x="270" y="375" width="20" height="20" fill="#5fdc42"/><rect x="290" y="375" width="20" height="20" fill="#e2f54c"/><rect x="310" y="375" width="20" height="20" fill="#f5dc44"/><rect x="330" y="375" width="20" height="20" fill="#f5dc44"/><rect x="350" y="375" width="20" height="20" fill="#5fdc42"/><rect x="370" y="375" width="20" height="20" fill="#5fdc42"/><rect x="390" y="375" width="20" height="20" fill="#f5dc44"/><rect x="410" y="375" width="20" height="20" fill="#f5dc44"/><rect x="430" y="375" width="20" height="20" fill="#f5dc44"/><rect x="450" y="375" width="20" height="20" fill="#5fdc42"/><rect x="30" y="395" width="20" height="20" fill="#e6a83c"/><rect x="50" y="395" width="20" height="20" fill="#e6a83c"/><rect x="70" y="395" width="20" height="20" fill="#e6a83c"/><rect x="90" y="395" width="20" height="20" fill="#e6a83c"/><rect x="110" y="395" width="20" height="20" fill="#f5dc44"/><rect x="130" y="395" width="20" height="20" fill="#f5dc44"/><rect x="150" y="395" width="20" height="20" fill="#e2f54c"/><rect x="170" y="395" width="20" height="20" fill="#f5dc44"/><rect x="190" y="395" width="20" height="20" fill="#5fdc42"/><rect x="210" y="395" width="20" height="20" fill="#e6a83c"/><rect x="230" y="395" width="20" height="20" fill="#e6a83c"/><rect x="250" y="395" width="20" height="20" fill="#f5dc44"/><rect x="270" y="395" width="20" height="20" fill="#5fdc42"/><rect x="290" y="395" width="20" height="20" fill="#e6a83c"/><rect x="310" y="395" width="20" height="20" fill="#e6a83c"/><rect x="330" y="395" width="20" height="20" fill="#f5dc44"/><rect x="350" y="395" width="20" height="20" fill="#e2f54c"/><rect x="370" y="395" width="20" height="20" fill="#5fdc42"/><rect x="390" y="395" width="20" height="20" fill="#f5dc44"/><rect x="410" y="395" width="20" height="20" fill="#e6a83c"/><rect x="430" y="395" width="20" height="20" fill="#f5dc44"/><rect x="450" y="395" width="20" height="20" fill="#f5dc44"/><rect x="30" y="415" width="20" height="20" fill="#e6a83c"/><rect x="50" y="415" width="20" height="20" fill="#e6a83c"/><rect x="70" y="415" width="20" height="20" fill="#e6a83c"/><rect x="90" y="415" width="20" height="20" fill="#e6a83c"/><rect x="110" y="415" width="20" height="20" fill="#f5dc44"/><rect x="130" y="415" width="20" height="20" fill="#f5dc44"/><rect x="150" y="415" width="20" height="20" fill="#e2f54c"/><rect x="170" y="415" width="20" height="20" fill="#5fdc42"/><rect x="190" y="415" width="20" height="20" fill="#42a77e"/><rect x="210" y="415" width="20" height="20" fill="#f5dc44"/><rect x="230" y="415" width="20" height="20" fill="#e2f54c"/><rect x="250" y="415" width="20" height="20" fill="#e2f54c"/><rect x="270" y="415" width="20" height="20" fill="#5fdc42"/><rect x="290" y="415" width="20" height="20" fill="#f5dc44"/><rect x="310" y="415" width="20" height="20" fill="#f5dc44"/><rect x="330" y="415" width="20" height="20" fill="#f5dc44"/><rect x="350" y="415" width="20" height="20" fill="#5fdc42"/><rect x="370" y="415" width="20" height="20" fill="#5fdc42"/><rect x="390" y="415" width="20" height="20" fill="#f5dc44"/><rect x="410" y="415" width="20" height="20" fill="#f5dc44"/><rect x="430" y="415" width="20" height="20" fill="#5fdc42"/><rect x="450" y="415" width="20" height="20" fill="#5fdc42"/><rect x="30" y="435" width="20" height="20" fill="#e6a83c"/><rect x="50" y="435" width="20" height="20" fill="#e6a83c"/><rect x="70" y="435" width="20" height="20" fill="#e6a83c"/><rect x="90" y="435" width="20" height="20" fill="#e6a83c"/><rect x="110" y="435" width="20" height="20" fill="#e6a83c"/><rect x="130" y="435" width="20" height="20" fill="#f5dc44"/><rect x="150" y="435" width="20" height="20" fill="#e2f54c"/><rect x="170" y="435" width="20" height="20" fill="#e2f54c"/><rect x="190" y="435" width="20" height="20" fill="#5fdc42"/><rect x="210" y="435" width="20" height="20" fill="#f5dc44"/><rect x="230" y="435" width="20" height="20" fill="#f5dc44"/><rect x="250" y="435" width="20" height="20" fill="#f5dc44"/><rect x="270" y="435" width="20" height="20" fill="#f5dc44"/><rect x="290" y="435" width="20" height="20" fill="#f5dc44"/><rect x="310" y="435" width="20" height="20" fill="#f5dc44"/><rect x="330" y="435" width="20" height="20" fill="#e2f54c"/><rect x="350" y="435" width="20" height="20" fill="#5fdc42"/><rect x="370" y="435" width="20" height="20" fill="#42a77e"/><rect x="390" y="435" width="20" height="20" fill="#e2f54c"/><rect x="410" y="435" width="20" height="20" fill="#5fdc42"/><rect x="430" y="435" width="20" height="20" fill="#5fdc42"/><rect x="450" y="435" width="20" height="20" fill="#e2f54c"/><rect x="30" y="455" width="20" height="20" fill="#d8753a"/><rect x="50" y="455" width="20" height="20" fill="#d8753a"/><rect x="70" y="455" width="20" height="20" fill="#d8753a"/><rect x="90" y="455" width="20" height="20" fill="#d8753a"/><rect x="110" y="455" width="20" height="20" fill="#e6a83c"/><rect x="130" y="455" width="20" height="20" fill="#f5dc44"/><rect x="150" y="455" width="20" height="20" fill="#f5dc44"/><rect x="170" y="455" width="20" height="20" fill="#f5dc44"/><rect x="190" y="455" width="20" height="20" fill="#e6a83c"/><rect x="210" y="455" width="20" height="20" fill="#e6a83c"/><rect x="230" y="455" width="20" height="20" fill="#d8753a"/><rect x="250" y="455" width="20" height="20" fill="#e6a83c"/><rect x="270" y="455" width="20" height="20" fill="#e6a83c"/><rect x="290" y="455" width="20" height="20" fill="#f5dc44"/><rect x="310" y="455" width="20" height="20" fill="#a3ec48"/><rect x="330" y="455" width="20" height="20" fill="#f5dc44"/><rect x="350" y="455" width="20" height="20" fill="#e2f54c"/><rect x="370" y="455" width="20" height="20" fill="#5fdc42"/><rect x="390" y="455" width="20" height="20" fill="#5fdc42"/><rect x="410" y="455" width="20" height="20" fill="#e6a83c"/><rect x="430" y="455" width="20" height="20" fill="#f5dc44"/><rect x="450" y="455" width="20" height="20" fill="#f5dc44"/><rect x="30" y="475" width="20" height="20" fill="#d8753a"/><rect x="50" y="475" width="20" height="20" fill="#d8753a"/><rect x="70" y="475" width="20" height="20" fill="#d8753a"/><rect x="90" y="475" width="20" height="20" fill="#e6a83c"/><rect x="110" y="475" width="20" height="20" fill="#f5dc44"/><rect x="130" y="475" width="20" height="20" fill="#e6a83c"/><rect x="150" y="475" width="20" height="20" fill="#f5dc44"/><rect x="170" y="475" width="20" height="20" fill="#f5dc44"/><rect x="190" y="475" width="20" height="20" fill="#e6a83c"/><rect x="210" y="475" width="20" height="20" fill="#e6a83c"/><rect x="230" y="475" width="20" height="20" fill="#e6a83c"/><rect x="250" y="475" width="20" height="20" fill="#e6a83c"/><rect x="270" y="475" width="20" height="20" fill="#f5dc44"/><rect x="290" y="475" width="20" height="20" fill="#e6a83c"/><rect x="310" y="475" width="20" height="20" fill="#f5dc44"/><rect x="330" y="475" width="20" height="20" fill="#f5dc44"/><rect x="350" y="475" width="20" height="20" fill="#e2f54c"/><rect x="370" y="475" width="20" height="20" fill="#33829b"/><rect x="390" y="475" width="20" height="20" fill="#e2f54c"/><rect x="410" y="475" width="20" height="20" fill="#f5dc44"/><rect x="430" y="475" width="20" height="20" fill="#e6a83c"/><rect x="450" y="475" width="20" height="20" fill="#f5dc44"/><rect x="30" y="495" width="20" height="20" fill="#d8753a"/><rect x="50" y="495" width="20" height="20" fill="#d8753a"/><rect x="70" y="495" width="20" height="20" fill="#d8753a"/><rect x="90" y="495" width="20" height="20" fill="#e6a83c"/><rect x="110" y="495" width="20" height="20" fill="#e6a83c"/><rect x="130" y="495" width="20" height="20" fill="#f5dc44"/><rect x="150" y="495" width="20" height="20" fill="#f5dc44"/><rect x="170" y="495" width="20" height="20" fill="#e6a83c"/><rect x="190" y="495" width="20" height="20" fill="#e6a83c"/><rect x="210" y="495" width="20" height="20" fill="#e6a83c"/><rect x="230" y="495" width="20" height="20" fill="#e6a83c"/><rect x="250" y="495" width="20" height="20" fill="#e6a83c"/><rect x="270" y="495" width="20" height="20" fill="#e6a83c"/><rect x="290" y="495" width="20" height="20" fill="#e2f54c"/><rect x="310" y="495" width="20" height="20" fill="#5fdc42"/><rect x="330" y="495" width="20" height="20" fill="#e2f54c"/><rect x="350" y="495" width="20" height="20" fill="#e2f54c"/><rect x="370" y="495" width="20" height="20" fill="#e2f54c"/><rect x="390" y="495" width="20" height="20" fill="#f5dc44"/><rect x="410" y="495" width="20" height="20" fill="#f5dc44"/><rect x="430" y="495" width="20" height="20" fill="#e6a83c"/><rect x="450" y="495" width="20" height="20" fill="#f5dc44"/><rect x="30" y="515" width="20" height="20" fill="#d8753a"/><rect x="50" y="515" width="20" height="20" fill="#d8753a"/><rect x="70" y="515" width="20" height="20" fill="#d8753a"/><rect x="90" y="515" width="20" height="20" fill="#e6a83c"/><rect x="110" y="515" width="20" height="20" fill="#e6a83c"/><rect x="130" y="515" width="20" height="20" fill="#e6a83c"/><rect x="150" y="515" width="20" height="20" fill="#d8753a"/><rect x="170" y="515" width="20" height="20" fill="#d8753a"/><rect x="190" y="515" width="20" height="20" fill="#e6a83c"/><rect x="210" y="515" width="20" height="20" fill="#e6a83c"/><rect x="230" y="515" width="20" height="20" fill="#e6a83c"/><rect x="250" y="515" width="20" height="20" fill="#e6a83c"/><rect x="270" y="515" width="20" height="20" fill="#e6a83c"/><rect x="290" y="515" width="20" height="20" fill="#e2f54c"/><rect x="310" y="515" width="20" height="20" fill="#5fdc42"/><rect x="330" y="515" width="20" height="20" fill="#e2f54c"/><rect x="350" y="515" width="20" height="20" fill="#f5dc44"/><rect x="370" y="515" width="20" height="20" fill="#e2f54c"/><rect x="390" y="515" width="20" height="20" fill="#f5dc44"/><rect x="410" y="515" width="20" height="20" fill="#f5dc44"/><rect x="430" y="515" width="20" height="20" fill="#f5dc44"/><rect x="450" y="515" width="20" height="20" fill="#f5dc44"/><rect x="30" y="535" width="20" height="20" fill="#d8753a"/><rect x="50" y="535" width="20" height="20" fill="#d8753a"/><rect x="70" y="535" width="20" height="20" fill="#d8753a"/><rect x="90" y="535" width="20" height="20" fill="#e6a83c"/><rect x="110" y="535" width="20" height="20" fill="#e6a83c"/><rect x="130" y="535" width="20" height="20" fill="#e6a83c"/><rect x="150" y="535" width="20" height="20" fill="#d8753a"/><rect x="170" y="535" width="20" height="20" fill="#e6a83c"/><rect x="190" y="535" width="20" height="20" fill="#e6a83c"/><rect x="210" y="535" width="20" height="20" fill="#e6a83c"/><rect x="230" y="535" width="20" height="20" fill="#e6a83c"/><rect x="250" y="535" width="20" height="20" fill="#e6a83c"/><rect x="270" y="535" width="20" height="20" fill="#f5dc44"/><rect x="290" y="535" width="20" height="20" fill="#5fdc42"/><rect x="310" y="535" width="20" height="20" fill="#e2f54c"/><rect x="330" y="535" width="20" height="20" fill="#e2f54c"/><rect x="350" y="535" width="20" height="20" fill="#5fdc42"/><rect x="370" y="535" width="20" height="20" fill="#e2f54c"/><rect x="390" y="535" width="20" height="20" fill="#f5dc44"/><rect x="410" y="535" width="20" height="20" fill="#e2f54c"/><rect x="430" y="535" width="20" height="20" fill="#e2f54c"/><rect x="450" y="535" width="20" height="20" fill="#e2f54c"/><rect x="30" y="555" width="20" height="20" fill="#d8753a"/><rect x="50" y="555" width="20" height="20" fill="#d8753a"/><rect x="70" y="555" width="20" height="20" fill="#d8753a"/><rect x="90" y="555" width="20" height="20" fill="#e6a83c"/><rect x="110" y="555" width="20" height="20" fill="#f5dc44"/><rect x="130" y="555" width="20" height="20" fill="#e6a83c"/><rect x="150" y="555" width="20" height="20" fill="#e6a83c"/><rect x="170" y="555" width="20" height="20" fill="#e6a83c"/><rect x="190" y="555" width="20" height="20" fill="#e6a83c"/><rect x="210" y="555" width="20" height="20" fill="#e6a83c"/><rect x="230" y="555" width="20" height="20" fill="#e6a83c"/><rect x="250" y="555" width="20" height="20" fill="#f5dc44"/><rect x="270" y="555" width="20" height="20" fill="#e2f54c"/><rect x="290" y="555" width="20" height="20" fill="#5fdc42"/><rect x="310" y="555" width="20" height="20" fill="#e2f54c"/><rect x="330" y="555" width="20" height="20" fill="#5fdc42"/><rect x="350" y="555" width="20" height="20" fill="#5fdc42"/><rect x="370" y="555" width="20" height="20" fill="#5fdc42"/><rect x="390" y="555" width="20" height="20" fill="#e2f54c"/><rect x="410" y="555" width="20" height="20" fill="#e2f54c"/><rect x="430" y="555" width="20" height="20" fill="#e2f54c"/><rect x="450" y="555" width="20" height="20" fill="#e2f54c"/><rect x="30" y="575" width="20" height="20" fill="#d8753a"/><rect x="50" y="575" width="20" height="20" fill="#d8753a"/><rect x="70" y="575" width="20" height="20" fill="#d8753a"/><rect x="90" y="575" width="20" height="20" fill="#d8753a"/><rect x="110" y="575" width="20" height="20" fill="#f5dc44"/><rect x="130" y="575" width="20" height="20" fill="#f5dc44"/><rect x="150" y="575" width="20" height="20" fill="#e6a83c"/><rect x="170" y="575" width="20" height="20" fill="#e6a83c"/><rect x="190" y="575" width="20" height="20" fill="#e6a83c"/><rect x="210" y="575" width="20" height="20" fill="#f5dc44"/><rect x="230" y="575" width="20" height="20" fill="#e6a83c"/><rect x="250" y="575" width="20" height="20" fill="#f5dc44"/><rect x="270" y="575" width="20" height="20" fill="#5fdc42"/><rect x="290" y="575" width="20" height="20" fill="#e2f54c"/><rect x="310" y="575" width="20" height="20" fill="#5fdc42"/><rect x="330" y="575" width="20" height="20" fill="#e2f54c"/><rect x="350" y="575" width="20" height="20" fill="#5fdc42"/><rect x="370" y="575" width="20" height="20" fill="#e2f54c"/><rect x="390" y="575" width="20" height="20" fill="#e6a83c"/><rect x="410" y="575" width="20" height="20" fill="#5fdc42"/><rect x="430" y="575" width="20" height="20" fill="#5fdc42"/><rect x="450" y="575" width="20" height="20" fill="#5fdc42"/><rect x="30" y="595" width="20" height="20" fill="#5fdc42"/><rect x="50" y="595" width="20" height="20" fill="#e6a83c"/><rect x="70" y="595" width="20" height="20" fill="#e6a83c"/><rect x="90" y="595" width="20" height="20" fill="#f5dc44"/><rect x="110" y="595" width="20" height="20" fill="#f5dc44"/><rect x="130" y="595" width="20" height="20" fill="#f5dc44"/><rect x="150" y="595" width="20" height="20" fill="#e6a83c"/><rect x="170" y="595" width="20" height="20" fill="#e6a83c"/><rect x="190" y="595" width="20" height="20" fill="#e6a83c"/><rect x="210" y="595" width="20" height="20" fill="#f5dc44"/><rect x="230" y="595" width="20" height="20" fill="#e6a83c"/><rect x="250" y="595" width="20" height="20" fill="#f5dc44"/><rect x="270" y="595" width="20" height="20" fill="#f5dc44"/><rect x="290" y="595" width="20" height="20" fill="#f5dc44"/><rect x="310" y="595" width="20" height="20" fill="#f5dc44"/><rect x="330" y="595" width="20" height="20" fill="#5fdc42"/><rect x="350" y="595" width="20" height="20" fill="#e2f54c"/><rect x="370" y="595" width="20" height="20" fill="#f5dc44"/><rect x="390" y="595" width="20" height="20" fill="#f5dc44"/><rect x="410" y="595" width="20" height="20" fill="#5fdc42"/><rect x="430" y="595" width="20" height="20" fill="#5fdc42"/><rect x="450" y="595" width="20" height="20" fill="#5fdc42"/><rect x="30" y="615" width="20" height="20" fill="#e6a83c"/><rect x="50" y="615" width="20" height="20" fill="#e6a83c"/><rect x="70" y="615" width="20" height="20" fill="#42a77e"/><rect x="90" y="615" width="20" height="20" fill="#e6a83c"/><rect x="110" y="615" width="20" height="20" fill="#e6a83c"/><rect x="130" y="615" width="20" height="20" fill="#a3ec48"/><rect x="150" y="615" width="20" height="20" fill="#f5dc44"/><rect x="170" y="615" width="20" height="20" fill="#e6a83c"/><rect x="190" y="615" width="20" height="20" fill="#f5dc44"/><rect x="210" y="615" width="20" height="20" fill="#f5dc44"/><rect x="230" y="615" width="20" height="20" fill="#e2f54c"/><rect x="250" y="615" width="20" height="20" fill="#e6a83c"/><rect x="270" y="615" width="20" height="20" fill="#f5dc44"/><rect x="290" y="615" width="20" height="20" fill="#e6a83c"/><rect x="310" y="615" width="20" height="20" fill="#f5dc44"/><rect x="330" y="615" width="20" height="20" fill="#e2f54c"/><rect x="350" y="615" width="20" height="20" fill="#5fdc42"/><rect x="370" y="615" width="20" height="20" fill="#e2f54c"/><rect x="390" y="615" width="20" height="20" fill="#f5dc44"/><rect x="410" y="615" width="20" height="20" fill="#5fdc42"/><rect x="430" y="615" width="20" height="20" fill="#5fdc42"/><rect x="450" y="615" width="20" height="20" fill="#5fdc42"/><rect x="30" y="635" width="20" height="20" fill="#e6a83c"/><rect x="50" y="635" width="20" height="20" fill="#e6a83c"/><rect x="70" y="635" width="20" height="20" fill="#e6a83c"/><rect x="90" y="635" width="20" height="20" fill="#e6a83c"/><rect x="110" y="635" width="20" height="20" fill="#e6a83c"/><rect x="130" y="635" width="20" height="20" fill="#e2f54c"/><rect x="150" y="635" width="20" height="20" fill="#f5dc44"/><rect x="170" y="635" width="20" height="20" fill="#e6a83c"/><rect x="190" y="635" width="20" height="20" fill="#f5dc44"/><rect x="210" y="635" width="20" height="20" fill="#e6a83c"/><rect x="230" y="635" width="20" height="20" fill="#e6a83c"/><rect x="250" y="635" width="20" height="20" fill="#f5dc44"/><rect x="270" y="635" width="20" height="20" fill="#e6a83c"/><rect x="290" y="635" width="20" height="20" fill="#e6a83c"/><rect x="310" y="635" width="20" height="20" fill="#e6a83c"/><rect x="330" y="635" width="20" height="20" fill="#f5dc44"/><rect x="350" y="635" width="20" height="20" fill="#a3ec48"/><rect x="370" y="635" width="20" height="20" fill="#e2f54c"/><rect x="390" y="635" width="20" height="20" fill="#e2f54c"/><rect x="410" y="635" width="20" height="20" fill="#e2f54c"/><rect x="430" y="635" width="20" height="20" fill="#e2f54c"/><rect x="450" y="635" width="20" height="20" fill="#e2f54c"/><rect x="30" y="655" width="20" height="20" fill="#e6a83c"/><rect x="50" y="655" width="20" height="20" fill="#e6a83c"/><rect x="70" y="655" width="20" height="20" fill="#e6a83c"/><rect x="90" y="655" width="20" height="20" fill="#f5dc44"/><rect x="110" y="655" width="20" height="20" fill="#f5dc44"/><rect x="130" y="655" width="20" height="20" fill="#f5dc44"/><rect x="150" y="655" width="20" height="20" fill="#f5dc44"/><rect x="170" y="655" width="20" height="20" fill="#f5dc44"/><rect x="190" y="655" width="20" height="20" fill="#f5dc44"/><rect x="210" y="655" width="20" height="20" fill="#e6a83c"/><rect x="230" y="655" width="20" height="20" fill="#e6a83c"/><rect x="250" y="655" width="20" height="20" fill="#f5dc44"/><rect x="270" y="655" width="20" height="20" fill="#e6a83c"/><rect x="290" y="655" width="20" height="20" fill="#f5dc44"/><rect x="310" y="655" width="20" height="20" fill="#f5dc44"/><rect x="330" y="655" width="20" height="20" fill="#f5dc44"/><rect x="350" y="655" width="20" height="20" fill="#e2f54c"/><rect x="370" y="655" width="20" height="20" fill="#e2f54c"/><rect x="390" y="655" width="20" height="20" fill="#e2f54c"/><rect x="410" y="655" width="20" height="20" fill="#e2f54c"/><rect x="430" y="655" width="20" height="20" fill="#e2f54c"/><rect x="450" y="655" width="20" height="20" fill="#e2f54c"/><rect x="30" y="675" width="20" height="20" fill="#e6a83c"/><rect x="50" y="675" width="20" height="20" fill="#e6a83c"/><rect x="70" y="675" width="20" height="20" fill="#e6a83c"/><rect x="90" y="675" width="20" height="20" fill="#e6a83c"/><rect x="110" y="675" width="20" height="20" fill="#f5dc44"/><rect x="130" y="675" width="20" height="20" fill="#e6a83c"/><rect x="150" y="675" width="20" height="20" fill="#e6a83c"/><rect x="170" y="675" width="20" height="20" fill="#f5dc44"/><rect x="190" y="675" width="20" height="20" fill="#e6a83c"/><rect x="210" y="675" width="20" height="20" fill="#e6a83c"/><rect x="230" y="675" width="20" height="20" fill="#e6a83c"/><rect x="250" y="675" width="20" height="20" fill="#e6a83c"/><rect x="270" y="675" width="20" height="20" fill="#e6a83c"/><rect x="290" y="675" width="20" height="20" fill="#f5dc44"/><rect x="310" y="675" width="20" height="20" fill="#f5dc44"/><rect x="330" y="675" width="20" height="20" fill="#f5dc44"/><rect x="350" y="675" width="20" height="20" fill="#e2f54c"/><rect x="370" y="675" width="20" height="20" fill="#5fdc42"/><rect x="390" y="675" width="20" height="20" fill="#e2f54c"/><rect x="410" y="675" width="20" height="20" fill="#e2f54c"/><rect x="430" y="675" width="20" height="20" fill="#e2f54c"/><rect x="450" y="675" width="20" height="20" fill="#e2f54c"/><rect x="30" y="695" width="20" height="20" fill="#e6a83c"/><rect x="50" y="695" width="20" height="20" fill="#e6a83c"/><rect x="70" y="695" width="20" height="20" fill="#e6a83c"/><rect x="90" y="695" width="20" height="20" fill="#e6a83c"/><rect x="110" y="695" width="20" height="20" fill="#f5dc44"/><rect x="130" y="695" width="20" height="20" fill="#f5dc44"/><rect x="150" y="695" width="20" height="20" fill="#f5dc44"/><rect x="170" y="695" width="20" height="20" fill="#f5dc44"/><rect x="190" y="695" width="20" height="20" fill="#e6a83c"/><rect x="210" y="695" width="20" height="20" fill="#f5dc44"/><rect x="230" y="695" width="20" height="20" fill="#e6a83c"/><rect x="250" y="695" width="20" height="20" fill="#e6a83c"/><rect x="270" y="695" width="20" height="20" fill="#e6a83c"/><rect x="290" y="695" width="20" height="20" fill="#e2f54c"/><rect x="310" y="695" width="20" height="20" fill="#5fdc42"/><rect x="330" y="695" width="20" height="20" fill="#e6a83c"/><rect x="350" y="695" width="20" height="20" fill="#5fdc42"/><rect x="370" y="695" width="20" height="20" fill="#e2f54c"/><rect x="390" y="695" width="20" height="20" fill="#f5dc44"/><rect x="410" y="695" width="20" height="20" fill="#f5dc44"/><rect x="430" y="695" width="20" height="20" fill="#f5dc44"/><rect x="450" y="695" width="20" height="20" fill="#f5dc44"/><rect x="30" y="715" width="20" height="20" fill="#e6a83c"/><rect x="50" y="715" width="20" height="20" fill="#e6a83c"/><rect x="70" y="715" width="20" height="20" fill="#e6a83c"/><rect x="90" y="715" width="20" height="20" fill="#e6a83c"/><rect x="110" y="715" width="20" height="20" fill="#f5dc44"/><rect x="130" y="715" width="20" height="20" fill="#f5dc44"/><rect x="150" y="715" width="20" height="20" fill="#f5dc44"/><rect x="170" y="715" width="20" height="20" fill="#e6a83c"/><rect x="190" y="715" width="20" height="20" fill="#e6a83c"/><rect x="210" y="715" width="20" height="20" fill="#e6a83c"/><rect x="230" y="715" width="20" height="20" fill="#e6a83c"/><rect x="250" y="715" width="20" height="20" fill="#e6a83c"/><rect x="270" y="715" width="20" height="20" fill="#e6a83c"/><rect x="290" y="715" width="20" height="20" fill="#e2f54c"/><rect x="310" y="715" width="20" height="20" fill="#5fdc42"/><rect x="330" y="715" width="20" height="20" fill="#e6a83c"/><rect x="350" y="715" width="20" height="20" fill="#5fdc42"/><rect x="370" y="715" width="20" height="20" fill="#e2f54c"/><rect x="390" y="715" width="20" height="20" fill="#f5dc44"/><rect x="410" y="715" width="20" height="20" fill="#f5dc44"/><rect x="430" y="715" width="20" height="20" fill="#f5dc44"/><rect x="450" y="715" width="20" height="20" fill="#f5dc44"/></g></g>
<g fill="none" stroke="#3a3a2a" stroke-width="0.9" stroke-opacity="0.75"><path d="M207.4,305.7 L214.4,306.8 L221.4,307.9 L228.4,309.0 L235.4,310.0 L242.4,311.1 L249.5,312.1 L256.5,313.1 L263.5,314.0 L270.5,315.0 L277.6,315.9 L284.6,316.9 L291.6,317.8 L298.7,318.7 L305.7,319.5 L312.8,320.4 L319.8,321.2 L326.9,322.0 L333.9,322.8 L341.0,323.6 L348.0,324.3 L355.1,325.1 L362.1,325.8 L369.2,326.5 L376.2,327.2 L383.3,327.9 L390.4,328.5 L397.4,329.1 L404.5,329.7"/><path d="M214.1,264.0 L212.4,274.5 L210.7,284.9 L209.1,295.3 L207.4,305.7"/><path d="M263.5,314.0 L262.0,324.7 L260.5,335.3 L259.0,345.9 L257.6,356.6 L256.1,367.2 L254.6,377.8 L253.1,388.4 L251.6,399.1 L250.1,409.7 L248.7,420.3 L247.2,430.9 L245.7,441.5 L244.2,452.1 L242.7,462.7 L241.3,473.3 L239.8,483.9 L238.3,494.4 L236.8,505.0 L235.3,515.6 L233.9,526.2 L232.4,536.7 L230.9,547.3 L229.4,557.8 L228.0,568.4 L226.5,578.9 L225.0,589.5 L223.6,600.0 L222.1,610.5 L220.6,621.0 L219.1,631.5 L217.7,642.1 L216.2,652.5 L214.7,663.0 L213.3,673.5 L211.8,684.0 L210.4,694.5 L208.9,704.9 L207.4,715.4"/><path d="M91.4,456.4 L98.8,457.8 L106.3,459.2 L113.7,460.6 L121.2,461.9 L128.6,463.3 L136.1,464.6 L143.6,465.9 L151.0,467.2 L158.5,468.4 L166.0,469.7 L173.5,470.9 L180.9,472.1 L188.4,473.3 L195.9,474.4 L203.4,475.6 L210.9,476.7 L218.4,477.8 L225.9,478.9 L233.4,479.9 L240.9,481.0 L248.4,482.0 L255.9,483.0 L263.4,484.0 L270.9,485.0 L278.4,485.9 L286.0,486.8 L293.5,487.7 L301.0,488.6 L308.5,489.5 L316.1,490.3 L323.6,491.1 L331.1,492.0 L338.6,492.7 L346.2,493.5 L353.7,494.2 L361.3,495.0 L368.8,495.7 L376.4,496.4 L383.9,497.0 L391.4,497.7 L399.0,498.3 L406.6,498.9 L414.1,499.5 L421.7,500.1"/></g><g clip-path="url(#clip)" fill="none" stroke="#33331c" stroke-width="0.9" stroke-opacity="0.72"><path d="M232.9,153.9 L249.7,159.0 L253.5,186.1 L252.3,206.7"/><path d="M253.5,188.7 L263.9,190.0 L274.2,195.1 L292.2,184.8 L296.1,183.5"/><path d="M296.1,150.0 L295.5,184.8"/><path d="M296.1,184.8 L330.9,187.4"/><path d="M316.7,152.6 L318.0,160.3 L328.4,170.6 L330.9,175.8"/><path d="M330.9,171.9 L363.2,173.2"/><path d="M330.9,175.8 L330.9,213.2"/><path d="M364.5,159.0 L360.6,218.3"/><path d="M390.3,161.6 L389.0,192.5"/><path d="M389.0,193.2 L413.5,195.1"/><path d="M387.7,192.5 L386.4,222.2"/><path d="M278.0,204.2 L297.4,206.7 L316.7,209.3 L330.9,213.2"/><path d="M330.9,214.5 L360.6,218.3 L387.7,222.2 L412.2,223.5"/><path d="M315.5,210.6 L314.2,262.2"/><path d="M356.7,218.3 L352.9,264.8"/><path d="M387.7,222.2 L386.4,259.6"/><path d="M241.9,259.6 L315.5,262.2 L354.2,264.8 L372.2,266.1"/><path d="M386.4,259.6 L408.3,261.6"/><path d="M372.2,266.1 L370.9,325.4"/><path d="M391.6,260.9 L390.3,300.9"/><path d="M372.2,299.6 L405.8,300.9"/><path d="M351.6,264.8 L349.0,328.0"/><path d="M297.4,263.5 L296.1,317.7"/><path d="M239.4,259.6 L236.8,309.9"/><path d="M222.6,211.9 L252.0,207.0"/><path d="M184.0,259.4 L186.8,285.0"/><path d="M124.6,290.5 L166.5,295.9"/><path d="M116.5,337.7 L167.8,344.5"/><path d="M113.8,352.6 L166.5,359.4"/><path d="M107.0,391.8 L148.9,398.6"/><path d="M103.0,412.1 L147.6,416.1"/><path d="M97.6,433.7 L140.8,437.7"/><path d="M169.2,295.9 L167.8,344.5 L166.5,359.4 L161.1,393.1"/><path d="M235.4,317.5 L231.4,359.4"/><path d="M231.4,359.4 L253.0,360.7"/><path d="M190.8,371.5 L225.9,374.2"/><path d="M225.9,374.2 L220.5,429.6"/><path d="M182.7,410.7 L220.5,414.8"/><path d="M147.6,397.2 L182.7,401.3"/><path d="M147.6,416.1 L180.0,418.8"/><path d="M215.1,312.1 L235.4,314.8"/><path d="M258.4,347.2 L300.0,351.3"/><path d="M254.3,371.5 L300.0,374.2"/><path d="M253.0,382.3 L300.0,387.7"/><path d="M247.6,414.8 L300.0,418.8"/><path d="M122.5,462.2 L124.4,451.8 L126.3,441.5"/><path d="M135.2,443.1 L142.7,444.4 L150.3,445.7 L157.9,447.0 L165.5,448.3 L173.1,449.5 L180.7,450.8 L188.3,452.0"/><path d="M154.6,418.7 L162.6,420.1 L170.7,421.4 L178.7,422.8 L186.8,424.0 L194.8,425.3 L202.9,426.6 L210.9,427.8 L219.0,429.0"/><path d="M218.3,414.0 L225.9,415.1 L233.6,416.3 L241.3,417.3 L248.9,418.4"/><path d="M173.1,470.8 L174.8,460.5 L176.5,450.1"/><path d="M373.6,369.3 L381.3,370.0 L389.0,370.7 L396.7,371.4 L404.4,372.1 L412.1,372.7 L419.8,373.3 L427.5,373.9 L435.3,374.5 L443.0,375.0 L450.7,375.5 L458.4,376.0"/><path d="M400.9,371.8 L401.8,361.3 L402.7,350.8 L403.6,340.2 L404.5,329.7"/><path d="M425.3,373.7 L426.1,363.2 L426.9,352.7 L427.7,342.2 L428.6,331.7"/><path d="M441.1,374.9 L441.9,364.4 L442.6,353.8 L443.4,343.3 L444.1,332.8"/><path d="M372.2,369.2 L373.2,358.7 L374.2,348.2 L375.2,337.7 L376.2,327.2"/><path d="M340.6,353.3 L342.2,338.6 L343.8,323.9"/><path d="M307.7,362.3 L309.0,351.8 L310.2,341.3 L311.5,330.9 L312.8,320.4"/><path d="M380.0,406.7 L387.6,407.4 L395.2,408.1 L402.8,408.7 L410.4,409.3 L418.0,409.9 L425.6,410.5 L433.2,411.1 L440.8,411.6 L448.4,412.1 L456.0,412.6"/><path d="M406.5,427.2 L407.4,416.3 L408.3,405.4 L409.2,394.4 L410.1,383.5 L411.0,372.6"/><path d="M421.2,446.5 L422.0,435.6 L422.9,424.7 L423.7,413.8 L424.5,402.8 L425.4,391.9"/><path d="M378.3,424.8 L379.3,413.9 L380.4,403.0 L381.4,392.0 L382.4,381.1 L383.4,370.2"/><path d="M342.0,421.2 L349.6,422.0 L357.1,422.7 L364.6,423.5 L372.1,424.2 L379.6,424.9 L387.1,425.5 L394.6,426.2 L402.2,426.8 L409.7,427.4 L417.2,428.0 L424.7,428.6 L432.3,429.2 L439.8,429.7 L447.3,430.2 L454.9,430.7"/><path d="M394.7,444.4 L402.0,445.0 L409.4,445.6 L416.8,446.2 L424.2,446.7 L431.5,447.3 L438.9,447.8 L446.3,448.3 L453.7,448.8"/><path d="M390.1,497.6 L391.1,485.7 L392.1,473.8 L393.1,462.0 L394.2,450.1 L395.2,438.2 L396.2,426.3"/><path d="M269.1,457.6 L276.7,458.6 L284.3,459.5 L291.9,460.4 L299.5,461.4 L307.1,462.2 L314.7,463.1 L322.3,464.0 L329.9,464.8 L337.5,465.6 L345.2,466.4 L352.8,467.1 L360.4,467.9 L368.0,468.6 L375.6,469.3 L383.3,470.0 L390.9,470.6 L398.5,471.3 L406.2,471.9 L413.8,472.5 L421.4,473.1 L429.1,473.6 L436.7,474.2 L444.3,474.7 L452.0,475.2"/><path d="M418.7,499.8 L419.7,486.4 L420.7,473.0"/><path d="M330.8,443.3 L332.1,431.3 L333.4,419.2 L334.7,407.2 L336.0,395.2"/><path d="M304.2,440.3 L305.8,427.6 L307.3,414.8 L308.8,402.1 L310.3,389.3"/><path d="M266.0,435.6 L274.1,436.6 L282.2,437.6 L290.3,438.6 L298.4,439.6 L306.5,440.6 L314.6,441.5 L322.7,442.4 L330.8,443.3"/><path d="M286.6,486.9 L288.2,473.6 L289.8,460.2"/><path d="M331.5,492.0 L332.8,480.0 L334.1,468.0 L335.4,455.9 L336.7,443.9"/><path d="M349.5,493.8 L350.7,482.0 L351.9,470.1 L353.1,458.3 L354.3,446.4 L355.5,434.6 L356.7,422.7"/><path d="M263.2,456.8 L264.6,445.8 L266.1,434.7 L267.6,423.7 L269.0,412.6"/><path d="M321.9,390.6 L329.4,391.5 L336.9,392.3 L344.4,393.1 L352.0,393.9 L359.5,394.6"/><path d="M234.4,522.4 L242.1,523.5 L249.8,524.5 L257.6,525.5 L265.3,526.5 L273.0,527.5 L280.8,528.5 L288.5,529.4 L296.2,530.3 L304.0,531.2 L311.7,532.1 L319.5,532.9"/><path d="M274.3,561.4 L275.6,550.8 L276.9,540.1 L278.3,529.4 L279.6,518.7 L280.9,508.0 L282.2,497.2 L283.6,486.5"/><path d="M299.7,530.7 L300.9,520.3 L302.1,509.9 L303.3,499.4 L304.5,489.0"/><path d="M315.8,566.2 L317.0,555.5 L318.2,544.8 L319.3,534.1 L320.5,523.4 L321.7,512.7 L322.8,501.9 L324.0,491.2"/><path d="M342.0,568.9 L343.1,558.2 L344.1,547.5 L345.2,536.8 L346.3,526.1 L347.4,515.3 L348.5,504.6 L349.5,493.8"/><path d="M385.2,572.9 L386.1,562.2 L387.0,551.4 L387.9,540.7 L388.8,530.0 L389.7,519.2 L390.7,508.5 L391.6,497.7"/><path d="M229.7,555.6 L237.4,556.7 L245.1,557.7 L252.8,558.7 L260.4,559.7 L268.1,560.7 L275.8,561.6 L283.5,562.6 L291.2,563.5 L298.9,564.3 L306.6,565.2 L314.3,566.1 L322.0,566.9 L329.7,567.7 L337.4,568.5 L345.1,569.2 L352.8,570.0 L360.5,570.7 L368.2,571.4 L375.9,572.1 L383.6,572.8 L391.3,573.4 L399.1,574.0 L406.8,574.6 L414.5,575.2"/><path d="M243.3,582.8 L251.3,583.9 L259.4,584.9 L267.4,585.9 L275.5,586.9 L283.5,587.8 L291.6,588.8 L299.6,589.7 L307.7,590.6 L315.7,591.5 L323.8,592.3 L331.9,593.2 L339.9,594.0 L348.0,594.8 L356.1,595.5 L364.1,596.3 L372.2,597.0 L380.3,597.7 L388.4,598.4 L396.4,599.0 L404.5,599.6 L412.6,600.3"/><path d="M235.6,640.7 L243.7,641.8 L251.9,642.9 L260.2,643.9 L268.4,644.9 L276.6,645.9 L284.8,646.8 L293.0,647.8 L301.2,648.7 L309.4,649.6 L317.6,650.4 L325.9,651.3 L334.1,652.1 L342.3,652.9 L350.6,653.7 L358.8,654.5 L367.0,655.2 L375.3,655.9 L383.5,656.6 L391.7,657.3 L400.0,657.9 L408.2,658.5"/><path d="M257.2,672.9 L265.5,673.9 L273.8,674.9 L282.0,675.9 L290.3,676.8 L298.6,677.7 L306.9,678.6 L315.2,679.5 L323.5,680.3 L331.7,681.2 L340.0,682.0 L348.3,682.8"/><path d="M235.6,640.7 L236.9,630.4 L238.3,620.1 L239.7,609.7 L241.1,599.4 L242.5,589.0 L243.9,578.7 L245.2,568.3 L246.6,557.9"/><path d="M255.7,685.3 L257.0,674.3 L258.4,663.3 L259.8,652.2 L261.2,641.2 L262.6,630.2 L263.9,619.1 L265.3,608.1 L266.7,597.0 L268.1,586.0"/><path d="M269.6,704.5 L271.0,692.8 L272.4,681.1 L273.8,669.4 L275.2,657.6 L276.6,645.9"/><path d="M299.7,698.7 L300.9,687.7 L302.1,676.7 L303.3,665.7 L304.5,654.6 L305.7,643.6 L307.0,632.5 L308.2,621.5 L309.4,610.4 L310.6,599.3 L311.8,588.2 L313.0,577.2 L314.3,566.1"/><path d="M331.9,702.1 L332.9,691.3 L334.0,680.6 L335.1,669.8 L336.2,659.0 L337.2,648.2 L338.3,637.4 L339.4,626.6 L340.4,615.8 L341.5,605.0 L342.6,594.2"/><path d="M346.4,703.5 L347.4,692.4 L348.5,681.4 L349.5,670.3 L350.6,659.3 L351.6,648.2 L352.7,637.1 L353.7,626.1 L354.7,615.0 L355.8,603.9 L356.8,592.8 L357.9,581.7 L358.9,570.6"/><path d="M381.9,706.6 L382.8,695.8 L383.7,685.0 L384.5,674.2 L385.4,663.4 L386.3,652.6 L387.2,641.8 L388.1,631.0 L389.0,620.2 L389.9,609.4 L390.8,598.6"/><path d="M239.6,683.2 L247.6,684.3 L255.7,685.3"/><path d="M98.9,534.6 L100.9,524.0 L102.9,513.4 L104.8,502.8 L106.8,492.2 L108.8,481.6 L110.8,471.0 L112.7,460.4"/><path d="M171.8,585.2 L173.6,574.0 L175.3,562.9 L177.1,551.7 L178.8,540.5 L180.6,529.4 L182.4,518.2 L184.2,507.0 L185.9,495.8 L187.7,484.6 L189.5,473.4"/><path d="M191.3,613.5 L192.9,603.0 L194.5,592.5 L196.0,582.0 L197.6,571.5 L199.2,561.0 L200.8,550.5 L202.3,540.0 L203.9,529.5 L205.5,519.0 L207.1,508.4 L208.7,497.9 L210.2,487.4 L211.8,476.8"/><path d="M98.9,534.6 L107.2,536.1 L115.5,537.6 L123.8,539.1 L132.0,540.5 L140.3,541.9 L148.6,543.3"/><path d="M59.0,565.4 L67.1,566.9 L75.1,568.4 L83.1,570.0 L91.2,571.5 L99.2,572.9 L107.3,574.4 L115.3,575.8 L123.4,577.2 L131.4,578.6 L139.5,579.9 L147.6,581.3 L155.6,582.6 L163.7,583.9 L171.8,585.2"/><path d="M45.5,601.0 L53.4,602.5 L61.3,604.1 L69.3,605.6 L77.2,607.1 L85.1,608.5"/><path d="M78.3,645.4 L80.3,634.4 L82.4,623.3 L84.4,612.2 L86.5,601.2 L88.6,590.1 L90.6,579.0 L92.7,567.9 L94.8,556.8 L96.8,545.7 L98.9,534.6"/><path d="M114.0,651.8 L116.3,638.8 L118.6,625.8 L120.8,612.8"/><path d="M120.8,612.8 L130.2,614.4 L139.6,615.9 L149.0,617.5 L158.4,619.0"/><path d="M78.3,645.4 L86.5,646.9 L94.8,648.4 L103.1,649.9 L111.4,651.3 L119.7,652.7 L128.0,654.1 L136.3,655.5 L144.6,656.9 L153.0,658.2 L161.3,659.5 L169.6,660.8"/><path d="M129.6,675.5 L131.4,665.2 L133.1,655.0"/><path d="M162.2,708.8 L163.8,697.9 L165.5,687.1 L167.2,676.2 L168.9,665.3 L170.6,654.4 L172.3,643.5 L174.0,632.6 L175.7,621.7"/><path d="M196.8,685.8 L198.5,674.2 L200.2,662.5 L201.9,650.8 L203.6,639.1 L205.3,627.5 L207.0,615.8"/><path d="M166.4,681.3 L175.4,682.7 L184.3,684.0 L193.3,685.3 L202.3,686.6 L211.3,687.8"/><path d="M167.9,609.9 L176.7,611.3 L185.6,612.6 L194.5,613.9 L203.3,615.2 L212.2,616.5 L221.1,617.7"/><path d="M158.4,619.0 L160.3,607.3 L162.2,595.6 L164.0,584.0"/></g><path d="M131.9,249.6 L139.3,251.0 L146.8,252.4 L154.2,253.8 L161.7,255.1 L169.2,256.5 L176.7,257.8 L184.1,259.1 L191.6,260.4 L199.1,261.6 L206.6,262.8 L214.1,264.0 L215.8,253.6 L217.5,243.2 L219.1,232.8 L220.8,222.4 L222.5,211.9 L224.2,201.5 L225.9,191.1 L227.6,180.7 L229.2,170.2 L230.9,159.8 L232.6,149.4 L234.3,139.0 L240.8,140.0 L247.4,141.1 L254.0,142.1 L260.6,143.0 L267.1,144.0 L273.7,145.0 L280.3,145.9 L286.9,146.8 L293.5,147.7 L300.0,148.6 L306.6,149.5 L313.2,150.3 L319.8,151.1 L326.4,151.9 L333.0,152.7 L339.6,153.5 L346.2,154.3 L352.8,155.0 L359.4,155.8 L366.0,156.5 L372.6,157.2 L379.3,157.8 L385.9,158.5 L392.5,159.1 L399.1,159.7 L405.7,160.4 L412.3,160.9 L419.0,161.5 L418.1,172.0 L417.2,182.5 L416.3,193.0 L415.4,203.6 L414.4,214.1 L413.5,224.6 L412.6,235.1 L411.7,245.6 L410.8,256.1 L409.9,266.7 L409.0,277.2 L408.1,287.7 L407.2,298.2 L406.3,308.7 L405.4,319.2 L404.5,329.7 L411.6,330.3 L418.6,330.9 L425.7,331.5 L432.8,332.0 L439.9,332.5 L446.9,333.0 L454.0,333.5 L461.1,333.9 L460.4,344.5 L459.8,355.0 L459.1,365.5 L458.5,376.0 L457.8,386.6 L457.1,397.1 L456.5,407.6 L455.8,418.1 L455.2,428.6 L454.5,439.1 L453.8,449.6 L453.2,460.1 L452.5,470.6 L451.9,481.1 L451.2,491.6 L450.6,502.1 L440.9,501.4 L431.3,500.8 L421.7,500.1 L420.8,510.5 L419.9,521.0 L419.0,531.4 L418.2,541.9 L417.3,552.3 L416.4,562.8 L415.5,573.2 L414.7,583.6 L413.8,594.1 L412.9,604.5 L412.0,614.9 L411.2,625.3 L410.3,635.7 L409.4,646.1 L408.5,656.5 L407.7,666.8 L406.8,677.2 L405.9,687.6 L405.0,697.9 L404.2,708.3 L395.9,707.7 L387.7,707.0 L379.5,706.4 L371.3,705.7 L363.1,705.0 L354.9,704.2 L346.7,703.5 L338.5,702.7 L330.3,701.9 L322.1,701.1 L313.9,700.3 L305.7,699.4 L297.5,698.5 L289.4,697.6 L291.2,707.0 L282.2,706.0 L273.2,704.9 L264.1,703.9 L255.1,702.8 L246.1,701.7 L237.1,700.5 L234.6,719.0 L226.2,717.9 L217.8,716.8 L209.4,715.7 L201.0,714.5 L192.5,713.3 L184.1,712.1 L175.7,710.9 L167.3,709.6 L158.9,708.3 L150.5,707.0 L142.1,705.7 L134.1,700.9 L126.0,696.1 L118.0,691.3 L110.0,686.4 L102.1,681.6 L94.1,676.7 L86.2,671.8 L78.3,666.8 L70.4,661.9 L62.6,656.9 L54.8,651.9 L47.0,646.9 L39.2,641.9 L31.4,636.8 L32.0,635.8 L35.2,628.6 L41.6,617.4 L40.8,603.1 L45.6,598.3 L52.0,582.3 L54.4,575.9 L60.0,571.0 L63.0,563.0 L59.2,555.0 L60.0,543.9 L58.4,532.7 L61.5,520.0 L62.3,503.6 L63.8,491.3 L67.6,489.0 L74.5,490.6 L78.4,495.2 L85.3,489.0 L85.0,489.3 L87.0,479.0 L89.1,468.6 L91.1,458.2 L93.1,447.8 L95.2,437.4 L97.2,427.0 L99.2,416.6 L101.3,406.1 L103.3,395.7 L105.3,385.3 L107.4,374.9 L109.4,364.5 L111.5,354.0 L113.5,343.6 L115.5,333.2 L117.6,322.7 L119.6,312.3 L121.7,301.8 L123.7,291.4 L125.7,280.9 L127.8,270.5 L129.8,260.1 L131.9,249.6Z" fill="none" stroke="#2a3a1a" stroke-width="0.9" stroke-opacity="0.7"/><g class="cl"><text x="314.9" y="348.1">Routt</text><text x="336.5" y="364.3">Grand</text><text x="282.4" y="363.0">Rio Blanco</text><text x="283.8" y="380.5">Garfield</text><text x="317.6" y="381.9">Eagle</text><text x="264.9" y="402.2">Mesa</text><text x="282.4" y="410.3">Delta</text><text x="347.3" y="407.6">Park</text><text x="366.2" y="413.0">Teller</text><text x="379.7" y="422.4">El Paso</text><text x="397.3" y="403.5">Lincoln</text><text x="439.2" y="407.6">Kit Carson</text><text x="436.5" y="427.8">Cheyenne</text><text x="436.5" y="444.1">Kiowa</text><text x="405.4" y="446.8">Crowley</text><text x="347.3" y="421.1">Chaffee</text><text x="350.0" y="434.6">Fremont</text><text x="270.3" y="427.8">Montrose</text><text x="263.5" y="442.7">San Miguel</text><text x="274.3" y="477.8">La Plata</text><text x="398.6" y="488.7">Las Animas</text><text x="435.1" y="491.4">Baca</text><text x="400.0" y="465.7">Otero</text><text x="418.9" y="465.7">Bent</text><text x="450.0" y="465.7">Prowers</text><text x="304.0" y="417.0">Gunnison</text><text x="310.8" y="445.4">Saguache</text><text x="358.1" y="467.0">Huerfano</text><text x="367.6" y="445.4">Pueblo</text><text x="337.8" y="479.2">Costilla</text><text x="325.7" y="469.7">Alamosa</text><text x="290.5" y="485.9">Archuleta</text><text x="344.6" y="388.7">Douglas</text><text x="368.9" y="395.4">Elbert</text><text x="425.7" y="383.2">Washington</text><text x="412.2" y="368.4">Morgan</text><text x="446.0" y="377.8">Yuma</text><text x="428.4" y="345.4">Logan</text><text x="378.4" y="352.2">Weld</text><text x="360.8" y="342.7">Larimer</text><text x="368.9" y="377.8">Adams</text><text x="371.6" y="387.3">Arapahoe</text><text x="282.8" y="335.7">Moffat</text><text x="333.7" y="340.0">Jackson</text><text x="446.7" y="337.2">Sedgwick</text><text x="452.3" y="355.5">Phillips</text><text x="280.0" y="434.3">Ouray</text><text x="297.0" y="457.3">Hinsdale</text><text x="243.2" y="473.2">Montezuma</text><text x="265.8" y="166.2">Park</text><text x="339.3" y="164.8">Sheridan</text><text x="311.0" y="178.9">Big Horn</text><text x="240.4" y="188.8">Teton</text><text x="373.2" y="191.6">Campbell</text><text x="404.3" y="178.9">Crook</text><text x="305.0" y="200.1">Washakie</text><text x="333.0" y="200.1">Johnson</text><text x="287.0" y="208.6">Hot Springs</text><text x="404.3" y="211.4">Weston</text><text x="291.3" y="232.6">Fremont</text><text x="336.5" y="242.5">Natrona</text><text x="376.0" y="245.3">Converse</text><text x="405.0" y="245.3">Niobrara</text><text x="243.2" y="239.7">Sublette</text><text x="268.7" y="290.5">Sweetwater</text><text x="330.8" y="293.4">Carbon</text><text x="388.0" y="284.9">Platte</text><text x="407.0" y="284.9">Goshen</text><text x="356.3" y="317.4">Albany</text><text x="387.3" y="318.8">Laramie</text><text x="226.3" y="296.2">Uinta</text><text x="155.6" y="276.4">Box Elder</text><text x="193.8" y="272.7">Cache</text><text x="206.5" y="282.1">Rich</text><text x="178.2" y="288.3">Weber</text><text x="176.0" y="296.3">Davis</text><text x="141.5" y="320.2">Tooele</text><text x="175.4" y="318.8">Salt Lake</text><text x="200.8" y="316.0">Summit</text><text x="248.9" y="320.2">Daggett</text><text x="179.6" y="341.4">Utah</text><text x="217.8" y="340.0">Duchesne</text><text x="243.2" y="351.3">Uintah</text><text x="148.6" y="352.7">Juab</text><text x="212.1" y="366.8">Carbon</text><text x="135.9" y="378.1">Millard</text><text x="200.8" y="392.3">Emery</text><text x="231.9" y="397.9">Grand</text><text x="121.7" y="406.4">Beaver</text><text x="195.2" y="420.5">Wayne</text><text x="104.8" y="450.6">Washington</text><text x="155.6" y="461.9">Kane</text><text x="220.6" y="456.2">San Juan</text><text x="79.3" y="515.5">Mohave</text><text x="141.5" y="519.8">Coconino</text><text x="257.4" y="507.1">San Juan</text><text x="305.4" y="512.7">Rio Arriba</text><text x="339.3" y="514.1">Taos</text><text x="367.6" y="515.5">Colfax</text><text x="401.5" y="524.0">Union</text><text x="189.5" y="545.2">Navajo</text><text x="257.4" y="545.2">McKinley</text><text x="356.3" y="538.2">Mora</text><text x="393.0" y="546.6">Harding</text><text x="118.9" y="566.4">Yavapai</text><text x="325.2" y="557.9">Santa Fe</text><text x="359.1" y="560.8">San Miguel</text><text x="263.0" y="573.5">Cibola</text><text x="296.9" y="573.5">Bernalillo</text><text x="398.6" y="580.5">Quay</text><text x="68.0" y="594.7">La Paz</text><text x="291.3" y="587.6">Valencia</text><text x="359.1" y="587.6">Guadalupe</text><text x="319.5" y="594.7">Torrance</text><text x="172.6" y="611.6">Gila</text><text x="240.4" y="614.4">Catron</text><text x="291.3" y="617.3">Socorro</text><text x="367.6" y="610.2">De Baca</text><text x="101.9" y="617.3">Maricopa</text><text x="330.8" y="632.8">Lincoln</text><text x="398.6" y="625.7">Roosevelt</text><text x="56.7" y="631.4">Yuma</text><text x="135.9" y="639.9">Pinal</text><text x="212.1" y="639.9">Greenlee</text><text x="186.7" y="648.3">Graham</text><text x="277.1" y="651.2">Sierra</text><text x="364.7" y="651.2">Chaves</text><text x="240.4" y="662.5">Grant</text><text x="127.4" y="671.0">Pima</text><text x="316.7" y="678.0">Otero</text><text x="395.8" y="678.0">Lea</text><text x="254.5" y="687.9">Luna</text><text x="282.8" y="685.1">Dona Ana</text><text x="361.9" y="687.9">Eddy</text><text x="186.7" y="693.6">Cochise</text><text x="217.8" y="696.4">Hidalgo</text><text x="152.8" y="700.6">Santa Cruz</text><text x="175.0" y="387.3">Sanpete</text><text x="165.0" y="407.3">Sevier</text><text x="160.0" y="420.3">Piute</text><text x="170.0" y="442.3">Garfield</text><text x="115.0" y="427.3">Iron</text></g>
<path d="M251.4,207.8 L258.3,211.9 L260.6,224.5 L267.5,236.0 L272.1,247.5 L276.7,261.4 L289.3,263.7 L300.8,261.4 L304.3,264.8 L312.3,266.0 L322.7,269.4 L322.7,282.1 L315.8,285.5 L312.3,293.6 L314.6,303.9 L319.3,310.8 L323.9,322.4 L328.5,328.1 L328.5,339.6 L328.0,347.0 L340.0,350.0 L346.1,350.9 L352.6,349.0 L354.8,361.7 L352.6,372.6 L346.1,385.7 L337.4,392.2 L326.5,394.3 L324.3,405.2 L327.6,416.1 L328.7,427.0 L326.5,435.7 L320.0,438.9 L313.5,448.7 L302.6,454.1 L295.0,462.8 L304.8,466.1 L311.3,474.8 L313.5,484.6 L308.0,492.2 L302.6,503.0 L299.5,514.7 L298.0,522.1 L292.9,527.3 L287.0,528.7 L281.1,533.2 L272.2,537.6 L270.7,541.3 L264.8,545.0 L251.6,541.3 L244.2,542.7 L238.3,537.6 L236.8,532.4 L241.3,527.3 L240.5,522.8 L224.3,526.5 L213.3,531.0 L208.8,525.1 L207.4,516.2 L213.3,507.4 L211.1,500.0 L206.8,500.8 L199.8,495.0 L194.1,488.1 L188.3,484.7 L178.0,492.7 L169.9,493.9 L163.0,488.1 L161.9,477.7 L152.7,477.7 L148.1,472.0 L148.1,460.5 L145.8,451.3 L151.5,442.1 L160.7,435.2 L165.3,424.8 L167.6,409.8 L174.5,398.3 L180.3,393.7 L183.7,373.0 L190.4,368.0 L192.7,354.6 L197.3,348.8 L196.1,339.6 L197.3,331.6 L203.0,328.1 L208.8,322.4 L216.8,314.3 L215.7,299.3 L214.5,287.8 L214.5,279.8 L223.7,272.9 L222.6,268.3 L221.4,259.0 L223.7,252.1 L226.0,247.5 L228.3,242.9 L231.8,233.7 L232.9,224.5 L243.3,219.9 L244.4,211.9Z" fill="none" stroke="#0c180c" stroke-width="1.5" stroke-linejoin="round" stroke-opacity="0.9"/>
<text x="608.3" y="174.8" class="tt">Intermountain West&#160;</text>
<text x="608.3" y="202.5" class="tt">July 2019 Precipitation</text>
<text x="608.3" y="230.2" class="tt">as a Percentage of Normal</text>
<text x="510.4" y="296.2" class="lt">july19_pn</text>
<text x="510.4" y="316.6" class="ls">Precip as % of normal</text>
<rect x="510.4" y="326.2" width="31.6" height="14.6" fill="#c3503c" stroke="#8a8a8a" stroke-width="0.8"/>
<text x="547.6" y="337.5" class="ll">0</text>
<rect x="510.4" y="347.6" width="31.6" height="14.6" fill="#d2693a" stroke="#8a8a8a" stroke-width="0.8"/>
<text x="547.6" y="358.9" class="ll">0 - 10</text>
<rect x="510.4" y="368.9" width="31.6" height="14.6" fill="#dc823a" stroke="#8a8a8a" stroke-width="0.8"/>
<text x="547.6" y="380.2" class="ll">11 - 20</text>
<rect x="510.4" y="390.3" width="31.6" height="14.6" fill="#e29b3a" stroke="#8a8a8a" stroke-width="0.8"/>
<text x="547.6" y="401.6" class="ll">21 - 30</text>
<rect x="510.4" y="411.6" width="31.6" height="14.6" fill="#ebb83e" stroke="#8a8a8a" stroke-width="0.8"/>
<text x="547.6" y="422.9" class="ll">31 - 50</text>
<rect x="510.4" y="433.0" width="31.6" height="14.6" fill="#f5dc44" stroke="#8a8a8a" stroke-width="0.8"/>
<text x="547.6" y="444.3" class="ll">51 - 70</text>
<rect x="510.4" y="454.4" width="31.6" height="14.6" fill="#e2f54c" stroke="#8a8a8a" stroke-width="0.8"/>
<text x="547.6" y="465.7" class="ll">71 - 90</text>
<rect x="510.4" y="475.7" width="31.6" height="14.6" fill="#a3ec48" stroke="#8a8a8a" stroke-width="0.8"/>
<text x="547.6" y="487.0" class="ll">91 - 110</text>
<rect x="510.4" y="497.1" width="31.6" height="14.6" fill="#5fdc42" stroke="#8a8a8a" stroke-width="0.8"/>
<text x="547.6" y="508.4" class="ll">111 - 130</text>
<rect x="510.4" y="518.4" width="31.6" height="14.6" fill="#50c348" stroke="#8a8a8a" stroke-width="0.8"/>
<text x="547.6" y="529.7" class="ll">131 - 150</text>
<rect x="510.4" y="539.8" width="31.6" height="14.6" fill="#47af70" stroke="#8a8a8a" stroke-width="0.8"/>
<text x="547.6" y="551.1" class="ll">151 - 170</text>
<rect x="510.4" y="561.2" width="31.6" height="14.6" fill="#3ca08c" stroke="#8a8a8a" stroke-width="0.8"/>
<text x="547.6" y="572.5" class="ll">171 - 200</text>
<rect x="510.4" y="582.5" width="31.6" height="14.6" fill="#33829b" stroke="#8a8a8a" stroke-width="0.8"/>
<text x="547.6" y="593.8" class="ll">201 - 250</text>
<rect x="510.4" y="603.9" width="31.6" height="14.6" fill="#245591" stroke="#8a8a8a" stroke-width="0.8"/>
<text x="547.6" y="615.2" class="ll">251 - 300</text>
<rect x="510.4" y="625.2" width="31.6" height="14.6" fill="#162c86" stroke="#8a8a8a" stroke-width="0.8"/>
<text x="547.6" y="636.5" class="ll">300+</text>
<rect x="511.0" y="647.2" width="30.6" height="14" fill="#fff" stroke="#777" stroke-width="1.4"/>
<text x="547.6" y="657.9" class="ll">Upper Colorado River Basin</text>
<text x="510.4" y="679.5" class="lc">Data from PRISM Climate Group</text>
</g><g transform="translate(815,632.5)">
<g clip-path="url(#clip)"><g filter="url(#bl)"><rect x="30" y="135" width="20" height="20" fill="#5fdc42"/><rect x="50" y="135" width="20" height="20" fill="#5fdc42"/><rect x="70" y="135" width="20" height="20" fill="#5fdc42"/><rect x="90" y="135" width="20" height="20" fill="#5fdc42"/><rect x="110" y="135" width="20" height="20" fill="#5fdc42"/><rect x="130" y="135" width="20" height="20" fill="#5fdc42"/><rect x="150" y="135" width="20" height="20" fill="#5fdc42"/><rect x="170" y="135" width="20" height="20" fill="#5fdc42"/><rect x="190" y="135" width="20" height="20" fill="#5fdc42"/><rect x="210" y="135" width="20" height="20" fill="#5fdc42"/><rect x="230" y="135" width="20" height="20" fill="#5fdc42"/><rect x="250" y="135" width="20" height="20" fill="#5fdc42"/><rect x="270" y="135" width="20" height="20" fill="#5fdc42"/><rect x="290" y="135" width="20" height="20" fill="#50c348"/><rect x="310" y="135" width="20" height="20" fill="#5fdc42"/><rect x="330" y="135" width="20" height="20" fill="#50c348"/><rect x="350" y="135" width="20" height="20" fill="#50c348"/><rect x="370" y="135" width="20" height="20" fill="#50c348"/><rect x="390" y="135" width="20" height="20" fill="#42a77e"/><rect x="410" y="135" width="20" height="20" fill="#42a77e"/><rect x="430" y="135" width="20" height="20" fill="#42a77e"/><rect x="450" y="135" width="20" height="20" fill="#42a77e"/><rect x="30" y="155" width="20" height="20" fill="#50c348"/><rect x="50" y="155" width="20" height="20" fill="#50c348"/><rect x="70" y="155" width="20" height="20" fill="#50c348"/><rect x="90" y="155" width="20" height="20" fill="#50c348"/><rect x="110" y="155" width="20" height="20" fill="#50c348"/><rect x="130" y="155" width="20" height="20" fill="#50c348"/><rect x="150" y="155" width="20" height="20" fill="#5fdc42"/><rect x="170" y="155" width="20" height="20" fill="#5fdc42"/><rect x="190" y="155" width="20" height="20" fill="#5fdc42"/><rect x="210" y="155" width="20" height="20" fill="#5fdc42"/><rect x="230" y="155" width="20" height="20" fill="#5fdc42"/><rect x="250" y="155" width="20" height="20" fill="#5fdc42"/><rect x="270" y="155" width="20" height="20" fill="#5fdc42"/><rect x="290" y="155" width="20" height="20" fill="#50c348"/><rect x="310" y="155" width="20" height="20" fill="#e2f54c"/><rect x="330" y="155" width="20" height="20" fill="#50c348"/><rect x="350" y="155" width="20" height="20" fill="#5fdc42"/><rect x="370" y="155" width="20" height="20" fill="#50c348"/><rect x="390" y="155" width="20" height="20" fill="#42a77e"/><rect x="410" y="155" width="20" height="20" fill="#42a77e"/><rect x="430" y="155" width="20" height="20" fill="#42a77e"/><rect x="450" y="155" width="20" height="20" fill="#42a77e"/><rect x="30" y="175" width="20" height="20" fill="#50c348"/><rect x="50" y="175" width="20" height="20" fill="#50c348"/><rect x="70" y="175" width="20" height="20" fill="#50c348"/><rect x="90" y="175" width="20" height="20" fill="#50c348"/><rect x="110" y="175" width="20" height="20" fill="#50c348"/><rect x="130" y="175" width="20" height="20" fill="#50c348"/><rect x="150" y="175" width="20" height="20" fill="#5fdc42"/><rect x="170" y="175" width="20" height="20" fill="#5fdc42"/><rect x="190" y="175" width="20" height="20" fill="#5fdc42"/><rect x="210" y="175" width="20" height="20" fill="#5fdc42"/><rect x="230" y="175" width="20" height="20" fill="#5fdc42"/><rect x="250" y="175" width="20" height="20" fill="#5fdc42"/><rect x="270" y="175" width="20" height="20" fill="#5fdc42"/><rect x="290" y="175" width="20" height="20" fill="#50c348"/><rect x="310" y="175" width="20" height="20" fill="#e2f54c"/><rect x="330" y="175" width="20" height="20" fill="#50c348"/><rect x="350" y="175" width="20" height="20" fill="#50c348"/><rect x="370" y="175" width="20" height="20" fill="#42a77e"/><rect x="390" y="175" width="20" height="20" fill="#42a77e"/><rect x="410" y="175" width="20" height="20" fill="#42a77e"/><rect x="430" y="175" width="20" height="20" fill="#42a77e"/><rect x="450" y="175" width="20" height="20" fill="#42a77e"/><rect x="30" y="195" width="20" height="20" fill="#50c348"/><rect x="50" y="195" width="20" height="20" fill="#50c348"/><rect x="70" y="195" width="20" height="20" fill="#50c348"/><rect x="90" y="195" width="20" height="20" fill="#50c348"/><rect x="110" y="195" width="20" height="20" fill="#50c348"/><rect x="130" y="195" width="20" height="20" fill="#50c348"/><rect x="150" y="195" width="20" height="20" fill="#5fdc42"/><rect x="170" y="195" width="20" height="20" fill="#5fdc42"/><rect x="190" y="195" width="20" height="20" fill="#5fdc42"/><rect x="210" y="195" width="20" height="20" fill="#5fdc42"/><rect x="230" y="195" width="20" height="20" fill="#e2f54c"/><rect x="250" y="195" width="20" height="20" fill="#5fdc42"/><rect x="270" y="195" width="20" height="20" fill="#50c348"/><rect x="290" y="195" width="20" height="20" fill="#50c348"/><rect x="310" y="195" width="20" height="20" fill="#50c348"/><rect x="330" y="195" width="20" height="20" fill="#42a77e"/><rect x="350" y="195" width="20" height="20" fill="#42a77e"/><rect x="370" y="195" width="20" height="20" fill="#42a77e"/><rect x="390" y="195" width="20" height="20" fill="#42a77e"/><rect x="410" y="195" width="20" height="20" fill="#42a77e"/><rect x="430" y="195" width="20" height="20" fill="#42a77e"/><rect x="450" y="195" width="20" height="20" fill="#42a77e"/><rect x="30" y="215" width="20" height="20" fill="#50c348"/><rect x="50" y="215" width="20" height="20" fill="#50c348"/><rect x="70" y="215" width="20" height="20" fill="#50c348"/><rect x="90" y="215" width="20" height="20" fill="#50c348"/><rect x="110" y="215" width="20" height="20" fill="#50c348"/><rect x="130" y="215" width="20" height="20" fill="#50c348"/><rect x="150" y="215" width="20" height="20" fill="#5fdc42"/><rect x="170" y="215" width="20" height="20" fill="#5fdc42"/><rect x="190" y="215" width="20" height="20" fill="#5fdc42"/><rect x="210" y="215" width="20" height="20" fill="#5fdc42"/><rect x="230" y="215" width="20" height="20" fill="#5fdc42"/><rect x="250" y="215" width="20" height="20" fill="#e2f54c"/><rect x="270" y="215" width="20" height="20" fill="#42a77e"/><rect x="290" y="215" width="20" height="20" fill="#42a77e"/><rect x="310" y="215" width="20" height="20" fill="#50c348"/><rect x="330" y="215" width="20" height="20" fill="#5fdc42"/><rect x="350" y="215" width="20" height="20" fill="#50c348"/><rect x="370" y="215" width="20" height="20" fill="#50c348"/><rect x="390" y="215" width="20" height="20" fill="#50c348"/><rect x="410" y="215" width="20" height="20" fill="#50c348"/><rect x="430" y="215" width="20" height="20" fill="#50c348"/><rect x="450" y="215" width="20" height="20" fill="#50c348"/><rect x="30" y="235" width="20" height="20" fill="#50c348"/><rect x="50" y="235" width="20" height="20" fill="#50c348"/><rect x="70" y="235" width="20" height="20" fill="#50c348"/><rect x="90" y="235" width="20" height="20" fill="#50c348"/><rect x="110" y="235" width="20" height="20" fill="#50c348"/><rect x="130" y="235" width="20" height="20" fill="#50c348"/><rect x="150" y="235" width="20" height="20" fill="#5fdc42"/><rect x="170" y="235" width="20" height="20" fill="#5fdc42"/><rect x="190" y="235" width="20" height="20" fill="#5fdc42"/><rect x="210" y="235" width="20" height="20" fill="#5fdc42"/><rect x="230" y="235" width="20" height="20" fill="#5fdc42"/><rect x="250" y="235" width="20" height="20" fill="#e2f54c"/><rect x="270" y="235" width="20" height="20" fill="#50c348"/><rect x="290" y="235" width="20" height="20" fill="#42a77e"/><rect x="310" y="235" width="20" height="20" fill="#5fdc42"/><rect x="330" y="235" width="20" height="20" fill="#5fdc42"/><rect x="350" y="235" width="20" height="20" fill="#5fdc42"/><rect x="370" y="235" width="20" height="20" fill="#5fdc42"/><rect x="390" y="235" width="20" height="20" fill="#50c348"/><rect x="410" y="235" width="20" height="20" fill="#50c348"/><rect x="430" y="235" width="20" height="20" fill="#50c348"/><rect x="450" y="235" width="20" height="20" fill="#50c348"/><rect x="30" y="255" width="20" height="20" fill="#42a77e"/><rect x="50" y="255" width="20" height="20" fill="#42a77e"/><rect x="70" y="255" width="20" height="20" fill="#42a77e"/><rect x="90" y="255" width="20" height="20" fill="#42a77e"/><rect x="110" y="255" width="20" height="20" fill="#42a77e"/><rect x="130" y="255" width="20" height="20" fill="#42a77e"/><rect x="150" y="255" width="20" height="20" fill="#42a77e"/><rect x="170" y="255" width="20" height="20" fill="#5fdc42"/><rect x="190" y="255" width="20" height="20" fill="#5fdc42"/><rect x="210" y="255" width="20" height="20" fill="#5fdc42"/><rect x="230" y="255" width="20" height="20" fill="#5fdc42"/><rect x="250" y="255" width="20" height="20" fill="#50c348"/><rect x="270" y="255" width="20" height="20" fill="#50c348"/><rect x="290" y="255" width="20" height="20" fill="#50c348"/><rect x="310" y="255" width="20" height="20" fill="#5fdc42"/><rect x="330" y="255" width="20" height="20" fill="#5fdc42"/><rect x="350" y="255" width="20" height="20" fill="#5fdc42"/><rect x="370" y="255" width="20" height="20" fill="#5fdc42"/><rect x="390" y="255" width="20" height="20" fill="#5fdc42"/><rect x="410" y="255" width="20" height="20" fill="#5fdc42"/><rect x="430" y="255" width="20" height="20" fill="#5fdc42"/><rect x="450" y="255" width="20" height="20" fill="#5fdc42"/><rect x="30" y="275" width="20" height="20" fill="#50c348"/><rect x="50" y="275" width="20" height="20" fill="#50c348"/><rect x="70" y="275" width="20" height="20" fill="#50c348"/><rect x="90" y="275" width="20" height="20" fill="#50c348"/><rect x="110" y="275" width="20" height="20" fill="#50c348"/><rect x="130" y="275" width="20" height="20" fill="#33829b"/><rect x="150" y="275" width="20" height="20" fill="#50c348"/><rect x="170" y="275" width="20" height="20" fill="#33829b"/><rect x="190" y="275" width="20" height="20" fill="#5fdc42"/><rect x="210" y="275" width="20" height="20" fill="#5fdc42"/><rect x="230" y="275" width="20" height="20" fill="#5fdc42"/><rect x="250" y="275" width="20" height="20" fill="#42a77e"/><rect x="270" y="275" width="20" height="20" fill="#42a77e"/><rect x="290" y="275" width="20" height="20" fill="#50c348"/><rect x="310" y="275" width="20" height="20" fill="#5fdc42"/><rect x="330" y="275" width="20" height="20" fill="#5fdc42"/><rect x="350" y="275" width="20" height="20" fill="#a3ec48"/><rect x="370" y="275" width="20" height="20" fill="#5fdc42"/><rect x="390" y="275" width="20" height="20" fill="#50c348"/><rect x="410" y="275" width="20" height="20" fill="#50c348"/><rect x="430" y="275" width="20" height="20" fill="#50c348"/><rect x="450" y="275" width="20" height="20" fill="#50c348"/><rect x="30" y="295" width="20" height="20" fill="#245591"/><rect x="50" y="295" width="20" height="20" fill="#245591"/><rect x="70" y="295" width="20" height="20" fill="#245591"/><rect x="90" y="295" width="20" height="20" fill="#245591"/><rect x="110" y="295" width="20" height="20" fill="#245591"/><rect x="130" y="295" width="20" height="20" fill="#33829b"/><rect x="150" y="295" width="20" height="20" fill="#50c348"/><rect x="170" y="295" width="20" height="20" fill="#33829b"/><rect x="190" y="295" width="20" height="20" fill="#e2f54c"/><rect x="210" y="295" width="20" height="20" fill="#a3ec48"/><rect x="230" y="295" width="20" height="20" fill="#5fdc42"/><rect x="250" y="295" width="20" height="20" fill="#50c348"/><rect x="270" y="295" width="20" height="20" fill="#50c348"/><rect x="290" y="295" width="20" height="20" fill="#50c348"/><rect x="310" y="295" width="20" height="20" fill="#a3ec48"/><rect x="330" y="295" width="20" height="20" fill="#a3ec48"/><rect x="350" y="295" width="20" height="20" fill="#a3ec48"/><rect x="370" y="295" width="20" height="20" fill="#5fdc42"/><rect x="390" y="295" width="20" height="20" fill="#5fdc42"/><rect x="410" y="295" width="20" height="20" fill="#5fdc42"/><rect x="430" y="295" width="20" height="20" fill="#5fdc42"/><rect x="450" y="295" width="20" height="20" fill="#5fdc42"/><rect x="30" y="315" width="20" height="20" fill="#245591"/><rect x="50" y="315" width="20" height="20" fill="#245591"/><rect x="70" y="315" width="20" height="20" fill="#245591"/><rect x="90" y="315" width="20" height="20" fill="#245591"/><rect x="110" y="315" width="20" height="20" fill="#245591"/><rect x="130" y="315" width="20" height="20" fill="#245591"/><rect x="150" y="315" width="20" height="20" fill="#50c348"/><rect x="170" y="315" width="20" height="20" fill="#50c348"/><rect x="190" y="315" width="20" height="20" fill="#5fdc42"/><rect x="210" y="315" width="20" height="20" fill="#5fdc42"/><rect x="230" y="315" width="20" height="20" fill="#5fdc42"/><rect x="250" y="315" width="20" height="20" fill="#5fdc42"/><rect x="270" y="315" width="20" height="20" fill="#5fdc42"/><rect x="290" y="315" width="20" height="20" fill="#5fdc42"/><rect x="310" y="315" width="20" height="20" fill="#5fdc42"/><rect x="330" y="315" width="20" height="20" fill="#5fdc42"/><rect x="350" y="315" width="20" height="20" fill="#a3ec48"/><rect x="370" y="315" width="20" height="20" fill="#5fdc42"/><rect x="390" y="315" width="20" height="20" fill="#5fdc42"/><rect x="410" y="315" width="20" height="20" fill="#5fdc42"/><rect x="430" y="315" width="20" height="20" fill="#5fdc42"/><rect x="450" y="315" width="20" height="20" fill="#5fdc42"/><rect x="30" y="335" width="20" height="20" fill="#33829b"/><rect x="50" y="335" width="20" height="20" fill="#33829b"/><rect x="70" y="335" width="20" height="20" fill="#33829b"/><rect x="90" y="335" width="20" height="20" fill="#33829b"/><rect x="110" y="335" width="20" height="20" fill="#33829b"/><rect x="130" y="335" width="20" height="20" fill="#42a77e"/><rect x="150" y="335" width="20" height="20" fill="#50c348"/><rect x="170" y="335" width="20" height="20" fill="#50c348"/><rect x="190" y="335" width="20" height="20" fill="#50c348"/><rect x="210" y="335" width="20" height="20" fill="#50c348"/><rect x="230" y="335" width="20" height="20" fill="#42a77e"/><rect x="250" y="335" width="20" height="20" fill="#5fdc42"/><rect x="270" y="335" width="20" height="20" fill="#5fdc42"/><rect x="290" y="335" width="20" height="20" fill="#5fdc42"/><rect x="310" y="335" width="20" height="20" fill="#5fdc42"/><rect x="330" y="335" width="20" height="20" fill="#a3ec48"/><rect x="350" y="335" width="20" height="20" fill="#a3ec48"/><rect x="370" y="335" width="20" height="20" fill="#5fdc42"/><rect x="390" y="335" width="20" height="20" fill="#5fdc42"/><rect x="410" y="335" width="20" height="20" fill="#5fdc42"/><rect x="430" y="335" width="20" height="20" fill="#5fdc42"/><rect x="450" y="335" width="20" height="20" fill="#5fdc42"/><rect x="30" y="355" width="20" height="20" fill="#50c348"/><rect x="50" y="355" width="20" height="20" fill="#50c348"/><rect x="70" y="355" width="20" height="20" fill="#50c348"/><rect x="90" y="355" width="20" height="20" fill="#50c348"/><rect x="110" y="355" width="20" height="20" fill="#42a77e"/><rect x="130" y="355" width="20" height="20" fill="#33829b"/><rect x="150" y="355" width="20" height="20" fill="#42a77e"/><rect x="170" y="355" width="20" height="20" fill="#50c348"/><rect x="190" y="355" width="20" height="20" fill="#50c348"/><rect x="210" y="355" width="20" height="20" fill="#50c348"/><rect x="230" y="355" width="20" height="20" fill="#50c348"/><rect x="250" y="355" width="20" height="20" fill="#5fdc42"/><rect x="270" y="355" width="20" height="20" fill="#5fdc42"/><rect x="290" y="355" width="20" height="20" fill="#5fdc42"/><rect x="310" y="355" width="20" height="20" fill="#5fdc42"/><rect x="330" y="355" width="20" height="20" fill="#a3ec48"/><rect x="350" y="355" width="20" height="20" fill="#a3ec48"/><rect x="370" y="355" width="20" height="20" fill="#a3ec48"/><rect x="390" y="355" width="20" height="20" fill="#a3ec48"/><rect x="410" y="355" width="20" height="20" fill="#5fdc42"/><rect x="430" y="355" width="20" height="20" fill="#e2f54c"/><rect x="450" y="355" width="20" height="20" fill="#5fdc42"/><rect x="30" y="375" width="20" height="20" fill="#5fdc42"/><rect x="50" y="375" width="20" height="20" fill="#5fdc42"/><rect x="70" y="375" width="20" height="20" fill="#5fdc42"/><rect x="90" y="375" width="20" height="20" fill="#5fdc42"/><rect x="110" y="375" width="20" height="20" fill="#50c348"/><rect x="130" y="375" width="20" height="20" fill="#42a77e"/><rect x="150" y="375" width="20" height="20" fill="#50c348"/><rect x="170" y="375" width="20" height="20" fill="#5fdc42"/><rect x="190" y="375" width="20" height="20" fill="#42a77e"/><rect x="210" y="375" width="20" height="20" fill="#42a77e"/><rect x="230" y="375" width="20" height="20" fill="#5fdc42"/><rect x="250" y="375" width="20" height="20" fill="#5fdc42"/><rect x="270" y="375" width="20" height="20" fill="#50c348"/><rect x="290" y="375" width="20" height="20" fill="#5fdc42"/><rect x="310" y="375" width="20" height="20" fill="#5fdc42"/><rect x="330" y="375" width="20" height="20" fill="#5fdc42"/><rect x="350" y="375" width="20" height="20" fill="#5fdc42"/><rect x="370" y="375" width="20" height="20" fill="#5fdc42"/><rect x="390" y="375" width="20" height="20" fill="#5fdc42"/><rect x="410" y="375" width="20" height="20" fill="#5fdc42"/><rect x="430" y="375" width="20" height="20" fill="#a3ec48"/><rect x="450" y="375" width="20" height="20" fill="#a3ec48"/><rect x="30" y="395" width="20" height="20" fill="#5fdc42"/><rect x="50" y="395" width="20" height="20" fill="#5fdc42"/><rect x="70" y="395" width="20" height="20" fill="#5fdc42"/><rect x="90" y="395" width="20" height="20" fill="#5fdc42"/><rect x="110" y="395" width="20" height="20" fill="#50c348"/><rect x="130" y="395" width="20" height="20" fill="#50c348"/><rect x="150" y="395" width="20" height="20" fill="#5fdc42"/><rect x="170" y="395" width="20" height="20" fill="#5fdc42"/><rect x="190" y="395" width="20" height="20" fill="#42a77e"/><rect x="210" y="395" width="20" height="20" fill="#50c348"/><rect x="230" y="395" width="20" height="20" fill="#5fdc42"/><rect x="250" y="395" width="20" height="20" fill="#50c348"/><rect x="270" y="395" width="20" height="20" fill="#50c348"/><rect x="290" y="395" width="20" height="20" fill="#5fdc42"/><rect x="310" y="395" width="20" height="20" fill="#5fdc42"/><rect x="330" y="395" width="20" height="20" fill="#5fdc42"/><rect x="350" y="395" width="20" height="20" fill="#a3ec48"/><rect x="370" y="395" width="20" height="20" fill="#5fdc42"/><rect x="390" y="395" width="20" height="20" fill="#5fdc42"/><rect x="410" y="395" width="20" height="20" fill="#5fdc42"/><rect x="430" y="395" width="20" height="20" fill="#5fdc42"/><rect x="450" y="395" width="20" height="20" fill="#5fdc42"/><rect x="30" y="415" width="20" height="20" fill="#5fdc42"/><rect x="50" y="415" width="20" height="20" fill="#5fdc42"/><rect x="70" y="415" width="20" height="20" fill="#5fdc42"/><rect x="90" y="415" width="20" height="20" fill="#5fdc42"/><rect x="110" y="415" width="20" height="20" fill="#42a77e"/><rect x="130" y="415" width="20" height="20" fill="#42a77e"/><rect x="150" y="415" width="20" height="20" fill="#50c348"/><rect x="170" y="415" width="20" height="20" fill="#5fdc42"/><rect x="190" y="415" width="20" height="20" fill="#50c348"/><rect x="210" y="415" width="20" height="20" fill="#42a77e"/><rect x="230" y="415" width="20" height="20" fill="#42a77e"/><rect x="250" y="415" width="20" height="20" fill="#50c348"/><rect x="270" y="415" width="20" height="20" fill="#50c348"/><rect x="290" y="415" width="20" height="20" fill="#5fdc42"/><rect x="310" y="415" width="20" height="20" fill="#5fdc42"/><rect x="330" y="415" width="20" height="20" fill="#5fdc42"/><rect x="350" y="415" width="20" height="20" fill="#a3ec48"/><rect x="370" y="415" width="20" height="20" fill="#5fdc42"/><rect x="390" y="415" width="20" height="20" fill="#5fdc42"/><rect x="410" y="415" width="20" height="20" fill="#5fdc42"/><rect x="430" y="415" width="20" height="20" fill="#5fdc42"/><rect x="450" y="415" width="20" height="20" fill="#5fdc42"/><rect x="30" y="435" width="20" height="20" fill="#5fdc42"/><rect x="50" y="435" width="20" height="20" fill="#5fdc42"/><rect x="70" y="435" width="20" height="20" fill="#5fdc42"/><rect x="90" y="435" width="20" height="20" fill="#5fdc42"/><rect x="110" y="435" width="20" height="20" fill="#50c348"/><rect x="130" y="435" width="20" height="20" fill="#50c348"/><rect x="150" y="435" width="20" height="20" fill="#50c348"/><rect x="170" y="435" width="20" height="20" fill="#50c348"/><rect x="190" y="435" width="20" height="20" fill="#42a77e"/><rect x="210" y="435" width="20" height="20" fill="#50c348"/><rect x="230" y="435" width="20" height="20" fill="#5fdc42"/><rect x="250" y="435" width="20" height="20" fill="#5fdc42"/><rect x="270" y="435" width="20" height="20" fill="#50c348"/><rect x="290" y="435" width="20" height="20" fill="#5fdc42"/><rect x="310" y="435" width="20" height="20" fill="#a3ec48"/><rect x="330" y="435" width="20" height="20" fill="#5fdc42"/><rect x="350" y="435" width="20" height="20" fill="#5fdc42"/><rect x="370" y="435" width="20" height="20" fill="#5fdc42"/><rect x="390" y="435" width="20" height="20" fill="#5fdc42"/><rect x="410" y="435" width="20" height="20" fill="#5fdc42"/><rect x="430" y="435" width="20" height="20" fill="#5fdc42"/><rect x="450" y="435" width="20" height="20" fill="#5fdc42"/><rect x="30" y="455" width="20" height="20" fill="#5fdc42"/><rect x="50" y="455" width="20" height="20" fill="#5fdc42"/><rect x="70" y="455" width="20" height="20" fill="#5fdc42"/><rect x="90" y="455" width="20" height="20" fill="#42a77e"/><rect x="110" y="455" width="20" height="20" fill="#42a77e"/><rect x="130" y="455" width="20" height="20" fill="#50c348"/><rect x="150" y="455" width="20" height="20" fill="#50c348"/><rect x="170" y="455" width="20" height="20" fill="#5fdc42"/><rect x="190" y="455" width="20" height="20" fill="#42a77e"/><rect x="210" y="455" width="20" height="20" fill="#42a77e"/><rect x="230" y="455" width="20" height="20" fill="#50c348"/><rect x="250" y="455" width="20" height="20" fill="#50c348"/><rect x="270" y="455" width="20" height="20" fill="#50c348"/><rect x="290" y="455" width="20" height="20" fill="#a3ec48"/><rect x="310" y="455" width="20" height="20" fill="#5fdc42"/><rect x="330" y="455" width="20" height="20" fill="#5fdc42"/><rect x="350" y="455" width="20" height="20" fill="#5fdc42"/><rect x="370" y="455" width="20" height="20" fill="#5fdc42"/><rect x="390" y="455" width="20" height="20" fill="#5fdc42"/><rect x="410" y="455" width="20" height="20" fill="#5fdc42"/><rect x="430" y="455" width="20" height="20" fill="#5fdc42"/><rect x="450" y="455" width="20" height="20" fill="#5fdc42"/><rect x="30" y="475" width="20" height="20" fill="#5fdc42"/><rect x="50" y="475" width="20" height="20" fill="#5fdc42"/><rect x="70" y="475" width="20" height="20" fill="#5fdc42"/><rect x="90" y="475" width="20" height="20" fill="#50c348"/><rect x="110" y="475" width="20" height="20" fill="#42a77e"/><rect x="130" y="475" width="20" height="20" fill="#5fdc42"/><rect x="150" y="475" width="20" height="20" fill="#50c348"/><rect x="170" y="475" width="20" height="20" fill="#42a77e"/><rect x="190" y="475" width="20" height="20" fill="#42a77e"/><rect x="210" y="475" width="20" height="20" fill="#42a77e"/><rect x="230" y="475" width="20" height="20" fill="#50c348"/><rect x="250" y="475" width="20" height="20" fill="#50c348"/><rect x="270" y="475" width="20" height="20" fill="#50c348"/><rect x="290" y="475" width="20" height="20" fill="#5fdc42"/><rect x="310" y="475" width="20" height="20" fill="#a3ec48"/><rect x="330" y="475" width="20" height="20" fill="#a3ec48"/><rect x="350" y="475" width="20" height="20" fill="#5fdc42"/><rect x="370" y="475" width="20" height="20" fill="#5fdc42"/><rect x="390" y="475" width="20" height="20" fill="#5fdc42"/><rect x="410" y="475" width="20" height="20" fill="#5fdc42"/><rect x="430" y="475" width="20" height="20" fill="#5fdc42"/><rect x="450" y="475" width="20" height="20" fill="#5fdc42"/><rect x="30" y="495" width="20" height="20" fill="#a3ec48"/><rect x="50" y="495" width="20" height="20" fill="#a3ec48"/><rect x="70" y="495" width="20" height="20" fill="#5fdc42"/><rect x="90" y="495" width="20" height="20" fill="#5fdc42"/><rect x="110" y="495" width="20" height="20" fill="#5fdc42"/><rect x="130" y="495" width="20" height="20" fill="#5fdc42"/><rect x="150" y="495" width="20" height="20" fill="#42a77e"/><rect x="170" y="495" width="20" height="20" fill="#42a77e"/><rect x="190" y="495" width="20" height="20" fill="#5fdc42"/><rect x="210" y="495" width="20" height="20" fill="#5fdc42"/><rect x="230" y="495" width="20" height="20" fill="#5fdc42"/><rect x="250" y="495" width="20" height="20" fill="#5fdc42"/><rect x="270" y="495" width="20" height="20" fill="#5fdc42"/><rect x="290" y="495" width="20" height="20" fill="#5fdc42"/><rect x="310" y="495" width="20" height="20" fill="#5fdc42"/><rect x="330" y="495" width="20" height="20" fill="#5fdc42"/><rect x="350" y="495" width="20" height="20" fill="#a3ec48"/><rect x="370" y="495" width="20" height="20" fill="#a3ec48"/><rect x="390" y="495" width="20" height="20" fill="#5fdc42"/><rect x="410" y="495" width="20" height="20" fill="#5fdc42"/><rect x="430" y="495" width="20" height="20" fill="#5fdc42"/><rect x="450" y="495" width="20" height="20" fill="#5fdc42"/><rect x="30" y="515" width="20" height="20" fill="#a3ec48"/><rect x="50" y="515" width="20" height="20" fill="#a3ec48"/><rect x="70" y="515" width="20" height="20" fill="#a3ec48"/><rect x="90" y="515" width="20" height="20" fill="#5fdc42"/><rect x="110" y="515" width="20" height="20" fill="#a3ec48"/><rect x="130" y="515" width="20" height="20" fill="#5fdc42"/><rect x="150" y="515" width="20" height="20" fill="#33829b"/><rect x="170" y="515" width="20" height="20" fill="#42a77e"/><rect x="190" y="515" width="20" height="20" fill="#5fdc42"/><rect x="210" y="515" width="20" height="20" fill="#5fdc42"/><rect x="230" y="515" width="20" height="20" fill="#5fdc42"/><rect x="250" y="515" width="20" height="20" fill="#e2f54c"/><rect x="270" y="515" width="20" height="20" fill="#5fdc42"/><rect x="290" y="515" width="20" height="20" fill="#5fdc42"/><rect x="310" y="515" width="20" height="20" fill="#5fdc42"/><rect x="330" y="515" width="20" height="20" fill="#5fdc42"/><rect x="350" y="515" width="20" height="20" fill="#a3ec48"/><rect x="370" y="515" width="20" height="20" fill="#a3ec48"/><rect x="390" y="515" width="20" height="20" fill="#5fdc42"/><rect x="410" y="515" width="20" height="20" fill="#5fdc42"/><rect x="430" y="515" width="20" height="20" fill="#5fdc42"/><rect x="450" y="515" width="20" height="20" fill="#5fdc42"/><rect x="30" y="535" width="20" height="20" fill="#5fdc42"/><rect x="50" y="535" width="20" height="20" fill="#5fdc42"/><rect x="70" y="535" width="20" height="20" fill="#a3ec48"/><rect x="90" y="535" width="20" height="20" fill="#5fdc42"/><rect x="110" y="535" width="20" height="20" fill="#5fdc42"/><rect x="130" y="535" width="20" height="20" fill="#5fdc42"/><rect x="150" y="535" width="20" height="20" fill="#42a77e"/><rect x="170" y="535" width="20" height="20" fill="#5fdc42"/><rect x="190" y="535" width="20" height="20" fill="#5fdc42"/><rect x="210" y="535" width="20" height="20" fill="#a3ec48"/><rect x="230" y="535" width="20" height="20" fill="#5fdc42"/><rect x="250" y="535" width="20" height="20" fill="#e2f54c"/><rect x="270" y="535" width="20" height="20" fill="#5fdc42"/><rect x="290" y="535" width="20" height="20" fill="#5fdc42"/><rect x="310" y="535" width="20" height="20" fill="#5fdc42"/><rect x="330" y="535" width="20" height="20" fill="#a3ec48"/><rect x="350" y="535" width="20" height="20" fill="#5fdc42"/><rect x="370" y="535" width="20" height="20" fill="#a3ec48"/><rect x="390" y="535" width="20" height="20" fill="#5fdc42"/><rect x="410" y="535" width="20" height="20" fill="#5fdc42"/><rect x="430" y="535" width="20" height="20" fill="#5fdc42"/><rect x="450" y="535" width="20" height="20" fill="#5fdc42"/><rect x="30" y="555" width="20" height="20" fill="#5fdc42"/><rect x="50" y="555" width="20" height="20" fill="#5fdc42"/><rect x="70" y="555" width="20" height="20" fill="#5fdc42"/><rect x="90" y="555" width="20" height="20" fill="#5fdc42"/><rect x="110" y="555" width="20" height="20" fill="#50c348"/><rect x="130" y="555" width="20" height="20" fill="#a3ec48"/><rect x="150" y="555" width="20" height="20" fill="#5fdc42"/><rect x="170" y="555" width="20" height="20" fill="#5fdc42"/><rect x="190" y="555" width="20" height="20" fill="#5fdc42"/><rect x="210" y="555" width="20" height="20" fill="#5fdc42"/><rect x="230" y="555" width="20" height="20" fill="#5fdc42"/><rect x="250" y="555" width="20" height="20" fill="#a3ec48"/><rect x="270" y="555" width="20" height="20" fill="#5fdc42"/><rect x="290" y="555" width="20" height="20" fill="#5fdc42"/><rect x="310" y="555" width="20" height="20" fill="#5fdc42"/><rect x="330" y="555" width="20" height="20" fill="#5fdc42"/><rect x="350" y="555" width="20" height="20" fill="#5fdc42"/><rect x="370" y="555" width="20" height="20" fill="#5fdc42"/><rect x="390" y="555" width="20" height="20" fill="#5fdc42"/><rect x="410" y="555" width="20" height="20" fill="#5fdc42"/><rect x="430" y="555" width="20" height="20" fill="#5fdc42"/><rect x="450" y="555" width="20" height="20" fill="#5fdc42"/><rect x="30" y="575" width="20" height="20" fill="#5fdc42"/><rect x="50" y="575" width="20" height="20" fill="#5fdc42"/><rect x="70" y="575" width="20" height="20" fill="#a3ec48"/><rect x="90" y="575" width="20" height="20" fill="#5fdc42"/><rect x="110" y="575" width="20" height="20" fill="#50c348"/><rect x="130" y="575" width="20" height="20" fill="#a3ec48"/><rect x="150" y="575" width="20" height="20" fill="#a3ec48"/><rect x="170" y="575" width="20" height="20" fill="#a3ec48"/><rect x="190" y="575" width="20" height="20" fill="#5fdc42"/><rect x="210" y="575" width="20" height="20" fill="#50c348"/><rect x="230" y="575" width="20" height="20" fill="#e2f54c"/><rect x="250" y="575" width="20" height="20" fill="#e2f54c"/><rect x="270" y="575" width="20" height="20" fill="#5fdc42"/><rect x="290" y="575" width="20" height="20" fill="#a3ec48"/><rect x="310" y="575" width="20" height="20" fill="#5fdc42"/><rect x="330" y="575" width="20" height="20" fill="#5fdc42"/><rect x="350" y="575" width="20" height="20" fill="#5fdc42"/><rect x="370" y="575" width="20" height="20" fill="#a3ec48"/><rect x="390" y="575" width="20" height="20" fill="#a3ec48"/><rect x="410" y="575" width="20" height="20" fill="#5fdc42"/><rect x="430" y="575" width="20" height="20" fill="#5fdc42"/><rect x="450" y="575" width="20" height="20" fill="#5fdc42"/><rect x="30" y="595" width="20" height="20" fill="#5fdc42"/><rect x="50" y="595" width="20" height="20" fill="#5fdc42"/><rect x="70" y="595" width="20" height="20" fill="#5fdc42"/><rect x="90" y="595" width="20" height="20" fill="#50c348"/><rect x="110" y="595" width="20" height="20" fill="#50c348"/><rect x="130" y="595" width="20" height="20" fill="#5fdc42"/><rect x="150" y="595" width="20" height="20" fill="#a3ec48"/><rect x="170" y="595" width="20" height="20" fill="#a3ec48"/><rect x="190" y="595" width="20" height="20" fill="#a3ec48"/><rect x="210" y="595" width="20" height="20" fill="#e2f54c"/><rect x="230" y="595" width="20" height="20" fill="#e2f54c"/><rect x="250" y="595" width="20" height="20" fill="#a3ec48"/><rect x="270" y="595" width="20" height="20" fill="#5fdc42"/><rect x="290" y="595" width="20" height="20" fill="#a3ec48"/><rect x="310" y="595" width="20" height="20" fill="#5fdc42"/><rect x="330" y="595" width="20" height="20" fill="#5fdc42"/><rect x="350" y="595" width="20" height="20" fill="#a3ec48"/><rect x="370" y="595" width="20" height="20" fill="#5fdc42"/><rect x="390" y="595" width="20" height="20" fill="#5fdc42"/><rect x="410" y="595" width="20" height="20" fill="#5fdc42"/><rect x="430" y="595" width="20" height="20" fill="#5fdc42"/><rect x="450" y="595" width="20" height="20" fill="#5fdc42"/><rect x="30" y="615" width="20" height="20" fill="#42a77e"/><rect x="50" y="615" width="20" height="20" fill="#42a77e"/><rect x="70" y="615" width="20" height="20" fill="#42a77e"/><rect x="90" y="615" width="20" height="20" fill="#5fdc42"/><rect x="110" y="615" width="20" height="20" fill="#5fdc42"/><rect x="130" y="615" width="20" height="20" fill="#5fdc42"/><rect x="150" y="615" width="20" height="20" fill="#e2f54c"/><rect x="170" y="615" width="20" height="20" fill="#a3ec48"/><rect x="190" y="615" width="20" height="20" fill="#a3ec48"/><rect x="210" y="615" width="20" height="20" fill="#e2f54c"/><rect x="230" y="615" width="20" height="20" fill="#e2f54c"/><rect x="250" y="615" width="20" height="20" fill="#e2f54c"/><rect x="270" y="615" width="20" height="20" fill="#e2f54c"/><rect x="290" y="615" width="20" height="20" fill="#a3ec48"/><rect x="310" y="615" width="20" height="20" fill="#a3ec48"/><rect x="330" y="615" width="20" height="20" fill="#a3ec48"/><rect x="350" y="615" width="20" height="20" fill="#5fdc42"/><rect x="370" y="615" width="20" height="20" fill="#a3ec48"/><rect x="390" y="615" width="20" height="20" fill="#e2f54c"/><rect x="410" y="615" width="20" height="20" fill="#5fdc42"/><rect x="430" y="615" width="20" height="20" fill="#5fdc42"/><rect x="450" y="615" width="20" height="20" fill="#5fdc42"/><rect x="30" y="635" width="20" height="20" fill="#42a77e"/><rect x="50" y="635" width="20" height="20" fill="#42a77e"/><rect x="70" y="635" width="20" height="20" fill="#42a77e"/><rect x="90" y="635" width="20" height="20" fill="#50c348"/><rect x="110" y="635" width="20" height="20" fill="#5fdc42"/><rect x="130" y="635" width="20" height="20" fill="#5fdc42"/><rect x="150" y="635" width="20" height="20" fill="#5fdc42"/><rect x="170" y="635" width="20" height="20" fill="#a3ec48"/><rect x="190" y="635" width="20" height="20" fill="#a3ec48"/><rect x="210" y="635" width="20" height="20" fill="#e2f54c"/><rect x="230" y="635" width="20" height="20" fill="#e2f54c"/><rect x="250" y="635" width="20" height="20" fill="#e2f54c"/><rect x="270" y="635" width="20" height="20" fill="#a3ec48"/><rect x="290" y="635" width="20" height="20" fill="#a3ec48"/><rect x="310" y="635" width="20" height="20" fill="#e2f54c"/><rect x="330" y="635" width="20" height="20" fill="#a3ec48"/><rect x="350" y="635" width="20" height="20" fill="#5fdc42"/><rect x="370" y="635" width="20" height="20" fill="#e2f54c"/><rect x="390" y="635" width="20" height="20" fill="#5fdc42"/><rect x="410" y="635" width="20" height="20" fill="#5fdc42"/><rect x="430" y="635" width="20" height="20" fill="#5fdc42"/><rect x="450" y="635" width="20" height="20" fill="#5fdc42"/><rect x="30" y="655" width="20" height="20" fill="#42a77e"/><rect x="50" y="655" width="20" height="20" fill="#42a77e"/><rect x="70" y="655" width="20" height="20" fill="#42a77e"/><rect x="90" y="655" width="20" height="20" fill="#42a77e"/><rect x="110" y="655" width="20" height="20" fill="#5fdc42"/><rect x="130" y="655" width="20" height="20" fill="#5fdc42"/><rect x="150" y="655" width="20" height="20" fill="#5fdc42"/><rect x="170" y="655" width="20" height="20" fill="#a3ec48"/><rect x="190" y="655" width="20" height="20" fill="#e2f54c"/><rect x="210" y="655" width="20" height="20" fill="#e2f54c"/><rect x="230" y="655" width="20" height="20" fill="#e2f54c"/><rect x="250" y="655" width="20" height="20" fill="#e2f54c"/><rect x="270" y="655" width="20" height="20" fill="#5fdc42"/><rect x="290" y="655" width="20" height="20" fill="#5fdc42"/><rect x="310" y="655" width="20" height="20" fill="#e2f54c"/><rect x="330" y="655" width="20" height="20" fill="#e2f54c"/><rect x="350" y="655" width="20" height="20" fill="#5fdc42"/><rect x="370" y="655" width="20" height="20" fill="#5fdc42"/><rect x="390" y="655" width="20" height="20" fill="#5fdc42"/><rect x="410" y="655" width="20" height="20" fill="#5fdc42"/><rect x="430" y="655" width="20" height="20" fill="#5fdc42"/><rect x="450" y="655" width="20" height="20" fill="#5fdc42"/><rect x="30" y="675" width="20" height="20" fill="#42a77e"/><rect x="50" y="675" width="20" height="20" fill="#42a77e"/><rect x="70" y="675" width="20" height="20" fill="#42a77e"/><rect x="90" y="675" width="20" height="20" fill="#5fdc42"/><rect x="110" y="675" width="20" height="20" fill="#5fdc42"/><rect x="130" y="675" width="20" height="20" fill="#a3ec48"/><rect x="150" y="675" width="20" height="20" fill="#5fdc42"/><rect x="170" y="675" width="20" height="20" fill="#a3ec48"/><rect x="190" y="675" width="20" height="20" fill="#e2f54c"/><rect x="210" y="675" width="20" height="20" fill="#e2f54c"/><rect x="230" y="675" width="20" height="20" fill="#e2f54c"/><rect x="250" y="675" width="20" height="20" fill="#e2f54c"/><rect x="270" y="675" width="20" height="20" fill="#5fdc42"/><rect x="290" y="675" width="20" height="20" fill="#5fdc42"/><rect x="310" y="675" width="20" height="20" fill="#e2f54c"/><rect x="330" y="675" width="20" height="20" fill="#e2f54c"/><rect x="350" y="675" width="20" height="20" fill="#5fdc42"/><rect x="370" y="675" width="20" height="20" fill="#5fdc42"/><rect x="390" y="675" width="20" height="20" fill="#5fdc42"/><rect x="410" y="675" width="20" height="20" fill="#5fdc42"/><rect x="430" y="675" width="20" height="20" fill="#5fdc42"/><rect x="450" y="675" width="20" height="20" fill="#5fdc42"/><rect x="30" y="695" width="20" height="20" fill="#42a77e"/><rect x="50" y="695" width="20" height="20" fill="#42a77e"/><rect x="70" y="695" width="20" height="20" fill="#42a77e"/><rect x="90" y="695" width="20" height="20" fill="#5fdc42"/><rect x="110" y="695" width="20" height="20" fill="#5fdc42"/><rect x="130" y="695" width="20" height="20" fill="#5fdc42"/><rect x="150" y="695" width="20" height="20" fill="#a3ec48"/><rect x="170" y="695" width="20" height="20" fill="#e2f54c"/><rect x="190" y="695" width="20" height="20" fill="#a3ec48"/><rect x="210" y="695" width="20" height="20" fill="#e2f54c"/><rect x="230" y="695" width="20" height="20" fill="#e2f54c"/><rect x="250" y="695" width="20" height="20" fill="#e2f54c"/><rect x="270" y="695" width="20" height="20" fill="#5fdc42"/><rect x="290" y="695" width="20" height="20" fill="#5fdc42"/><rect x="310" y="695" width="20" height="20" fill="#5fdc42"/><rect x="330" y="695" width="20" height="20" fill="#a3ec48"/><rect x="350" y="695" width="20" height="20" fill="#5fdc42"/><rect x="370" y="695" width="20" height="20" fill="#50c348"/><rect x="390" y="695" width="20" height="20" fill="#50c348"/><rect x="410" y="695" width="20" height="20" fill="#50c348"/><rect x="430" y="695" width="20" height="20" fill="#50c348"/><rect x="450" y="695" width="20" height="20" fill="#50c348"/><rect x="30" y="715" width="20" height="20" fill="#42a77e"/><rect x="50" y="715" width="20" height="20" fill="#42a77e"/><rect x="70" y="715" width="20" height="20" fill="#42a77e"/><rect x="90" y="715" width="20" height="20" fill="#5fdc42"/><rect x="110" y="715" width="20" height="20" fill="#5fdc42"/><rect x="130" y="715" width="20" height="20" fill="#5fdc42"/><rect x="150" y="715" width="20" height="20" fill="#a3ec48"/><rect x="170" y="715" width="20" height="20" fill="#e2f54c"/><rect x="190" y="715" width="20" height="20" fill="#e2f54c"/><rect x="210" y="715" width="20" height="20" fill="#e2f54c"/><rect x="230" y="715" width="20" height="20" fill="#e2f54c"/><rect x="250" y="715" width="20" height="20" fill="#e2f54c"/><rect x="270" y="715" width="20" height="20" fill="#5fdc42"/><rect x="290" y="715" width="20" height="20" fill="#5fdc42"/><rect x="310" y="715" width="20" height="20" fill="#5fdc42"/><rect x="330" y="715" width="20" height="20" fill="#a3ec48"/><rect x="350" y="715" width="20" height="20" fill="#5fdc42"/><rect x="370" y="715" width="20" height="20" fill="#50c348"/><rect x="390" y="715" width="20" height="20" fill="#50c348"/><rect x="410" y="715" width="20" height="20" fill="#50c348"/><rect x="430" y="715" width="20" height="20" fill="#50c348"/><rect x="450" y="715" width="20" height="20" fill="#50c348"/></g></g>
<g fill="none" stroke="#3a3a2a" stroke-width="0.9" stroke-opacity="0.75"><path d="M207.4,305.7 L214.4,306.8 L221.4,307.9 L228.4,309.0 L235.4,310.0 L242.4,311.1 L249.5,312.1 L256.5,313.1 L263.5,314.0 L270.5,315.0 L277.6,315.9 L284.6,316.9 L291.6,317.8 L298.7,318.7 L305.7,319.5 L312.8,320.4 L319.8,321.2 L326.9,322.0 L333.9,322.8 L341.0,323.6 L348.0,324.3 L355.1,325.1 L362.1,325.8 L369.2,326.5 L376.2,327.2 L383.3,327.9 L390.4,328.5 L397.4,329.1 L404.5,329.7"/><path d="M214.1,264.0 L212.4,274.5 L210.7,284.9 L209.1,295.3 L207.4,305.7"/><path d="M263.5,314.0 L262.0,324.7 L260.5,335.3 L259.0,345.9 L257.6,356.6 L256.1,367.2 L254.6,377.8 L253.1,388.4 L251.6,399.1 L250.1,409.7 L248.7,420.3 L247.2,430.9 L245.7,441.5 L244.2,452.1 L242.7,462.7 L241.3,473.3 L239.8,483.9 L238.3,494.4 L236.8,505.0 L235.3,515.6 L233.9,526.2 L232.4,536.7 L230.9,547.3 L229.4,557.8 L228.0,568.4 L226.5,578.9 L225.0,589.5 L223.6,600.0 L222.1,610.5 L220.6,621.0 L219.1,631.5 L217.7,642.1 L216.2,652.5 L214.7,663.0 L213.3,673.5 L211.8,684.0 L210.4,694.5 L208.9,704.9 L207.4,715.4"/><path d="M91.4,456.4 L98.8,457.8 L106.3,459.2 L113.7,460.6 L121.2,461.9 L128.6,463.3 L136.1,464.6 L143.6,465.9 L151.0,467.2 L158.5,468.4 L166.0,469.7 L173.5,470.9 L180.9,472.1 L188.4,473.3 L195.9,474.4 L203.4,475.6 L210.9,476.7 L218.4,477.8 L225.9,478.9 L233.4,479.9 L240.9,481.0 L248.4,482.0 L255.9,483.0 L263.4,484.0 L270.9,485.0 L278.4,485.9 L286.0,486.8 L293.5,487.7 L301.0,488.6 L308.5,489.5 L316.1,490.3 L323.6,491.1 L331.1,492.0 L338.6,492.7 L346.2,493.5 L353.7,494.2 L361.3,495.0 L368.8,495.7 L376.4,496.4 L383.9,497.0 L391.4,497.7 L399.0,498.3 L406.6,498.9 L414.1,499.5 L421.7,500.1"/></g><g clip-path="url(#clip)" fill="none" stroke="#33331c" stroke-width="0.9" stroke-opacity="0.72"><path d="M232.9,153.9 L249.7,159.0 L253.5,186.1 L252.3,206.7"/><path d="M253.5,188.7 L263.9,190.0 L274.2,195.1 L292.2,184.8 L296.1,183.5"/><path d="M296.1,150.0 L295.5,184.8"/><path d="M296.1,184.8 L330.9,187.4"/><path d="M316.7,152.6 L318.0,160.3 L328.4,170.6 L330.9,175.8"/><path d="M330.9,171.9 L363.2,173.2"/><path d="M330.9,175.8 L330.9,213.2"/><path d="M364.5,159.0 L360.6,218.3"/><path d="M390.3,161.6 L389.0,192.5"/><path d="M389.0,193.2 L413.5,195.1"/><path d="M387.7,192.5 L386.4,222.2"/><path d="M278.0,204.2 L297.4,206.7 L316.7,209.3 L330.9,213.2"/><path d="M330.9,214.5 L360.6,218.3 L387.7,222.2 L412.2,223.5"/><path d="M315.5,210.6 L314.2,262.2"/><path d="M356.7,218.3 L352.9,264.8"/><path d="M387.7,222.2 L386.4,259.6"/><path d="M241.9,259.6 L315.5,262.2 L354.2,264.8 L372.2,266.1"/><path d="M386.4,259.6 L408.3,261.6"/><path d="M372.2,266.1 L370.9,325.4"/><path d="M391.6,260.9 L390.3,300.9"/><path d="M372.2,299.6 L405.8,300.9"/><path d="M351.6,264.8 L349.0,328.0"/><path d="M297.4,263.5 L296.1,317.7"/><path d="M239.4,259.6 L236.8,309.9"/><path d="M222.6,211.9 L252.0,207.0"/><path d="M184.0,259.4 L186.8,285.0"/><path d="M124.6,290.5 L166.5,295.9"/><path d="M116.5,337.7 L167.8,344.5"/><path d="M113.8,352.6 L166.5,359.4"/><path d="M107.0,391.8 L148.9,398.6"/><path d="M103.0,412.1 L147.6,416.1"/><path d="M97.6,433.7 L140.8,437.7"/><path d="M169.2,295.9 L167.8,344.5 L166.5,359.4 L161.1,393.1"/><path d="M235.4,317.5 L231.4,359.4"/><path d="M231.4,359.4 L253.0,360.7"/><path d="M190.8,371.5 L225.9,374.2"/><path d="M225.9,374.2 L220.5,429.6"/><path d="M182.7,410.7 L220.5,414.8"/><path d="M147.6,397.2 L182.7,401.3"/><path d="M147.6,416.1 L180.0,418.8"/><path d="M215.1,312.1 L235.4,314.8"/><path d="M258.4,347.2 L300.0,351.3"/><path d="M254.3,371.5 L300.0,374.2"/><path d="M253.0,382.3 L300.0,387.7"/><path d="M247.6,414.8 L300.0,418.8"/><path d="M122.5,462.2 L124.4,451.8 L126.3,441.5"/><path d="M135.2,443.1 L142.7,444.4 L150.3,445.7 L157.9,447.0 L165.5,448.3 L173.1,449.5 L180.7,450.8 L188.3,452.0"/><path d="M154.6,418.7 L162.6,420.1 L170.7,421.4 L178.7,422.8 L186.8,424.0 L194.8,425.3 L202.9,426.6 L210.9,427.8 L219.0,429.0"/><path d="M218.3,414.0 L225.9,415.1 L233.6,416.3 L241.3,417.3 L248.9,418.4"/><path d="M173.1,470.8 L174.8,460.5 L176.5,450.1"/><path d="M373.6,369.3 L381.3,370.0 L389.0,370.7 L396.7,371.4 L404.4,372.1 L412.1,372.7 L419.8,373.3 L427.5,373.9 L435.3,374.5 L443.0,375.0 L450.7,375.5 L458.4,376.0"/><path d="M400.9,371.8 L401.8,361.3 L402.7,350.8 L403.6,340.2 L404.5,329.7"/><path d="M425.3,373.7 L426.1,363.2 L426.9,352.7 L427.7,342.2 L428.6,331.7"/><path d="M441.1,374.9 L441.9,364.4 L442.6,353.8 L443.4,343.3 L444.1,332.8"/><path d="M372.2,369.2 L373.2,358.7 L374.2,348.2 L375.2,337.7 L376.2,327.2"/><path d="M340.6,353.3 L342.2,338.6 L343.8,323.9"/><path d="M307.7,362.3 L309.0,351.8 L310.2,341.3 L311.5,330.9 L312.8,320.4"/><path d="M380.0,406.7 L387.6,407.4 L395.2,408.1 L402.8,408.7 L410.4,409.3 L418.0,409.9 L425.6,410.5 L433.2,411.1 L440.8,411.6 L448.4,412.1 L456.0,412.6"/><path d="M406.5,427.2 L407.4,416.3 L408.3,405.4 L409.2,394.4 L410.1,383.5 L411.0,372.6"/><path d="M421.2,446.5 L422.0,435.6 L422.9,424.7 L423.7,413.8 L424.5,402.8 L425.4,391.9"/><path d="M378.3,424.8 L379.3,413.9 L380.4,403.0 L381.4,392.0 L382.4,381.1 L383.4,370.2"/><path d="M342.0,421.2 L349.6,422.0 L357.1,422.7 L364.6,423.5 L372.1,424.2 L379.6,424.9 L387.1,425.5 L394.6,426.2 L402.2,426.8 L409.7,427.4 L417.2,428.0 L424.7,428.6 L432.3,429.2 L439.8,429.7 L447.3,430.2 L454.9,430.7"/><path d="M394.7,444.4 L402.0,445.0 L409.4,445.6 L416.8,446.2 L424.2,446.7 L431.5,447.3 L438.9,447.8 L446.3,448.3 L453.7,448.8"/><path d="M390.1,497.6 L391.1,485.7 L392.1,473.8 L393.1,462.0 L394.2,450.1 L395.2,438.2 L396.2,426.3"/><path d="M269.1,457.6 L276.7,458.6 L284.3,459.5 L291.9,460.4 L299.5,461.4 L307.1,462.2 L314.7,463.1 L322.3,464.0 L329.9,464.8 L337.5,465.6 L345.2,466.4 L352.8,467.1 L360.4,467.9 L368.0,468.6 L375.6,469.3 L383.3,470.0 L390.9,470.6 L398.5,471.3 L406.2,471.9 L413.8,472.5 L421.4,473.1 L429.1,473.6 L436.7,474.2 L444.3,474.7 L452.0,475.2"/><path d="M418.7,499.8 L419.7,486.4 L420.7,473.0"/><path d="M330.8,443.3 L332.1,431.3 L333.4,419.2 L334.7,407.2 L336.0,395.2"/><path d="M304.2,440.3 L305.8,427.6 L307.3,414.8 L308.8,402.1 L310.3,389.3"/><path d="M266.0,435.6 L274.1,436.6 L282.2,437.6 L290.3,438.6 L298.4,439.6 L306.5,440.6 L314.6,441.5 L322.7,442.4 L330.8,443.3"/><path d="M286.6,486.9 L288.2,473.6 L289.8,460.2"/><path d="M331.5,492.0 L332.8,480.0 L334.1,468.0 L335.4,455.9 L336.7,443.9"/><path d="M349.5,493.8 L350.7,482.0 L351.9,470.1 L353.1,458.3 L354.3,446.4 L355.5,434.6 L356.7,422.7"/><path d="M263.2,456.8 L264.6,445.8 L266.1,434.7 L267.6,423.7 L269.0,412.6"/><path d="M321.9,390.6 L329.4,391.5 L336.9,392.3 L344.4,393.1 L352.0,393.9 L359.5,394.6"/><path d="M234.4,522.4 L242.1,523.5 L249.8,524.5 L257.6,525.5 L265.3,526.5 L273.0,527.5 L280.8,528.5 L288.5,529.4 L296.2,530.3 L304.0,531.2 L311.7,532.1 L319.5,532.9"/><path d="M274.3,561.4 L275.6,550.8 L276.9,540.1 L278.3,529.4 L279.6,518.7 L280.9,508.0 L282.2,497.2 L283.6,486.5"/><path d="M299.7,530.7 L300.9,520.3 L302.1,509.9 L303.3,499.4 L304.5,489.0"/><path d="M315.8,566.2 L317.0,555.5 L318.2,544.8 L319.3,534.1 L320.5,523.4 L321.7,512.7 L322.8,501.9 L324.0,491.2"/><path d="M342.0,568.9 L343.1,558.2 L344.1,547.5 L345.2,536.8 L346.3,526.1 L347.4,515.3 L348.5,504.6 L349.5,493.8"/><path d="M385.2,572.9 L386.1,562.2 L387.0,551.4 L387.9,540.7 L388.8,530.0 L389.7,519.2 L390.7,508.5 L391.6,497.7"/><path d="M229.7,555.6 L237.4,556.7 L245.1,557.7 L252.8,558.7 L260.4,559.7 L268.1,560.7 L275.8,561.6 L283.5,562.6 L291.2,563.5 L298.9,564.3 L306.6,565.2 L314.3,566.1 L322.0,566.9 L329.7,567.7 L337.4,568.5 L345.1,569.2 L352.8,570.0 L360.5,570.7 L368.2,571.4 L375.9,572.1 L383.6,572.8 L391.3,573.4 L399.1,574.0 L406.8,574.6 L414.5,575.2"/><path d="M243.3,582.8 L251.3,583.9 L259.4,584.9 L267.4,585.9 L275.5,586.9 L283.5,587.8 L291.6,588.8 L299.6,589.7 L307.7,590.6 L315.7,591.5 L323.8,592.3 L331.9,593.2 L339.9,594.0 L348.0,594.8 L356.1,595.5 L364.1,596.3 L372.2,597.0 L380.3,597.7 L388.4,598.4 L396.4,599.0 L404.5,599.6 L412.6,600.3"/><path d="M235.6,640.7 L243.7,641.8 L251.9,642.9 L260.2,643.9 L268.4,644.9 L276.6,645.9 L284.8,646.8 L293.0,647.8 L301.2,648.7 L309.4,649.6 L317.6,650.4 L325.9,651.3 L334.1,652.1 L342.3,652.9 L350.6,653.7 L358.8,654.5 L367.0,655.2 L375.3,655.9 L383.5,656.6 L391.7,657.3 L400.0,657.9 L408.2,658.5"/><path d="M257.2,672.9 L265.5,673.9 L273.8,674.9 L282.0,675.9 L290.3,676.8 L298.6,677.7 L306.9,678.6 L315.2,679.5 L323.5,680.3 L331.7,681.2 L340.0,682.0 L348.3,682.8"/><path d="M235.6,640.7 L236.9,630.4 L238.3,620.1 L239.7,609.7 L241.1,599.4 L242.5,589.0 L243.9,578.7 L245.2,568.3 L246.6,557.9"/><path d="M255.7,685.3 L257.0,674.3 L258.4,663.3 L259.8,652.2 L261.2,641.2 L262.6,630.2 L263.9,619.1 L265.3,608.1 L266.7,597.0 L268.1,586.0"/><path d="M269.6,704.5 L271.0,692.8 L272.4,681.1 L273.8,669.4 L275.2,657.6 L276.6,645.9"/><path d="M299.7,698.7 L300.9,687.7 L302.1,676.7 L303.3,665.7 L304.5,654.6 L305.7,643.6 L307.0,632.5 L308.2,621.5 L309.4,610.4 L310.6,599.3 L311.8,588.2 L313.0,577.2 L314.3,566.1"/><path d="M331.9,702.1 L332.9,691.3 L334.0,680.6 L335.1,669.8 L336.2,659.0 L337.2,648.2 L338.3,637.4 L339.4,626.6 L340.4,615.8 L341.5,605.0 L342.6,594.2"/><path d="M346.4,703.5 L347.4,692.4 L348.5,681.4 L349.5,670.3 L350.6,659.3 L351.6,648.2 L352.7,637.1 L353.7,626.1 L354.7,615.0 L355.8,603.9 L356.8,592.8 L357.9,581.7 L358.9,570.6"/><path d="M381.9,706.6 L382.8,695.8 L383.7,685.0 L384.5,674.2 L385.4,663.4 L386.3,652.6 L387.2,641.8 L388.1,631.0 L389.0,620.2 L389.9,609.4 L390.8,598.6"/><path d="M239.6,683.2 L247.6,684.3 L255.7,685.3"/><path d="M98.9,534.6 L100.9,524.0 L102.9,513.4 L104.8,502.8 L106.8,492.2 L108.8,481.6 L110.8,471.0 L112.7,460.4"/><path d="M171.8,585.2 L173.6,574.0 L175.3,562.9 L177.1,551.7 L178.8,540.5 L180.6,529.4 L182.4,518.2 L184.2,507.0 L185.9,495.8 L187.7,484.6 L189.5,473.4"/><path d="M191.3,613.5 L192.9,603.0 L194.5,592.5 L196.0,582.0 L197.6,571.5 L199.2,561.0 L200.8,550.5 L202.3,540.0 L203.9,529.5 L205.5,519.0 L207.1,508.4 L208.7,497.9 L210.2,487.4 L211.8,476.8"/><path d="M98.9,534.6 L107.2,536.1 L115.5,537.6 L123.8,539.1 L132.0,540.5 L140.3,541.9 L148.6,543.3"/><path d="M59.0,565.4 L67.1,566.9 L75.1,568.4 L83.1,570.0 L91.2,571.5 L99.2,572.9 L107.3,574.4 L115.3,575.8 L123.4,577.2 L131.4,578.6 L139.5,579.9 L147.6,581.3 L155.6,582.6 L163.7,583.9 L171.8,585.2"/><path d="M45.5,601.0 L53.4,602.5 L61.3,604.1 L69.3,605.6 L77.2,607.1 L85.1,608.5"/><path d="M78.3,645.4 L80.3,634.4 L82.4,623.3 L84.4,612.2 L86.5,601.2 L88.6,590.1 L90.6,579.0 L92.7,567.9 L94.8,556.8 L96.8,545.7 L98.9,534.6"/><path d="M114.0,651.8 L116.3,638.8 L118.6,625.8 L120.8,612.8"/><path d="M120.8,612.8 L130.2,614.4 L139.6,615.9 L149.0,617.5 L158.4,619.0"/><path d="M78.3,645.4 L86.5,646.9 L94.8,648.4 L103.1,649.9 L111.4,651.3 L119.7,652.7 L128.0,654.1 L136.3,655.5 L144.6,656.9 L153.0,658.2 L161.3,659.5 L169.6,660.8"/><path d="M129.6,675.5 L131.4,665.2 L133.1,655.0"/><path d="M162.2,708.8 L163.8,697.9 L165.5,687.1 L167.2,676.2 L168.9,665.3 L170.6,654.4 L172.3,643.5 L174.0,632.6 L175.7,621.7"/><path d="M196.8,685.8 L198.5,674.2 L200.2,662.5 L201.9,650.8 L203.6,639.1 L205.3,627.5 L207.0,615.8"/><path d="M166.4,681.3 L175.4,682.7 L184.3,684.0 L193.3,685.3 L202.3,686.6 L211.3,687.8"/><path d="M167.9,609.9 L176.7,611.3 L185.6,612.6 L194.5,613.9 L203.3,615.2 L212.2,616.5 L221.1,617.7"/><path d="M158.4,619.0 L160.3,607.3 L162.2,595.6 L164.0,584.0"/></g><path d="M131.9,249.6 L139.3,251.0 L146.8,252.4 L154.2,253.8 L161.7,255.1 L169.2,256.5 L176.7,257.8 L184.1,259.1 L191.6,260.4 L199.1,261.6 L206.6,262.8 L214.1,264.0 L215.8,253.6 L217.5,243.2 L219.1,232.8 L220.8,222.4 L222.5,211.9 L224.2,201.5 L225.9,191.1 L227.6,180.7 L229.2,170.2 L230.9,159.8 L232.6,149.4 L234.3,139.0 L240.8,140.0 L247.4,141.1 L254.0,142.1 L260.6,143.0 L267.1,144.0 L273.7,145.0 L280.3,145.9 L286.9,146.8 L293.5,147.7 L300.0,148.6 L306.6,149.5 L313.2,150.3 L319.8,151.1 L326.4,151.9 L333.0,152.7 L339.6,153.5 L346.2,154.3 L352.8,155.0 L359.4,155.8 L366.0,156.5 L372.6,157.2 L379.3,157.8 L385.9,158.5 L392.5,159.1 L399.1,159.7 L405.7,160.4 L412.3,160.9 L419.0,161.5 L418.1,172.0 L417.2,182.5 L416.3,193.0 L415.4,203.6 L414.4,214.1 L413.5,224.6 L412.6,235.1 L411.7,245.6 L410.8,256.1 L409.9,266.7 L409.0,277.2 L408.1,287.7 L407.2,298.2 L406.3,308.7 L405.4,319.2 L404.5,329.7 L411.6,330.3 L418.6,330.9 L425.7,331.5 L432.8,332.0 L439.9,332.5 L446.9,333.0 L454.0,333.5 L461.1,333.9 L460.4,344.5 L459.8,355.0 L459.1,365.5 L458.5,376.0 L457.8,386.6 L457.1,397.1 L456.5,407.6 L455.8,418.1 L455.2,428.6 L454.5,439.1 L453.8,449.6 L453.2,460.1 L452.5,470.6 L451.9,481.1 L451.2,491.6 L450.6,502.1 L440.9,501.4 L431.3,500.8 L421.7,500.1 L420.8,510.5 L419.9,521.0 L419.0,531.4 L418.2,541.9 L417.3,552.3 L416.4,562.8 L415.5,573.2 L414.7,583.6 L413.8,594.1 L412.9,604.5 L412.0,614.9 L411.2,625.3 L410.3,635.7 L409.4,646.1 L408.5,656.5 L407.7,666.8 L406.8,677.2 L405.9,687.6 L405.0,697.9 L404.2,708.3 L395.9,707.7 L387.7,707.0 L379.5,706.4 L371.3,705.7 L363.1,705.0 L354.9,704.2 L346.7,703.5 L338.5,702.7 L330.3,701.9 L322.1,701.1 L313.9,700.3 L305.7,699.4 L297.5,698.5 L289.4,697.6 L291.2,707.0 L282.2,706.0 L273.2,704.9 L264.1,703.9 L255.1,702.8 L246.1,701.7 L237.1,700.5 L234.6,719.0 L226.2,717.9 L217.8,716.8 L209.4,715.7 L201.0,714.5 L192.5,713.3 L184.1,712.1 L175.7,710.9 L167.3,709.6 L158.9,708.3 L150.5,707.0 L142.1,705.7 L134.1,700.9 L126.0,696.1 L118.0,691.3 L110.0,686.4 L102.1,681.6 L94.1,676.7 L86.2,671.8 L78.3,666.8 L70.4,661.9 L62.6,656.9 L54.8,651.9 L47.0,646.9 L39.2,641.9 L31.4,636.8 L32.0,635.8 L35.2,628.6 L41.6,617.4 L40.8,603.1 L45.6,598.3 L52.0,582.3 L54.4,575.9 L60.0,571.0 L63.0,563.0 L59.2,555.0 L60.0,543.9 L58.4,532.7 L61.5,520.0 L62.3,503.6 L63.8,491.3 L67.6,489.0 L74.5,490.6 L78.4,495.2 L85.3,489.0 L85.0,489.3 L87.0,479.0 L89.1,468.6 L91.1,458.2 L93.1,447.8 L95.2,437.4 L97.2,427.0 L99.2,416.6 L101.3,406.1 L103.3,395.7 L105.3,385.3 L107.4,374.9 L109.4,364.5 L111.5,354.0 L113.5,343.6 L115.5,333.2 L117.6,322.7 L119.6,312.3 L121.7,301.8 L123.7,291.4 L125.7,280.9 L127.8,270.5 L129.8,260.1 L131.9,249.6Z" fill="none" stroke="#2a3a1a" stroke-width="0.9" stroke-opacity="0.7"/><g class="cl"><text x="314.9" y="348.1">Routt</text><text x="336.5" y="364.3">Grand</text><text x="282.4" y="363.0">Rio Blanco</text><text x="283.8" y="380.5">Garfield</text><text x="317.6" y="381.9">Eagle</text><text x="264.9" y="402.2">Mesa</text><text x="282.4" y="410.3">Delta</text><text x="347.3" y="407.6">Park</text><text x="366.2" y="413.0">Teller</text><text x="379.7" y="422.4">El Paso</text><text x="397.3" y="403.5">Lincoln</text><text x="439.2" y="407.6">Kit Carson</text><text x="436.5" y="427.8">Cheyenne</text><text x="436.5" y="444.1">Kiowa</text><text x="405.4" y="446.8">Crowley</text><text x="347.3" y="421.1">Chaffee</text><text x="350.0" y="434.6">Fremont</text><text x="270.3" y="427.8">Montrose</text><text x="263.5" y="442.7">San Miguel</text><text x="274.3" y="477.8">La Plata</text><text x="398.6" y="488.7">Las Animas</text><text x="435.1" y="491.4">Baca</text><text x="400.0" y="465.7">Otero</text><text x="418.9" y="465.7">Bent</text><text x="450.0" y="465.7">Prowers</text><text x="304.0" y="417.0">Gunnison</text><text x="310.8" y="445.4">Saguache</text><text x="358.1" y="467.0">Huerfano</text><text x="367.6" y="445.4">Pueblo</text><text x="337.8" y="479.2">Costilla</text><text x="325.7" y="469.7">Alamosa</text><text x="290.5" y="485.9">Archuleta</text><text x="344.6" y="388.7">Douglas</text><text x="368.9" y="395.4">Elbert</text><text x="425.7" y="383.2">Washington</text><text x="412.2" y="368.4">Morgan</text><text x="446.0" y="377.8">Yuma</text><text x="428.4" y="345.4">Logan</text><text x="378.4" y="352.2">Weld</text><text x="360.8" y="342.7">Larimer</text><text x="368.9" y="377.8">Adams</text><text x="371.6" y="387.3">Arapahoe</text><text x="282.8" y="335.7">Moffat</text><text x="333.7" y="340.0">Jackson</text><text x="446.7" y="337.2">Sedgwick</text><text x="452.3" y="355.5">Phillips</text><text x="280.0" y="434.3">Ouray</text><text x="297.0" y="457.3">Hinsdale</text><text x="243.2" y="473.2">Montezuma</text><text x="265.8" y="166.2">Park</text><text x="339.3" y="164.8">Sheridan</text><text x="311.0" y="178.9">Big Horn</text><text x="240.4" y="188.8">Teton</text><text x="373.2" y="191.6">Campbell</text><text x="404.3" y="178.9">Crook</text><text x="305.0" y="200.1">Washakie</text><text x="333.0" y="200.1">Johnson</text><text x="287.0" y="208.6">Hot Springs</text><text x="404.3" y="211.4">Weston</text><text x="291.3" y="232.6">Fremont</text><text x="336.5" y="242.5">Natrona</text><text x="376.0" y="245.3">Converse</text><text x="405.0" y="245.3">Niobrara</text><text x="243.2" y="239.7">Sublette</text><text x="268.7" y="290.5">Sweetwater</text><text x="330.8" y="293.4">Carbon</text><text x="388.0" y="284.9">Platte</text><text x="407.0" y="284.9">Goshen</text><text x="356.3" y="317.4">Albany</text><text x="387.3" y="318.8">Laramie</text><text x="226.3" y="296.2">Uinta</text><text x="155.6" y="276.4">Box Elder</text><text x="193.8" y="272.7">Cache</text><text x="206.5" y="282.1">Rich</text><text x="178.2" y="288.3">Weber</text><text x="176.0" y="296.3">Davis</text><text x="141.5" y="320.2">Tooele</text><text x="175.4" y="318.8">Salt Lake</text><text x="200.8" y="316.0">Summit</text><text x="248.9" y="320.2">Daggett</text><text x="179.6" y="341.4">Utah</text><text x="217.8" y="340.0">Duchesne</text><text x="243.2" y="351.3">Uintah</text><text x="148.6" y="352.7">Juab</text><text x="212.1" y="366.8">Carbon</text><text x="135.9" y="378.1">Millard</text><text x="200.8" y="392.3">Emery</text><text x="231.9" y="397.9">Grand</text><text x="121.7" y="406.4">Beaver</text><text x="195.2" y="420.5">Wayne</text><text x="104.8" y="450.6">Washington</text><text x="155.6" y="461.9">Kane</text><text x="220.6" y="456.2">San Juan</text><text x="79.3" y="515.5">Mohave</text><text x="141.5" y="519.8">Coconino</text><text x="257.4" y="507.1">San Juan</text><text x="305.4" y="512.7">Rio Arriba</text><text x="339.3" y="514.1">Taos</text><text x="367.6" y="515.5">Colfax</text><text x="401.5" y="524.0">Union</text><text x="189.5" y="545.2">Navajo</text><text x="257.4" y="545.2">McKinley</text><text x="356.3" y="538.2">Mora</text><text x="393.0" y="546.6">Harding</text><text x="118.9" y="566.4">Yavapai</text><text x="325.2" y="557.9">Santa Fe</text><text x="359.1" y="560.8">San Miguel</text><text x="263.0" y="573.5">Cibola</text><text x="296.9" y="573.5">Bernalillo</text><text x="398.6" y="580.5">Quay</text><text x="68.0" y="594.7">La Paz</text><text x="291.3" y="587.6">Valencia</text><text x="359.1" y="587.6">Guadalupe</text><text x="319.5" y="594.7">Torrance</text><text x="172.6" y="611.6">Gila</text><text x="240.4" y="614.4">Catron</text><text x="291.3" y="617.3">Socorro</text><text x="367.6" y="610.2">De Baca</text><text x="101.9" y="617.3">Maricopa</text><text x="330.8" y="632.8">Lincoln</text><text x="398.6" y="625.7">Roosevelt</text><text x="56.7" y="631.4">Yuma</text><text x="135.9" y="639.9">Pinal</text><text x="212.1" y="639.9">Greenlee</text><text x="186.7" y="648.3">Graham</text><text x="277.1" y="651.2">Sierra</text><text x="364.7" y="651.2">Chaves</text><text x="240.4" y="662.5">Grant</text><text x="127.4" y="671.0">Pima</text><text x="316.7" y="678.0">Otero</text><text x="395.8" y="678.0">Lea</text><text x="254.5" y="687.9">Luna</text><text x="282.8" y="685.1">Dona Ana</text><text x="361.9" y="687.9">Eddy</text><text x="186.7" y="693.6">Cochise</text><text x="217.8" y="696.4">Hidalgo</text><text x="152.8" y="700.6">Santa Cruz</text><text x="175.0" y="387.3">Sanpete</text><text x="165.0" y="407.3">Sevier</text><text x="160.0" y="420.3">Piute</text><text x="170.0" y="442.3">Garfield</text><text x="115.0" y="427.3">Iron</text></g>
<path d="M251.4,207.8 L258.3,211.9 L260.6,224.5 L267.5,236.0 L272.1,247.5 L276.7,261.4 L289.3,263.7 L300.8,261.4 L304.3,264.8 L312.3,266.0 L322.7,269.4 L322.7,282.1 L315.8,285.5 L312.3,293.6 L314.6,303.9 L319.3,310.8 L323.9,322.4 L328.5,328.1 L328.5,339.6 L328.0,347.0 L340.0,350.0 L346.1,350.9 L352.6,349.0 L354.8,361.7 L352.6,372.6 L346.1,385.7 L337.4,392.2 L326.5,394.3 L324.3,405.2 L327.6,416.1 L328.7,427.0 L326.5,435.7 L320.0,438.9 L313.5,448.7 L302.6,454.1 L295.0,462.8 L304.8,466.1 L311.3,474.8 L313.5,484.6 L308.0,492.2 L302.6,503.0 L299.5,514.7 L298.0,522.1 L292.9,527.3 L287.0,528.7 L281.1,533.2 L272.2,537.6 L270.7,541.3 L264.8,545.0 L251.6,541.3 L244.2,542.7 L238.3,537.6 L236.8,532.4 L241.3,527.3 L240.5,522.8 L224.3,526.5 L213.3,531.0 L208.8,525.1 L207.4,516.2 L213.3,507.4 L211.1,500.0 L206.8,500.8 L199.8,495.0 L194.1,488.1 L188.3,484.7 L178.0,492.7 L169.9,493.9 L163.0,488.1 L161.9,477.7 L152.7,477.7 L148.1,472.0 L148.1,460.5 L145.8,451.3 L151.5,442.1 L160.7,435.2 L165.3,424.8 L167.6,409.8 L174.5,398.3 L180.3,393.7 L183.7,373.0 L190.4,368.0 L192.7,354.6 L197.3,348.8 L196.1,339.6 L197.3,331.6 L203.0,328.1 L208.8,322.4 L216.8,314.3 L215.7,299.3 L214.5,287.8 L214.5,279.8 L223.7,272.9 L222.6,268.3 L221.4,259.0 L223.7,252.1 L226.0,247.5 L228.3,242.9 L231.8,233.7 L232.9,224.5 L243.3,219.9 L244.4,211.9Z" fill="none" stroke="#0c180c" stroke-width="1.5" stroke-linejoin="round" stroke-opacity="0.9"/>
<text x="608.3" y="174.8" class="tt">Intermountain West&#160;</text>
<text x="608.3" y="202.5" class="tt">Water Year 2019 Precipitation</text>
<text x="608.3" y="230.2" class="tt">as a Percentage of Normal</text>
<text x="608.3" y="257.9" class="tt">(Oct 2018 - Jul 2019)</text>
<text x="510.4" y="296.2" class="lt">awy_jul19_pn</text>
<text x="510.4" y="316.6" class="ls">Precip as % of normal</text>
<rect x="510.4" y="326.2" width="31.6" height="14.6" fill="#c3503c" stroke="#8a8a8a" stroke-width="0.8"/>
<text x="547.6" y="337.5" class="ll">0</text>
<rect x="510.4" y="347.6" width="31.6" height="14.6" fill="#d2693a" stroke="#8a8a8a" stroke-width="0.8"/>
<text x="547.6" y="358.9" class="ll">0 - 10</text>
<rect x="510.4" y="368.9" width="31.6" height="14.6" fill="#dc823a" stroke="#8a8a8a" stroke-width="0.8"/>
<text x="547.6" y="380.2" class="ll">11 - 20</text>
<rect x="510.4" y="390.3" width="31.6" height="14.6" fill="#e29b3a" stroke="#8a8a8a" stroke-width="0.8"/>
<text x="547.6" y="401.6" class="ll">21 - 30</text>
<rect x="510.4" y="411.6" width="31.6" height="14.6" fill="#ebb83e" stroke="#8a8a8a" stroke-width="0.8"/>
<text x="547.6" y="422.9" class="ll">31 - 50</text>
<rect x="510.4" y="433.0" width="31.6" height="14.6" fill="#f5dc44" stroke="#8a8a8a" stroke-width="0.8"/>
<text x="547.6" y="444.3" class="ll">51 - 70</text>
<rect x="510.4" y="454.4" width="31.6" height="14.6" fill="#e2f54c" stroke="#8a8a8a" stroke-width="0.8"/>
<text x="547.6" y="465.7" class="ll">71 - 90</text>
<rect x="510.4" y="475.7" width="31.6" height="14.6" fill="#a3ec48" stroke="#8a8a8a" stroke-width="0.8"/>
<text x="547.6" y="487.0" class="ll">91 - 110</text>
<rect x="510.4" y="497.1" width="31.6" height="14.6" fill="#5fdc42" stroke="#8a8a8a" stroke-width="0.8"/>
<text x="547.6" y="508.4" class="ll">111 - 130</text>
<rect x="510.4" y="518.4" width="31.6" height="14.6" fill="#50c348" stroke="#8a8a8a" stroke-width="0.8"/>
<text x="547.6" y="529.7" class="ll">131 - 150</text>
<rect x="510.4" y="539.8" width="31.6" height="14.6" fill="#47af70" stroke="#8a8a8a" stroke-width="0.8"/>
<text x="547.6" y="551.1" class="ll">151 - 170</text>
<rect x="510.4" y="561.2" width="31.6" height="14.6" fill="#3ca08c" stroke="#8a8a8a" stroke-width="0.8"/>
<text x="547.6" y="572.5" class="ll">171 - 200</text>
<rect x="510.4" y="582.5" width="31.6" height="14.6" fill="#33829b" stroke="#8a8a8a" stroke-width="0.8"/>
<text x="547.6" y="593.8" class="ll">201 - 250</text>
<rect x="510.4" y="603.9" width="31.6" height="14.6" fill="#245591" stroke="#8a8a8a" stroke-width="0.8"/>
<text x="547.6" y="615.2" class="ll">251 - 300</text>
<rect x="510.4" y="625.2" width="31.6" height="14.6" fill="#162c86" stroke="#8a8a8a" stroke-width="0.8"/>
<text x="547.6" y="636.5" class="ll">300+</text>
<rect x="511.0" y="647.2" width="30.6" height="14" fill="#fff" stroke="#777" stroke-width="1.4"/>
<text x="547.6" y="657.9" class="ll">Upper Colorado River Basin</text>
<text x="510.4" y="679.5" class="lc">Data from PRISM Climate Group</text>
</g>
</svg>
<p style="top:1406px;left:1px">The images above use daily precipitation statistics from NWS COOP, CoCoRaHS, and CoAgMet stations.<br>From top to bottom, and left to right: most recent 7-days of accumulated precipitation in inches; current<br>month-to-date accumulated precipitation in inches; last month's precipitation as a percent of average; water-<br>year-to-date precipitation as a percent of average.</p>
</body></html>
